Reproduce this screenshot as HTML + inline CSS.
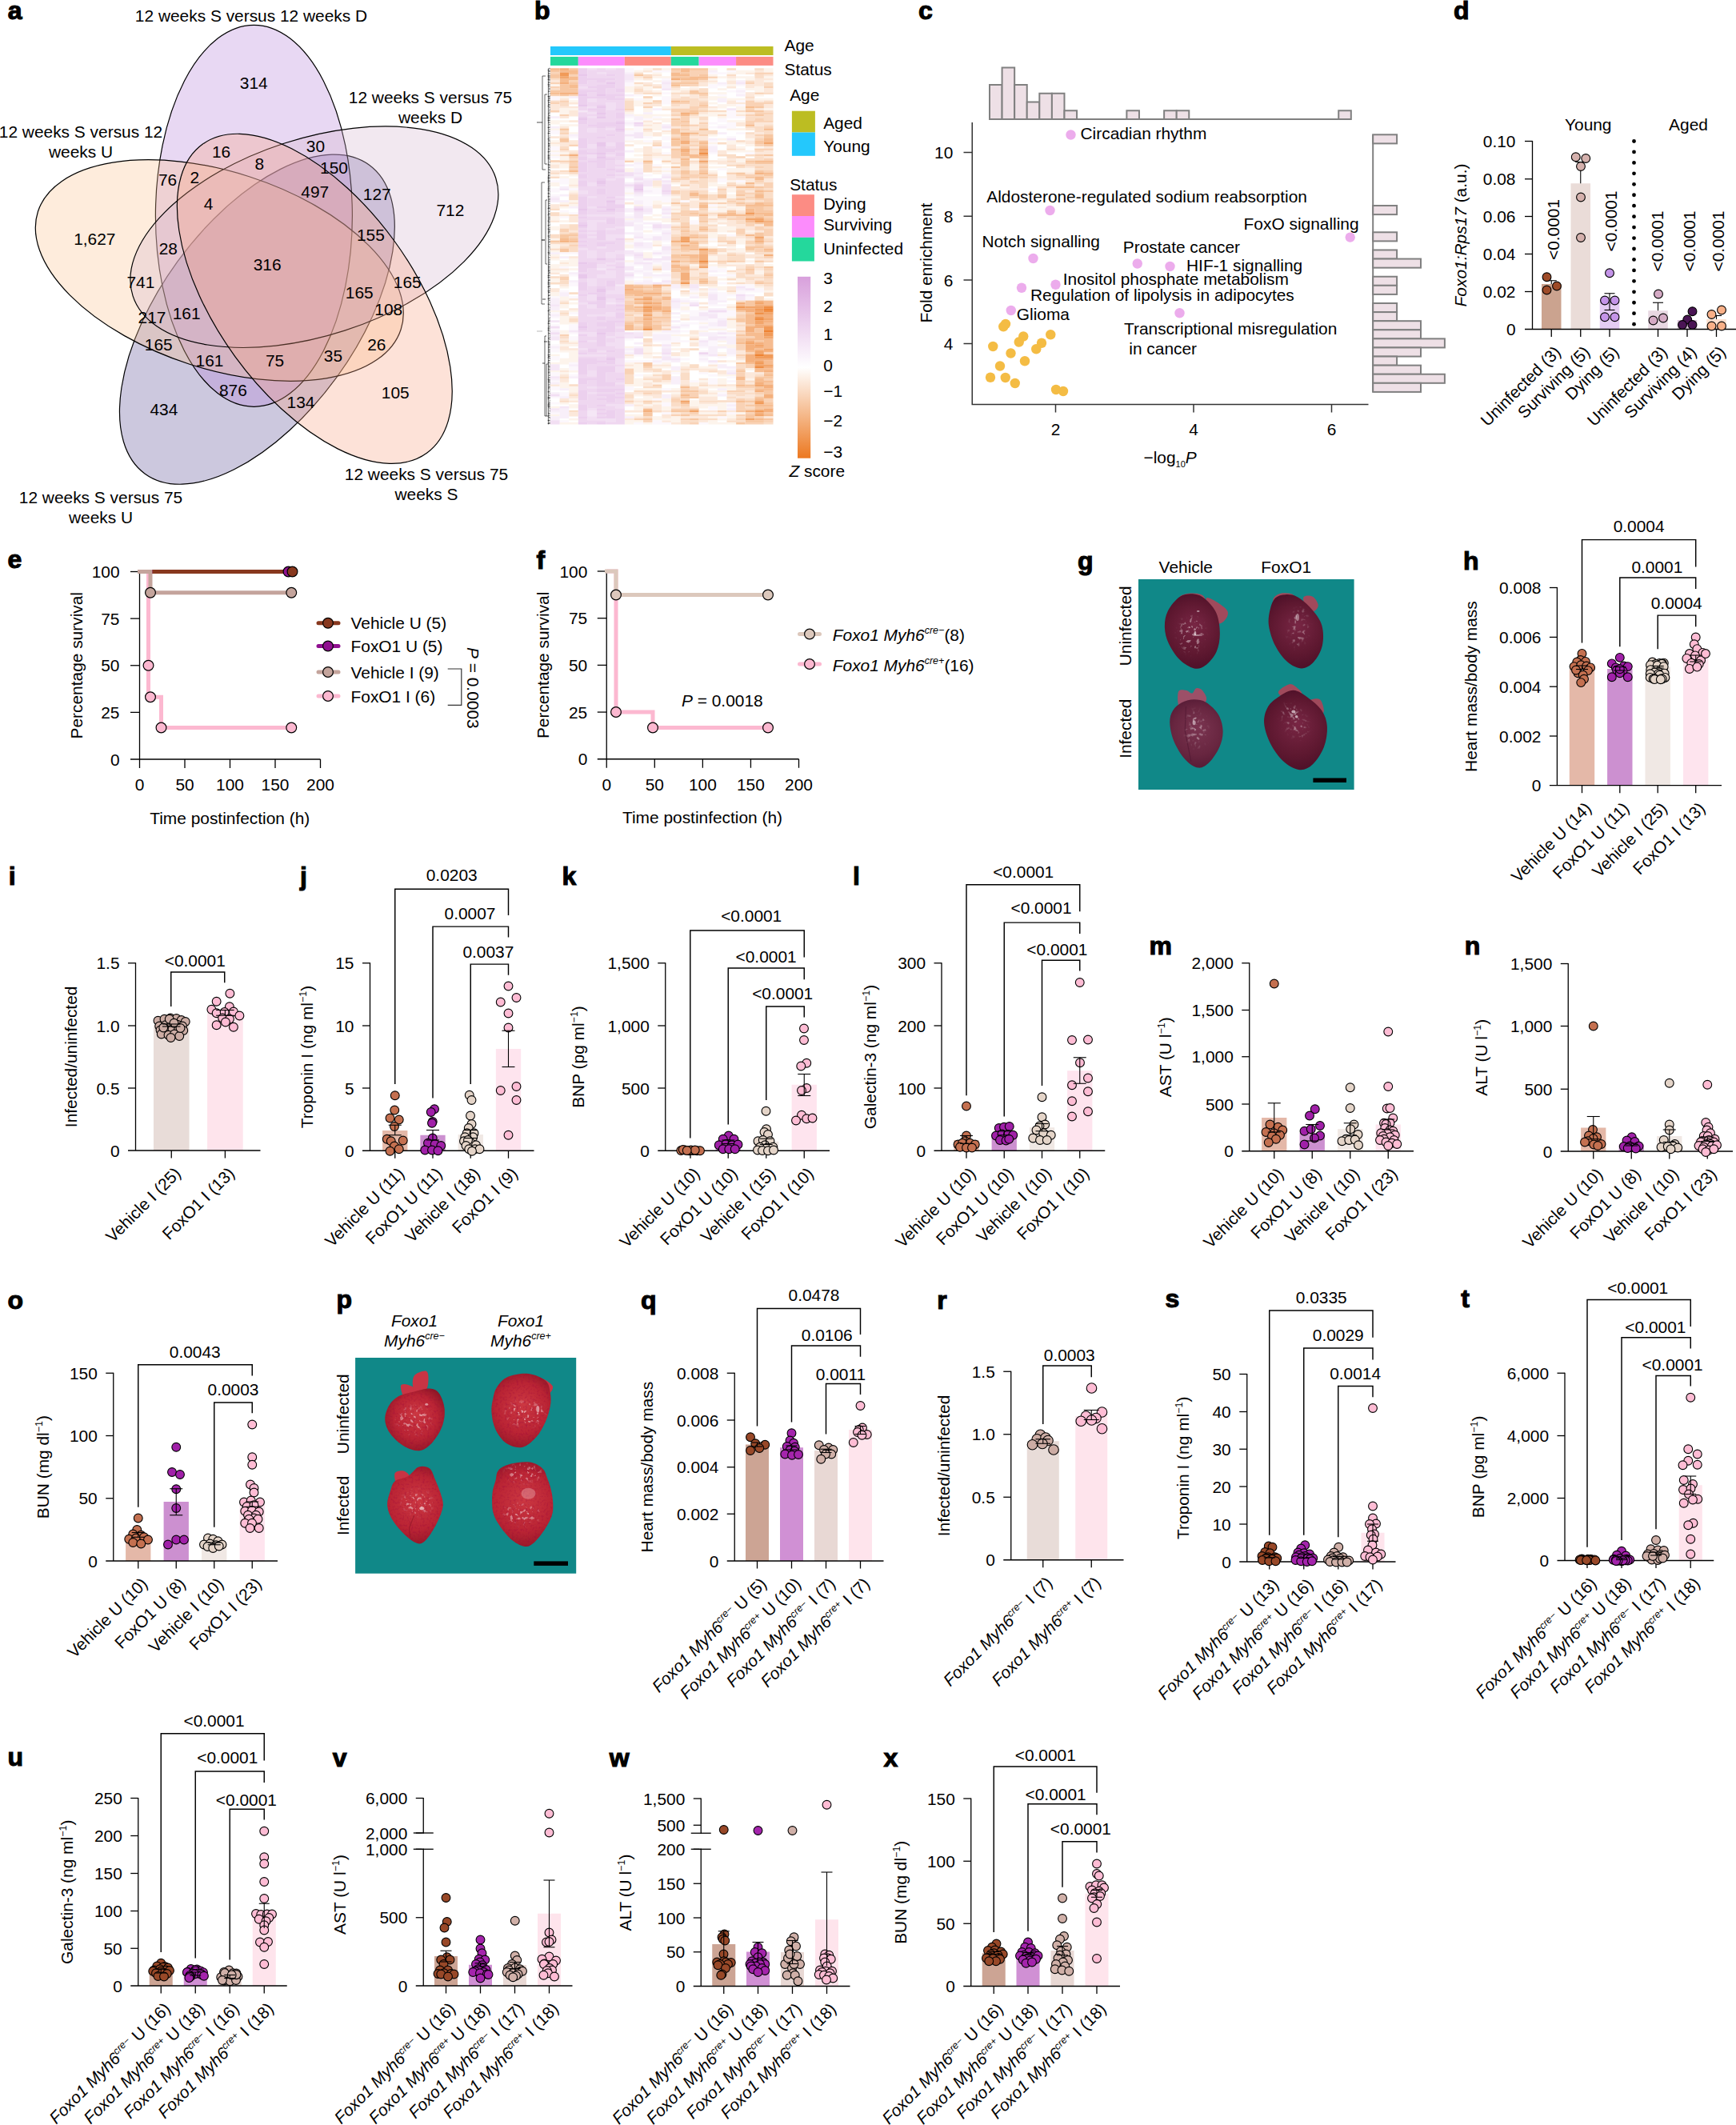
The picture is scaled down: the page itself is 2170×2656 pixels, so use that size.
<!DOCTYPE html><html><head><meta charset="utf-8"><title>Figure</title><style>html,body{margin:0;padding:0;background:#fff}svg{display:block}text{font-family:"Liberation Sans",sans-serif}</style></head><body>
<svg width="2170" height="2656" viewBox="0 0 2170 2656" font-size="20.9" fill="#000" stroke="none">
<rect width="2170" height="2656" fill="#fff"/>
<text x="9.8" y="24.4" font-size="32" font-weight="bold" stroke="#000" stroke-width="1.1">a</text>
<ellipse cx="0" cy="0" rx="238.5" ry="123" transform="translate(321.4 399.2) rotate(-54)" fill="#554891" fill-opacity="0.3" stroke="#000" stroke-width="1.2"/>
<ellipse cx="0" cy="0" rx="238.5" ry="123" transform="translate(317.4 269.8) rotate(90)" fill="#B27DD7" fill-opacity="0.3" stroke="#000" stroke-width="1.2"/>
<ellipse cx="0" cy="0" rx="238.5" ry="123" transform="translate(274.3 338) rotate(18)" fill="#FCC08A" fill-opacity="0.3" stroke="#000" stroke-width="1.2"/>
<ellipse cx="0" cy="0" rx="238.5" ry="123" transform="translate(392.9 296.2) rotate(-18)" fill="#D4B2CD" fill-opacity="0.3" stroke="#000" stroke-width="1.2"/>
<ellipse cx="0" cy="0" rx="238.5" ry="123" transform="translate(393.3 373.3) rotate(54)" fill="#F89E7D" fill-opacity="0.3" stroke="#000" stroke-width="1.2"/>
<text text-anchor="middle" x="317.3" y="111.1">314</text>
<text text-anchor="middle" x="562.9" y="269.7">712</text>
<text text-anchor="middle" x="118.3" y="306.2">1,627</text>
<text text-anchor="middle" x="494.3" y="497.7">105</text>
<text text-anchor="middle" x="204.9" y="518.9">434</text>
<text text-anchor="middle" x="276.5" y="197.3">16</text>
<text text-anchor="middle" x="394.4" y="189.8">30</text>
<text text-anchor="middle" x="324.3" y="212.2">8</text>
<text text-anchor="middle" x="417.5" y="217.2">150</text>
<text text-anchor="middle" x="209.6" y="231.7">76</text>
<text text-anchor="middle" x="243.2" y="228.6">2</text>
<text text-anchor="middle" x="393.7" y="247">497</text>
<text text-anchor="middle" x="471.2" y="250.2">127</text>
<text text-anchor="middle" x="260.5" y="261.9">4</text>
<text text-anchor="middle" x="463.4" y="300.7">155</text>
<text text-anchor="middle" x="210.3" y="317.5">28</text>
<text text-anchor="middle" x="334.1" y="337.9">316</text>
<text text-anchor="middle" x="175.9" y="359.8">741</text>
<text text-anchor="middle" x="509.2" y="359.8">165</text>
<text text-anchor="middle" x="449.3" y="373.1">165</text>
<text text-anchor="middle" x="485.7" y="393.5">108</text>
<text text-anchor="middle" x="190" y="404.1">217</text>
<text text-anchor="middle" x="233.1" y="399">161</text>
<text text-anchor="middle" x="198.2" y="438.2">165</text>
<text text-anchor="middle" x="470.8" y="438.2">26</text>
<text text-anchor="middle" x="262" y="457.8">161</text>
<text text-anchor="middle" x="343.5" y="457.8">75</text>
<text text-anchor="middle" x="416.4" y="452.3">35</text>
<text text-anchor="middle" x="291.4" y="495.4">876</text>
<text text-anchor="middle" x="376" y="510.2">134</text>
<text text-anchor="middle" x="314" y="27">12 weeks S versus 12 weeks D</text>
<text text-anchor="middle" x="538" y="129">12 weeks S versus 75</text>
<text text-anchor="middle" x="538" y="154">weeks D</text>
<text text-anchor="middle" x="101" y="172">12 weeks S versus 12</text>
<text text-anchor="middle" x="101" y="197">weeks U</text>
<text text-anchor="middle" x="533" y="600">12 weeks S versus 75</text>
<text text-anchor="middle" x="533" y="625">weeks S</text>
<text text-anchor="middle" x="126" y="629">12 weeks S versus 75</text>
<text text-anchor="middle" x="126" y="654">weeks U</text>
<text x="668" y="24" font-size="32" font-weight="bold" stroke="#000" stroke-width="1.1">b</text>
<rect x="688" y="58" width="150.85" height="11" fill="#24C8FC"/>
<rect x="838.85" y="58" width="127.65" height="11" fill="#BCBD22"/>
<rect x="688" y="70.9" width="34.81" height="11" fill="#24D89C"/>
<rect x="722.81" y="70.9" width="58.02" height="11" fill="#FC8CFC"/>
<rect x="780.83" y="70.9" width="58.02" height="11" fill="#FC8C84"/>
<rect x="838.85" y="70.9" width="34.81" height="11" fill="#24D89C"/>
<rect x="873.67" y="70.9" width="46.42" height="11" fill="#FC8CFC"/>
<rect x="920.08" y="70.9" width="46.42" height="11" fill="#FC8C84"/>
<path d="M943.29 444.15h11.6M954.9 386.65h11.6M954.9 414.15h11.6" stroke="#ee8333" stroke-width="2.85" fill="none"/>
<path d="M804.04 411.65h11.6M873.67 191.65h11.6M873.67 326.65h11.6M943.29 391.65h11.6M943.29 399.15h11.6M943.29 459.15h11.6M954.9 384.15h11.6M954.9 389.15h11.6" stroke="#ef8e45" stroke-width="2.85" fill="none"/>
<path d="M699.6 91.65h11.6M699.6 94.15h11.6M804.04 384.15h11.6M850.46 301.65h11.6M850.46 354.15h11.6M873.67 311.65h11.6M920.08 384.15h11.6M931.69 266.65h11.6M943.29 276.65h11.6M943.29 386.65h11.6M943.29 396.65h11.6M943.29 446.65h11.6M943.29 454.15h11.6M943.29 504.15h11.6M943.29 514.15h11.6M954.9 409.15h11.6M954.9 411.65h11.6M954.9 416.65h11.6M954.9 419.15h11.6M954.9 444.15h11.6M954.9 446.65h11.6" stroke="#f19a58" stroke-width="2.85" fill="none"/>
<path d="M699.6 96.65h11.6M804.04 374.15h11.6M804.04 379.15h11.6M804.04 386.65h11.6M804.04 389.15h11.6M804.04 394.15h11.6M850.46 296.65h11.6M850.46 299.15h11.6M850.46 501.65h11.6M862.06 514.15h11.6M873.67 186.65h11.6M873.67 201.65h11.6M873.67 334.15h11.6M931.69 274.15h11.6M931.69 384.15h11.6M931.69 429.15h11.6M931.69 524.15h11.6M943.29 274.15h11.6M943.29 296.65h11.6M943.29 379.15h11.6M943.29 384.15h11.6M943.29 389.15h11.6M943.29 401.65h11.6M943.29 404.15h11.6M943.29 431.65h11.6M943.29 439.15h11.6M943.29 441.65h11.6M943.29 451.65h11.6M943.29 456.65h11.6M943.29 481.65h11.6M943.29 501.65h11.6M943.29 519.15h11.6M954.9 179.15h11.6M954.9 391.65h11.6M954.9 399.15h11.6M954.9 421.65h11.6M954.9 436.65h11.6M954.9 456.65h11.6" stroke="#f2a56a" stroke-width="2.85" fill="none"/>
<path d="M699.6 86.65h11.6M699.6 104.15h11.6M699.6 116.65h11.6M699.6 301.65h11.6M711.21 116.65h11.6M711.21 194.15h11.6M780.83 361.65h11.6M792.44 374.15h11.6M804.04 366.65h11.6M804.04 371.65h11.6M804.04 399.15h11.6M804.04 409.15h11.6M804.04 514.15h11.6M815.65 356.65h11.6M815.65 366.65h11.6M815.65 379.15h11.6M815.65 384.15h11.6M815.65 386.65h11.6M827.25 389.15h11.6M838.85 99.15h11.6M838.85 301.65h11.6M838.85 326.65h11.6M850.46 141.65h11.6M850.46 166.65h11.6M850.46 176.65h11.6M850.46 179.15h11.6M850.46 186.65h11.6M850.46 189.15h11.6M850.46 306.65h11.6M850.46 341.65h11.6M850.46 344.15h11.6M850.46 346.65h11.6M850.46 349.15h11.6M873.67 189.15h11.6M873.67 194.15h11.6M873.67 319.15h11.6M873.67 321.65h11.6M873.67 324.15h11.6M873.67 329.15h11.6M920.08 379.15h11.6M920.08 386.65h11.6M931.69 386.65h11.6M931.69 389.15h11.6M931.69 409.15h11.6M931.69 411.65h11.6M931.69 414.15h11.6M931.69 426.65h11.6M931.69 431.65h11.6M931.69 434.15h11.6M931.69 436.65h11.6M931.69 444.15h11.6M931.69 446.65h11.6M931.69 449.15h11.6M931.69 451.65h11.6M931.69 514.15h11.6M943.29 216.65h11.6M943.29 301.65h11.6M943.29 376.65h11.6M943.29 381.65h11.6M943.29 394.15h11.6M943.29 406.65h11.6M943.29 409.15h11.6M943.29 429.15h11.6M943.29 434.15h11.6M943.29 449.15h11.6M943.29 479.15h11.6M943.29 489.15h11.6M943.29 516.65h11.6M954.9 276.65h11.6M954.9 319.15h11.6M954.9 381.65h11.6M954.9 394.15h11.6M954.9 396.65h11.6M954.9 401.65h11.6M954.9 406.65h11.6M954.9 439.15h11.6M954.9 449.15h11.6M954.9 459.15h11.6M954.9 464.15h11.6M954.9 481.65h11.6M954.9 484.15h11.6M954.9 494.15h11.6M954.9 496.65h11.6M954.9 511.65h11.6M954.9 514.15h11.6" stroke="#f4b07d" stroke-width="2.85" fill="none"/>
<path d="M688 86.65h11.6M688 116.65h11.6M699.6 89.15h11.6M699.6 99.15h11.6M699.6 101.65h11.6M699.6 299.15h11.6M711.21 89.15h11.6M711.21 91.65h11.6M711.21 96.65h11.6M711.21 99.15h11.6M711.21 106.65h11.6M711.21 109.15h11.6M711.21 214.15h11.6M711.21 301.65h11.6M780.83 356.65h11.6M780.83 359.15h11.6M780.83 364.15h11.6M780.83 366.65h11.6M780.83 406.65h11.6M780.83 409.15h11.6M780.83 411.65h11.6M792.44 359.15h11.6M792.44 364.15h11.6M792.44 366.65h11.6M792.44 369.15h11.6M792.44 379.15h11.6M792.44 384.15h11.6M804.04 201.65h11.6M804.04 376.65h11.6M804.04 381.65h11.6M804.04 391.65h11.6M804.04 396.65h11.6M804.04 401.65h11.6M804.04 404.15h11.6M804.04 406.65h11.6M804.04 511.65h11.6M815.65 359.15h11.6M815.65 381.65h11.6M827.25 356.65h11.6M827.25 371.65h11.6M827.25 374.15h11.6M827.25 384.15h11.6M827.25 386.65h11.6M838.85 91.65h11.6M838.85 94.15h11.6M838.85 106.65h11.6M838.85 126.65h11.6M838.85 174.15h11.6M838.85 331.65h11.6M838.85 334.15h11.6M850.46 86.65h11.6M850.46 89.15h11.6M850.46 94.15h11.6M850.46 99.15h11.6M850.46 144.15h11.6M850.46 169.15h11.6M850.46 191.65h11.6M850.46 194.15h11.6M850.46 199.15h11.6M850.46 319.15h11.6M850.46 334.15h11.6M850.46 336.65h11.6M850.46 351.65h11.6M850.46 484.15h11.6M850.46 494.15h11.6M850.46 504.15h11.6M862.06 96.65h11.6M862.06 99.15h11.6M862.06 141.65h11.6M862.06 166.65h11.6M862.06 194.15h11.6M862.06 196.65h11.6M862.06 241.65h11.6M862.06 244.15h11.6M862.06 296.65h11.6M862.06 304.15h11.6M862.06 311.65h11.6M862.06 319.15h11.6M862.06 321.65h11.6M862.06 326.65h11.6M873.67 96.65h11.6M873.67 161.65h11.6M873.67 179.15h11.6M873.67 184.15h11.6M873.67 196.65h11.6M873.67 216.65h11.6M873.67 256.65h11.6M873.67 259.15h11.6M873.67 269.15h11.6M873.67 286.65h11.6M873.67 314.15h11.6M873.67 316.65h11.6M873.67 331.65h11.6M873.67 351.65h11.6M896.88 269.15h11.6M908.48 266.65h11.6M908.48 269.15h11.6M920.08 234.15h11.6M920.08 269.15h11.6M920.08 381.65h11.6M920.08 429.15h11.6M920.08 471.65h11.6M920.08 474.15h11.6M920.08 481.65h11.6M920.08 501.65h11.6M931.69 134.15h11.6M931.69 156.65h11.6M931.69 229.15h11.6M931.69 234.15h11.6M931.69 256.65h11.6M931.69 261.65h11.6M931.69 264.15h11.6M931.69 269.15h11.6M931.69 276.65h11.6M931.69 294.15h11.6M931.69 394.15h11.6M931.69 396.65h11.6M931.69 399.15h11.6M931.69 401.65h11.6M931.69 404.15h11.6M931.69 416.65h11.6M931.69 419.15h11.6M931.69 424.15h11.6M931.69 439.15h11.6M931.69 454.15h11.6M943.29 201.65h11.6M943.29 221.65h11.6M943.29 224.15h11.6M943.29 239.15h11.6M943.29 244.15h11.6M943.29 246.65h11.6M943.29 254.15h11.6M943.29 256.65h11.6M943.29 266.65h11.6M943.29 271.65h11.6M943.29 299.15h11.6M943.29 416.65h11.6M943.29 419.15h11.6M943.29 421.65h11.6M943.29 424.15h11.6M943.29 436.65h11.6M943.29 461.65h11.6M943.29 464.15h11.6M943.29 474.15h11.6M943.29 476.65h11.6M943.29 486.65h11.6M943.29 499.15h11.6M943.29 506.65h11.6M943.29 511.65h11.6M943.29 524.15h11.6M954.9 161.65h11.6M954.9 174.15h11.6M954.9 176.65h11.6M954.9 201.65h11.6M954.9 216.65h11.6M954.9 256.65h11.6M954.9 266.65h11.6M954.9 269.15h11.6M954.9 279.15h11.6M954.9 281.65h11.6M954.9 311.65h11.6M954.9 376.65h11.6M954.9 379.15h11.6M954.9 404.15h11.6M954.9 424.15h11.6M954.9 426.65h11.6M954.9 429.15h11.6M954.9 431.65h11.6M954.9 434.15h11.6M954.9 451.65h11.6M954.9 454.15h11.6M954.9 461.65h11.6M954.9 469.15h11.6M954.9 476.65h11.6M954.9 486.65h11.6M954.9 506.65h11.6M954.9 519.15h11.6" stroke="#f6bc90" stroke-width="2.85" fill="none"/>
<path d="M688 89.15h11.6M688 94.15h11.6M688 96.65h11.6M688 114.15h11.6M688 301.65h11.6M699.6 106.65h11.6M699.6 109.15h11.6M699.6 111.65h11.6M699.6 114.15h11.6M699.6 119.15h11.6M699.6 161.65h11.6M699.6 174.15h11.6M699.6 176.65h11.6M699.6 294.15h11.6M699.6 296.65h11.6M699.6 311.65h11.6M699.6 314.15h11.6M711.21 86.65h11.6M711.21 104.15h11.6M711.21 111.65h11.6M711.21 114.15h11.6M711.21 201.65h11.6M711.21 209.15h11.6M711.21 294.15h11.6M711.21 299.15h11.6M780.83 369.15h11.6M780.83 381.65h11.6M780.83 384.15h11.6M780.83 386.65h11.6M780.83 404.15h11.6M792.44 94.15h11.6M792.44 356.65h11.6M792.44 361.65h11.6M792.44 376.65h11.6M792.44 386.65h11.6M792.44 389.15h11.6M792.44 401.65h11.6M792.44 411.65h11.6M804.04 359.15h11.6M804.04 364.15h11.6M804.04 369.15h11.6M804.04 454.15h11.6M804.04 456.65h11.6M804.04 516.65h11.6M804.04 519.15h11.6M804.04 524.15h11.6M815.65 361.65h11.6M815.65 364.15h11.6M815.65 369.15h11.6M815.65 374.15h11.6M815.65 376.65h11.6M815.65 389.15h11.6M815.65 396.65h11.6M815.65 401.65h11.6M815.65 406.65h11.6M815.65 409.15h11.6M815.65 411.65h11.6M827.25 366.65h11.6M827.25 391.65h11.6M827.25 396.65h11.6M838.85 86.65h11.6M838.85 96.65h11.6M838.85 104.15h11.6M838.85 149.15h11.6M838.85 161.65h11.6M838.85 164.15h11.6M838.85 166.65h11.6M838.85 176.65h11.6M838.85 179.15h11.6M838.85 181.65h11.6M838.85 186.65h11.6M838.85 209.15h11.6M838.85 254.15h11.6M838.85 319.15h11.6M838.85 321.65h11.6M838.85 336.65h11.6M838.85 339.15h11.6M838.85 514.15h11.6M850.46 91.65h11.6M850.46 96.65h11.6M850.46 104.15h11.6M850.46 126.65h11.6M850.46 151.65h11.6M850.46 156.65h11.6M850.46 171.65h11.6M850.46 174.15h11.6M850.46 184.15h11.6M850.46 201.65h11.6M850.46 204.15h11.6M850.46 206.65h11.6M850.46 214.15h11.6M850.46 216.65h11.6M850.46 221.65h11.6M850.46 284.15h11.6M850.46 289.15h11.6M850.46 309.15h11.6M850.46 311.65h11.6M850.46 321.65h11.6M850.46 326.65h11.6M850.46 339.15h11.6M850.46 489.15h11.6M850.46 496.65h11.6M850.46 514.15h11.6M850.46 519.15h11.6M862.06 86.65h11.6M862.06 104.15h11.6M862.06 114.15h11.6M862.06 116.65h11.6M862.06 139.15h11.6M862.06 266.65h11.6M862.06 294.15h11.6M862.06 301.65h11.6M862.06 306.65h11.6M862.06 309.15h11.6M862.06 324.15h11.6M862.06 489.15h11.6M862.06 496.65h11.6M862.06 511.65h11.6M862.06 524.15h11.6M873.67 86.65h11.6M873.67 94.15h11.6M873.67 99.15h11.6M873.67 116.65h11.6M873.67 131.65h11.6M873.67 176.65h11.6M873.67 181.65h11.6M873.67 204.15h11.6M873.67 209.15h11.6M873.67 214.15h11.6M873.67 221.65h11.6M873.67 244.15h11.6M873.67 246.65h11.6M873.67 254.15h11.6M873.67 276.65h11.6M873.67 284.15h11.6M873.67 296.65h11.6M873.67 349.15h11.6M873.67 354.15h11.6M885.27 311.65h11.6M885.27 314.15h11.6M896.88 244.15h11.6M896.88 246.65h11.6M908.48 264.15h11.6M908.48 326.65h11.6M920.08 216.65h11.6M920.08 244.15h11.6M920.08 249.15h11.6M920.08 254.15h11.6M920.08 389.15h11.6M920.08 399.15h11.6M920.08 401.65h11.6M920.08 419.15h11.6M920.08 424.15h11.6M920.08 426.65h11.6M920.08 454.15h11.6M920.08 464.15h11.6M920.08 514.15h11.6M920.08 529.15h11.6M931.69 139.15h11.6M931.69 201.65h11.6M931.69 221.65h11.6M931.69 259.15h11.6M931.69 271.65h11.6M931.69 309.15h11.6M931.69 311.65h11.6M931.69 336.65h11.6M931.69 376.65h11.6M931.69 379.15h11.6M931.69 381.65h11.6M931.69 391.65h11.6M931.69 406.65h11.6M931.69 481.65h11.6M931.69 501.65h11.6M931.69 506.65h11.6M931.69 519.15h11.6M931.69 521.65h11.6M931.69 526.65h11.6M943.29 134.15h11.6M943.29 139.15h11.6M943.29 144.15h11.6M943.29 176.65h11.6M943.29 179.15h11.6M943.29 204.15h11.6M943.29 214.15h11.6M943.29 234.15h11.6M943.29 241.65h11.6M943.29 259.15h11.6M943.29 261.65h11.6M943.29 264.15h11.6M943.29 269.15h11.6M943.29 279.15h11.6M943.29 291.65h11.6M943.29 294.15h11.6M943.29 304.15h11.6M943.29 309.15h11.6M943.29 326.65h11.6M943.29 354.15h11.6M943.29 411.65h11.6M943.29 414.15h11.6M943.29 426.65h11.6M943.29 471.65h11.6M943.29 484.15h11.6M943.29 496.65h11.6M943.29 509.15h11.6M943.29 526.65h11.6M954.9 169.15h11.6M954.9 171.65h11.6M954.9 181.65h11.6M954.9 194.15h11.6M954.9 204.15h11.6M954.9 219.15h11.6M954.9 239.15h11.6M954.9 254.15h11.6M954.9 264.15h11.6M954.9 274.15h11.6M954.9 314.15h11.6M954.9 334.15h11.6M954.9 344.15h11.6M954.9 466.65h11.6M954.9 471.65h11.6M954.9 479.15h11.6M954.9 489.15h11.6M954.9 491.65h11.6M954.9 504.15h11.6M954.9 509.15h11.6M954.9 516.65h11.6M954.9 524.15h11.6" stroke="#f7c7a2" stroke-width="2.85" fill="none"/>
<path d="M688 91.65h11.6M688 104.15h11.6M688 109.15h11.6M688 119.15h11.6M688 129.15h11.6M688 139.15h11.6M688 201.65h11.6M699.6 126.65h11.6M699.6 144.15h11.6M699.6 166.65h11.6M699.6 186.65h11.6M699.6 194.15h11.6M699.6 201.65h11.6M699.6 286.65h11.6M699.6 289.15h11.6M699.6 346.65h11.6M699.6 349.15h11.6M699.6 419.15h11.6M711.21 94.15h11.6M711.21 101.65h11.6M711.21 119.15h11.6M711.21 181.65h11.6M711.21 196.65h11.6M711.21 204.15h11.6M711.21 206.65h11.6M711.21 211.65h11.6M711.21 291.65h11.6M711.21 296.65h11.6M711.21 306.65h11.6M780.83 136.65h11.6M780.83 201.65h11.6M780.83 371.65h11.6M780.83 376.65h11.6M780.83 379.15h11.6M780.83 389.15h11.6M780.83 394.15h11.6M780.83 401.65h11.6M780.83 461.65h11.6M780.83 464.15h11.6M780.83 466.65h11.6M780.83 501.65h11.6M792.44 371.65h11.6M792.44 396.65h11.6M792.44 399.15h11.6M792.44 404.15h11.6M792.44 409.15h11.6M792.44 524.15h11.6M804.04 96.65h11.6M804.04 121.65h11.6M804.04 129.15h11.6M804.04 134.15h11.6M804.04 204.15h11.6M804.04 356.65h11.6M804.04 361.65h11.6M804.04 459.15h11.6M804.04 491.65h11.6M804.04 501.65h11.6M804.04 526.65h11.6M815.65 126.65h11.6M815.65 181.65h11.6M815.65 336.65h11.6M815.65 371.65h11.6M815.65 399.15h11.6M815.65 404.15h11.6M815.65 481.65h11.6M827.25 201.65h11.6M827.25 376.65h11.6M827.25 379.15h11.6M827.25 381.65h11.6M827.25 394.15h11.6M827.25 399.15h11.6M827.25 401.65h11.6M827.25 406.65h11.6M827.25 411.65h11.6M827.25 469.15h11.6M827.25 471.65h11.6M827.25 474.15h11.6M838.85 89.15h11.6M838.85 129.15h11.6M838.85 136.65h11.6M838.85 139.15h11.6M838.85 144.15h11.6M838.85 151.65h11.6M838.85 154.15h11.6M838.85 156.65h11.6M838.85 171.65h11.6M838.85 189.15h11.6M838.85 191.65h11.6M838.85 194.15h11.6M838.85 196.65h11.6M838.85 224.15h11.6M838.85 239.15h11.6M838.85 241.65h11.6M838.85 266.65h11.6M838.85 274.15h11.6M838.85 284.15h11.6M838.85 296.65h11.6M838.85 299.15h11.6M838.85 304.15h11.6M838.85 306.65h11.6M838.85 311.65h11.6M838.85 324.15h11.6M838.85 329.15h11.6M838.85 499.15h11.6M838.85 501.65h11.6M838.85 511.65h11.6M838.85 519.15h11.6M850.46 101.65h11.6M850.46 106.65h11.6M850.46 129.15h11.6M850.46 136.65h11.6M850.46 139.15h11.6M850.46 146.65h11.6M850.46 149.15h11.6M850.46 154.15h11.6M850.46 161.65h11.6M850.46 181.65h11.6M850.46 196.65h11.6M850.46 219.15h11.6M850.46 224.15h11.6M850.46 231.65h11.6M850.46 256.65h11.6M850.46 264.15h11.6M850.46 266.65h11.6M850.46 269.15h11.6M850.46 279.15h11.6M850.46 281.65h11.6M850.46 286.65h11.6M850.46 291.65h11.6M850.46 294.15h11.6M850.46 304.15h11.6M850.46 314.15h11.6M850.46 324.15h11.6M850.46 331.65h11.6M850.46 486.65h11.6M850.46 491.65h11.6M850.46 506.65h11.6M850.46 511.65h11.6M850.46 524.15h11.6M862.06 89.15h11.6M862.06 91.65h11.6M862.06 94.15h11.6M862.06 101.65h11.6M862.06 106.65h11.6M862.06 134.15h11.6M862.06 136.65h11.6M862.06 156.65h11.6M862.06 176.65h11.6M862.06 181.65h11.6M862.06 186.65h11.6M862.06 219.15h11.6M862.06 221.65h11.6M862.06 226.65h11.6M862.06 239.15h11.6M862.06 246.65h11.6M862.06 264.15h11.6M862.06 269.15h11.6M862.06 329.15h11.6M862.06 336.65h11.6M862.06 424.15h11.6M862.06 491.65h11.6M862.06 494.15h11.6M862.06 516.65h11.6M862.06 529.15h11.6M873.67 89.15h11.6M873.67 91.65h11.6M873.67 119.15h11.6M873.67 129.15h11.6M873.67 134.15h11.6M873.67 139.15h11.6M873.67 154.15h11.6M873.67 169.15h11.6M873.67 199.15h11.6M873.67 206.65h11.6M873.67 211.65h11.6M873.67 219.15h11.6M873.67 249.15h11.6M873.67 261.65h11.6M873.67 266.65h11.6M873.67 271.65h11.6M873.67 274.15h11.6M873.67 289.15h11.6M873.67 294.15h11.6M873.67 301.65h11.6M873.67 341.65h11.6M885.27 96.65h11.6M885.27 219.15h11.6M885.27 316.65h11.6M896.88 236.65h11.6M896.88 254.15h11.6M896.88 266.65h11.6M896.88 271.65h11.6M896.88 301.65h11.6M896.88 326.65h11.6M896.88 514.15h11.6M908.48 216.65h11.6M908.48 231.65h11.6M908.48 251.65h11.6M908.48 274.15h11.6M908.48 301.65h11.6M908.48 304.15h11.6M908.48 319.15h11.6M908.48 489.15h11.6M920.08 196.65h11.6M920.08 206.65h11.6M920.08 219.15h11.6M920.08 239.15h11.6M920.08 241.65h11.6M920.08 256.65h11.6M920.08 271.65h11.6M920.08 274.15h11.6M920.08 286.65h11.6M920.08 289.15h11.6M920.08 291.65h11.6M920.08 326.65h11.6M920.08 394.15h11.6M920.08 396.65h11.6M920.08 414.15h11.6M920.08 421.65h11.6M920.08 431.65h11.6M920.08 434.15h11.6M920.08 436.65h11.6M920.08 444.15h11.6M920.08 461.65h11.6M920.08 466.65h11.6M920.08 469.15h11.6M920.08 476.65h11.6M920.08 479.15h11.6M920.08 484.15h11.6M920.08 489.15h11.6M920.08 499.15h11.6M920.08 504.15h11.6M920.08 506.65h11.6M920.08 509.15h11.6M920.08 511.65h11.6M920.08 519.15h11.6M920.08 524.15h11.6M931.69 104.15h11.6M931.69 126.65h11.6M931.69 129.15h11.6M931.69 131.65h11.6M931.69 136.65h11.6M931.69 144.15h11.6M931.69 151.65h11.6M931.69 154.15h11.6M931.69 204.15h11.6M931.69 219.15h11.6M931.69 231.65h11.6M931.69 241.65h11.6M931.69 246.65h11.6M931.69 254.15h11.6M931.69 279.15h11.6M931.69 281.65h11.6M931.69 301.65h11.6M931.69 304.15h11.6M931.69 334.15h11.6M931.69 339.15h11.6M931.69 341.65h11.6M931.69 421.65h11.6M931.69 441.65h11.6M931.69 456.65h11.6M931.69 459.15h11.6M931.69 484.15h11.6M931.69 511.65h11.6M931.69 516.65h11.6M931.69 529.15h11.6M943.29 91.65h11.6M943.29 116.65h11.6M943.29 129.15h11.6M943.29 131.65h11.6M943.29 141.65h11.6M943.29 149.15h11.6M943.29 151.65h11.6M943.29 169.15h11.6M943.29 174.15h11.6M943.29 181.65h11.6M943.29 186.65h11.6M943.29 194.15h11.6M943.29 209.15h11.6M943.29 219.15h11.6M943.29 226.65h11.6M943.29 236.65h11.6M943.29 249.15h11.6M943.29 284.15h11.6M943.29 286.65h11.6M943.29 306.65h11.6M943.29 311.65h11.6M943.29 314.15h11.6M943.29 351.65h11.6M943.29 491.65h11.6M943.29 521.65h11.6M943.29 529.15h11.6M954.9 91.65h11.6M954.9 109.15h11.6M954.9 129.15h11.6M954.9 141.65h11.6M954.9 151.65h11.6M954.9 159.15h11.6M954.9 186.65h11.6M954.9 199.15h11.6M954.9 214.15h11.6M954.9 221.65h11.6M954.9 229.15h11.6M954.9 231.65h11.6M954.9 234.15h11.6M954.9 249.15h11.6M954.9 251.65h11.6M954.9 259.15h11.6M954.9 261.65h11.6M954.9 271.65h11.6M954.9 286.65h11.6M954.9 289.15h11.6M954.9 291.65h11.6M954.9 294.15h11.6M954.9 301.65h11.6M954.9 309.15h11.6M954.9 321.65h11.6M954.9 336.65h11.6M954.9 341.65h11.6M954.9 346.65h11.6M954.9 354.15h11.6M954.9 441.65h11.6M954.9 474.15h11.6M954.9 499.15h11.6M954.9 501.65h11.6M954.9 526.65h11.6" stroke="#f9d2b5" stroke-width="2.85" fill="none"/>
<path d="M688 99.15h11.6M688 111.65h11.6M688 126.65h11.6M688 216.65h11.6M688 221.65h11.6M688 261.65h11.6M688 266.65h11.6M688 269.15h11.6M688 294.15h11.6M688 296.65h11.6M688 304.15h11.6M688 311.65h11.6M688 346.65h11.6M688 354.15h11.6M699.6 129.15h11.6M699.6 131.65h11.6M699.6 164.15h11.6M699.6 171.65h11.6M699.6 184.15h11.6M699.6 214.15h11.6M699.6 256.65h11.6M699.6 291.65h11.6M699.6 304.15h11.6M699.6 309.15h11.6M699.6 351.65h11.6M699.6 354.15h11.6M699.6 379.15h11.6M699.6 391.65h11.6M699.6 421.65h11.6M699.6 426.65h11.6M699.6 471.65h11.6M699.6 501.65h11.6M711.21 191.65h11.6M711.21 199.15h11.6M711.21 216.65h11.6M711.21 244.15h11.6M711.21 246.65h11.6M711.21 249.15h11.6M711.21 269.15h11.6M711.21 281.65h11.6M711.21 284.15h11.6M711.21 286.65h11.6M711.21 304.15h11.6M711.21 309.15h11.6M711.21 311.65h11.6M711.21 314.15h11.6M711.21 366.65h11.6M711.21 399.15h11.6M711.21 401.65h11.6M711.21 481.65h11.6M711.21 494.15h11.6M711.21 514.15h11.6M780.83 126.65h11.6M780.83 129.15h11.6M780.83 131.65h11.6M780.83 134.15h11.6M780.83 374.15h11.6M780.83 391.65h11.6M780.83 396.65h11.6M780.83 399.15h11.6M780.83 469.15h11.6M780.83 471.65h11.6M780.83 474.15h11.6M780.83 476.65h11.6M780.83 479.15h11.6M780.83 494.15h11.6M780.83 496.65h11.6M792.44 91.65h11.6M792.44 104.15h11.6M792.44 111.65h11.6M792.44 114.15h11.6M792.44 381.65h11.6M792.44 391.65h11.6M792.44 406.65h11.6M792.44 489.15h11.6M804.04 94.15h11.6M804.04 106.65h11.6M804.04 116.65h11.6M804.04 161.65h11.6M804.04 194.15h11.6M804.04 206.65h11.6M804.04 209.15h11.6M804.04 211.65h11.6M804.04 214.15h11.6M804.04 424.15h11.6M804.04 426.65h11.6M804.04 431.65h11.6M804.04 461.65h11.6M804.04 474.15h11.6M804.04 484.15h11.6M804.04 489.15h11.6M804.04 504.15h11.6M804.04 521.65h11.6M815.65 86.65h11.6M815.65 109.15h11.6M815.65 116.65h11.6M815.65 129.15h11.6M815.65 179.15h11.6M815.65 391.65h11.6M815.65 394.15h11.6M815.65 461.65h11.6M815.65 464.15h11.6M815.65 469.15h11.6M815.65 474.15h11.6M815.65 476.65h11.6M815.65 484.15h11.6M815.65 489.15h11.6M815.65 491.65h11.6M815.65 501.65h11.6M815.65 514.15h11.6M827.25 364.15h11.6M827.25 369.15h11.6M827.25 404.15h11.6M838.85 101.65h11.6M838.85 109.15h11.6M838.85 116.65h11.6M838.85 124.15h11.6M838.85 131.65h11.6M838.85 141.65h11.6M838.85 169.15h11.6M838.85 204.15h11.6M838.85 214.15h11.6M838.85 216.65h11.6M838.85 221.65h11.6M838.85 226.65h11.6M838.85 269.15h11.6M838.85 271.65h11.6M838.85 276.65h11.6M838.85 286.65h11.6M838.85 294.15h11.6M838.85 309.15h11.6M838.85 314.15h11.6M838.85 316.65h11.6M838.85 341.65h11.6M838.85 344.15h11.6M838.85 346.65h11.6M838.85 351.65h11.6M838.85 354.15h11.6M838.85 496.65h11.6M838.85 504.15h11.6M838.85 506.65h11.6M850.46 116.65h11.6M850.46 121.65h11.6M850.46 124.15h11.6M850.46 159.15h11.6M850.46 164.15h11.6M850.46 209.15h11.6M850.46 211.65h11.6M850.46 239.15h11.6M850.46 241.65h11.6M850.46 244.15h11.6M850.46 246.65h11.6M850.46 249.15h11.6M850.46 254.15h11.6M850.46 259.15h11.6M850.46 261.65h11.6M850.46 271.65h11.6M850.46 274.15h11.6M850.46 276.65h11.6M850.46 316.65h11.6M850.46 329.15h11.6M850.46 356.65h11.6M850.46 364.15h11.6M850.46 461.65h11.6M850.46 466.65h11.6M850.46 469.15h11.6M850.46 471.65h11.6M850.46 474.15h11.6M850.46 481.65h11.6M850.46 499.15h11.6M850.46 509.15h11.6M850.46 516.65h11.6M850.46 526.65h11.6M850.46 529.15h11.6M862.06 124.15h11.6M862.06 126.65h11.6M862.06 129.15h11.6M862.06 131.65h11.6M862.06 144.15h11.6M862.06 164.15h11.6M862.06 169.15h11.6M862.06 174.15h11.6M862.06 179.15h11.6M862.06 189.15h11.6M862.06 191.65h11.6M862.06 201.65h11.6M862.06 214.15h11.6M862.06 216.65h11.6M862.06 229.15h11.6M862.06 289.15h11.6M862.06 291.65h11.6M862.06 299.15h11.6M862.06 314.15h11.6M862.06 316.65h11.6M862.06 346.65h11.6M862.06 349.15h11.6M862.06 436.65h11.6M862.06 456.65h11.6M862.06 459.15h11.6M862.06 484.15h11.6M862.06 486.65h11.6M862.06 519.15h11.6M862.06 526.65h11.6M873.67 101.65h11.6M873.67 111.65h11.6M873.67 114.15h11.6M873.67 121.65h11.6M873.67 126.65h11.6M873.67 136.65h11.6M873.67 146.65h11.6M873.67 149.15h11.6M873.67 156.65h11.6M873.67 159.15h11.6M873.67 164.15h11.6M873.67 166.65h11.6M873.67 224.15h11.6M873.67 226.65h11.6M873.67 229.15h11.6M873.67 231.65h11.6M873.67 234.15h11.6M873.67 239.15h11.6M873.67 241.65h11.6M873.67 264.15h11.6M873.67 279.15h11.6M873.67 281.65h11.6M873.67 299.15h11.6M873.67 304.15h11.6M873.67 309.15h11.6M873.67 344.15h11.6M873.67 346.65h11.6M873.67 481.65h11.6M873.67 489.15h11.6M873.67 491.65h11.6M873.67 501.65h11.6M873.67 519.15h11.6M873.67 524.15h11.6M885.27 139.15h11.6M885.27 164.15h11.6M885.27 166.65h11.6M885.27 221.65h11.6M885.27 244.15h11.6M885.27 246.65h11.6M885.27 249.15h11.6M885.27 254.15h11.6M885.27 266.65h11.6M885.27 274.15h11.6M885.27 281.65h11.6M885.27 286.65h11.6M885.27 289.15h11.6M885.27 326.65h11.6M885.27 351.65h11.6M885.27 354.15h11.6M885.27 464.15h11.6M885.27 501.65h11.6M885.27 519.15h11.6M885.27 524.15h11.6M896.88 139.15h11.6M896.88 144.15h11.6M896.88 179.15h11.6M896.88 194.15h11.6M896.88 239.15h11.6M896.88 241.65h11.6M896.88 296.65h11.6M896.88 299.15h11.6M896.88 311.65h11.6M896.88 314.15h11.6M896.88 329.15h11.6M896.88 481.65h11.6M896.88 501.65h11.6M896.88 519.15h11.6M908.48 86.65h11.6M908.48 94.15h11.6M908.48 186.65h11.6M908.48 194.15h11.6M908.48 196.65h11.6M908.48 201.65h11.6M908.48 206.65h11.6M908.48 229.15h11.6M908.48 249.15h11.6M908.48 254.15h11.6M908.48 271.65h11.6M908.48 316.65h11.6M908.48 321.65h11.6M908.48 324.15h11.6M908.48 339.15h11.6M908.48 349.15h11.6M908.48 364.15h11.6M908.48 399.15h11.6M908.48 491.65h11.6M908.48 496.65h11.6M908.48 501.65h11.6M908.48 526.65h11.6M920.08 139.15h11.6M920.08 176.65h11.6M920.08 209.15h11.6M920.08 221.65h11.6M920.08 231.65h11.6M920.08 236.65h11.6M920.08 246.65h11.6M920.08 251.65h11.6M920.08 266.65h11.6M920.08 276.65h11.6M920.08 279.15h11.6M920.08 294.15h11.6M920.08 319.15h11.6M920.08 321.65h11.6M920.08 324.15h11.6M920.08 336.65h11.6M920.08 341.65h11.6M920.08 344.15h11.6M920.08 346.65h11.6M920.08 354.15h11.6M920.08 376.65h11.6M920.08 391.65h11.6M920.08 406.65h11.6M920.08 416.65h11.6M920.08 446.65h11.6M920.08 456.65h11.6M920.08 459.15h11.6M920.08 486.65h11.6M920.08 491.65h11.6M920.08 494.15h11.6M920.08 521.65h11.6M920.08 526.65h11.6M931.69 101.65h11.6M931.69 121.65h11.6M931.69 146.65h11.6M931.69 149.15h11.6M931.69 159.15h11.6M931.69 166.65h11.6M931.69 194.15h11.6M931.69 199.15h11.6M931.69 206.65h11.6M931.69 236.65h11.6M931.69 244.15h11.6M931.69 249.15h11.6M931.69 296.65h11.6M931.69 306.65h11.6M931.69 314.15h11.6M931.69 331.65h11.6M931.69 346.65h11.6M931.69 349.15h11.6M931.69 476.65h11.6M931.69 486.65h11.6M931.69 491.65h11.6M931.69 499.15h11.6M931.69 504.15h11.6M931.69 509.15h11.6M943.29 86.65h11.6M943.29 94.15h11.6M943.29 96.65h11.6M943.29 146.65h11.6M943.29 159.15h11.6M943.29 161.65h11.6M943.29 164.15h11.6M943.29 171.65h11.6M943.29 189.15h11.6M943.29 196.65h11.6M943.29 199.15h11.6M943.29 206.65h11.6M943.29 211.65h11.6M943.29 229.15h11.6M943.29 251.65h11.6M943.29 316.65h11.6M943.29 321.65h11.6M943.29 334.15h11.6M943.29 346.65h11.6M943.29 371.65h11.6M943.29 374.15h11.6M943.29 469.15h11.6M943.29 494.15h11.6M954.9 104.15h11.6M954.9 106.65h11.6M954.9 116.65h11.6M954.9 126.65h11.6M954.9 139.15h11.6M954.9 144.15h11.6M954.9 146.65h11.6M954.9 149.15h11.6M954.9 156.65h11.6M954.9 164.15h11.6M954.9 166.65h11.6M954.9 206.65h11.6M954.9 209.15h11.6M954.9 211.65h11.6M954.9 236.65h11.6M954.9 241.65h11.6M954.9 244.15h11.6M954.9 246.65h11.6M954.9 284.15h11.6M954.9 299.15h11.6M954.9 306.65h11.6M954.9 316.65h11.6M954.9 326.65h11.6M954.9 339.15h11.6M954.9 349.15h11.6M954.9 351.65h11.6M954.9 356.65h11.6M954.9 366.65h11.6M954.9 369.15h11.6M954.9 529.15h11.6" stroke="#faddc7" stroke-width="2.85" fill="none"/>
<path d="M688 101.65h11.6M688 131.65h11.6M688 134.15h11.6M688 136.65h11.6M688 171.65h11.6M688 179.15h11.6M688 206.65h11.6M688 209.15h11.6M688 214.15h11.6M688 256.65h11.6M688 259.15h11.6M688 276.65h11.6M688 321.65h11.6M688 336.65h11.6M688 341.65h11.6M688 361.65h11.6M688 364.15h11.6M688 481.65h11.6M699.6 124.15h11.6M699.6 134.15h11.6M699.6 146.65h11.6M699.6 159.15h11.6M699.6 169.15h11.6M699.6 179.15h11.6M699.6 181.65h11.6M699.6 189.15h11.6M699.6 204.15h11.6M699.6 216.65h11.6M699.6 269.15h11.6M699.6 281.65h11.6M699.6 284.15h11.6M699.6 306.65h11.6M699.6 329.15h11.6M699.6 336.65h11.6M699.6 344.15h11.6M699.6 356.65h11.6M699.6 376.65h11.6M699.6 389.15h11.6M699.6 394.15h11.6M699.6 424.15h11.6M699.6 429.15h11.6M699.6 434.15h11.6M699.6 436.65h11.6M699.6 464.15h11.6M699.6 469.15h11.6M699.6 474.15h11.6M699.6 476.65h11.6M699.6 499.15h11.6M711.21 129.15h11.6M711.21 134.15h11.6M711.21 139.15h11.6M711.21 141.65h11.6M711.21 144.15h11.6M711.21 151.65h11.6M711.21 176.65h11.6M711.21 179.15h11.6M711.21 189.15h11.6M711.21 231.65h11.6M711.21 241.65h11.6M711.21 254.15h11.6M711.21 271.65h11.6M711.21 274.15h11.6M711.21 276.65h11.6M711.21 289.15h11.6M711.21 321.65h11.6M711.21 374.15h11.6M711.21 386.65h11.6M711.21 396.65h11.6M711.21 429.15h11.6M711.21 436.65h11.6M711.21 491.65h11.6M711.21 496.65h11.6M711.21 501.65h11.6M711.21 516.65h11.6M711.21 519.15h11.6M780.83 124.15h11.6M780.83 139.15h11.6M780.83 181.65h11.6M780.83 254.15h11.6M780.83 299.15h11.6M780.83 444.15h11.6M780.83 456.65h11.6M780.83 491.65h11.6M780.83 499.15h11.6M780.83 504.15h11.6M780.83 514.15h11.6M780.83 524.15h11.6M792.44 96.65h11.6M792.44 109.15h11.6M792.44 116.65h11.6M792.44 394.15h11.6M792.44 454.15h11.6M792.44 491.65h11.6M792.44 501.65h11.6M792.44 506.65h11.6M792.44 514.15h11.6M792.44 521.65h11.6M804.04 89.15h11.6M804.04 99.15h11.6M804.04 104.15h11.6M804.04 114.15h11.6M804.04 131.65h11.6M804.04 151.65h11.6M804.04 156.65h11.6M804.04 164.15h11.6M804.04 184.15h11.6M804.04 186.65h11.6M804.04 189.15h11.6M804.04 191.65h11.6M804.04 196.65h11.6M804.04 199.15h11.6M804.04 414.15h11.6M804.04 416.65h11.6M804.04 419.15h11.6M804.04 429.15h11.6M804.04 441.65h11.6M804.04 464.15h11.6M804.04 471.65h11.6M804.04 479.15h11.6M804.04 481.65h11.6M804.04 494.15h11.6M804.04 509.15h11.6M815.65 94.15h11.6M815.65 106.65h11.6M815.65 131.65h11.6M815.65 154.15h11.6M815.65 166.65h11.6M815.65 169.15h11.6M815.65 176.65h11.6M815.65 191.65h11.6M815.65 194.15h11.6M815.65 209.15h11.6M815.65 214.15h11.6M815.65 226.65h11.6M815.65 229.15h11.6M815.65 231.65h11.6M815.65 256.65h11.6M815.65 259.15h11.6M815.65 306.65h11.6M815.65 334.15h11.6M815.65 431.65h11.6M815.65 446.65h11.6M815.65 456.65h11.6M815.65 471.65h11.6M815.65 494.15h11.6M815.65 496.65h11.6M815.65 506.65h11.6M815.65 509.15h11.6M815.65 511.65h11.6M827.25 136.65h11.6M827.25 164.15h11.6M827.25 194.15h11.6M827.25 359.15h11.6M827.25 361.65h11.6M827.25 409.15h11.6M827.25 456.65h11.6M827.25 464.15h11.6M827.25 466.65h11.6M827.25 476.65h11.6M827.25 489.15h11.6M827.25 514.15h11.6M827.25 519.15h11.6M827.25 521.65h11.6M827.25 526.65h11.6M838.85 111.65h11.6M838.85 119.15h11.6M838.85 121.65h11.6M838.85 134.15h11.6M838.85 146.65h11.6M838.85 159.15h11.6M838.85 184.15h11.6M838.85 199.15h11.6M838.85 201.65h11.6M838.85 211.65h11.6M838.85 219.15h11.6M838.85 234.15h11.6M838.85 236.65h11.6M838.85 244.15h11.6M838.85 249.15h11.6M838.85 251.65h11.6M838.85 256.65h11.6M838.85 261.65h11.6M838.85 281.65h11.6M838.85 289.15h11.6M838.85 291.65h11.6M838.85 349.15h11.6M838.85 429.15h11.6M838.85 441.65h11.6M838.85 444.15h11.6M838.85 489.15h11.6M838.85 494.15h11.6M838.85 509.15h11.6M838.85 516.65h11.6M838.85 529.15h11.6M850.46 114.15h11.6M850.46 131.65h11.6M850.46 134.15h11.6M850.46 226.65h11.6M850.46 229.15h11.6M850.46 236.65h11.6M850.46 359.15h11.6M850.46 366.65h11.6M850.46 399.15h11.6M850.46 436.65h11.6M850.46 439.15h11.6M850.46 459.15h11.6M850.46 464.15h11.6M850.46 476.65h11.6M850.46 479.15h11.6M850.46 521.65h11.6M862.06 111.65h11.6M862.06 119.15h11.6M862.06 121.65h11.6M862.06 146.65h11.6M862.06 159.15h11.6M862.06 161.65h11.6M862.06 171.65h11.6M862.06 184.15h11.6M862.06 204.15h11.6M862.06 224.15h11.6M862.06 231.65h11.6M862.06 234.15h11.6M862.06 236.65h11.6M862.06 251.65h11.6M862.06 254.15h11.6M862.06 256.65h11.6M862.06 259.15h11.6M862.06 281.65h11.6M862.06 284.15h11.6M862.06 286.65h11.6M862.06 334.15h11.6M862.06 339.15h11.6M862.06 341.65h11.6M862.06 344.15h11.6M862.06 351.65h11.6M862.06 354.15h11.6M862.06 414.15h11.6M862.06 416.65h11.6M862.06 421.65h11.6M862.06 429.15h11.6M862.06 431.65h11.6M862.06 461.65h11.6M862.06 509.15h11.6M862.06 521.65h11.6M873.67 104.15h11.6M873.67 106.65h11.6M873.67 124.15h11.6M873.67 141.65h11.6M873.67 151.65h11.6M873.67 171.65h11.6M873.67 174.15h11.6M873.67 236.65h11.6M873.67 251.65h11.6M873.67 291.65h11.6M873.67 336.65h11.6M873.67 339.15h11.6M873.67 356.65h11.6M873.67 361.65h11.6M873.67 366.65h11.6M873.67 369.15h11.6M873.67 379.15h11.6M873.67 384.15h11.6M873.67 461.65h11.6M873.67 464.15h11.6M873.67 474.15h11.6M873.67 479.15h11.6M873.67 486.65h11.6M873.67 496.65h11.6M873.67 499.15h11.6M873.67 504.15h11.6M873.67 514.15h11.6M873.67 521.65h11.6M873.67 526.65h11.6M885.27 101.65h11.6M885.27 134.15h11.6M885.27 201.65h11.6M885.27 216.65h11.6M885.27 224.15h11.6M885.27 226.65h11.6M885.27 269.15h11.6M885.27 276.65h11.6M885.27 284.15h11.6M885.27 319.15h11.6M885.27 346.65h11.6M885.27 349.15h11.6M885.27 356.65h11.6M885.27 456.65h11.6M885.27 461.65h11.6M885.27 481.65h11.6M885.27 491.65h11.6M885.27 496.65h11.6M885.27 499.15h11.6M885.27 504.15h11.6M885.27 514.15h11.6M896.88 189.15h11.6M896.88 191.65h11.6M896.88 201.65h11.6M896.88 204.15h11.6M896.88 234.15h11.6M896.88 249.15h11.6M896.88 259.15h11.6M896.88 274.15h11.6M896.88 279.15h11.6M896.88 294.15h11.6M896.88 306.65h11.6M896.88 319.15h11.6M896.88 321.65h11.6M896.88 324.15h11.6M896.88 331.65h11.6M896.88 444.15h11.6M896.88 451.65h11.6M896.88 464.15h11.6M896.88 466.65h11.6M896.88 516.65h11.6M908.48 96.65h11.6M908.48 101.65h11.6M908.48 104.15h11.6M908.48 109.15h11.6M908.48 126.65h11.6M908.48 129.15h11.6M908.48 181.65h11.6M908.48 184.15h11.6M908.48 199.15h11.6M908.48 204.15h11.6M908.48 219.15h11.6M908.48 221.65h11.6M908.48 224.15h11.6M908.48 234.15h11.6M908.48 256.65h11.6M908.48 261.65h11.6M908.48 276.65h11.6M908.48 279.15h11.6M908.48 281.65h11.6M908.48 289.15h11.6M908.48 296.65h11.6M908.48 299.15h11.6M908.48 306.65h11.6M908.48 311.65h11.6M908.48 331.65h11.6M908.48 354.15h11.6M908.48 359.15h11.6M908.48 361.65h11.6M908.48 384.15h11.6M908.48 481.65h11.6M908.48 494.15h11.6M908.48 499.15h11.6M908.48 514.15h11.6M908.48 524.15h11.6M920.08 129.15h11.6M920.08 144.15h11.6M920.08 154.15h11.6M920.08 156.65h11.6M920.08 186.65h11.6M920.08 204.15h11.6M920.08 224.15h11.6M920.08 264.15h11.6M920.08 281.65h11.6M920.08 284.15h11.6M920.08 296.65h11.6M920.08 316.65h11.6M920.08 331.65h11.6M920.08 334.15h11.6M920.08 339.15h11.6M920.08 404.15h11.6M920.08 409.15h11.6M920.08 411.65h11.6M920.08 439.15h11.6M920.08 441.65h11.6M920.08 449.15h11.6M920.08 496.65h11.6M931.69 91.65h11.6M931.69 106.65h11.6M931.69 109.15h11.6M931.69 116.65h11.6M931.69 119.15h11.6M931.69 124.15h11.6M931.69 141.65h11.6M931.69 161.65h11.6M931.69 169.15h11.6M931.69 171.65h11.6M931.69 176.65h11.6M931.69 179.15h11.6M931.69 209.15h11.6M931.69 216.65h11.6M931.69 224.15h11.6M931.69 226.65h11.6M931.69 239.15h11.6M931.69 251.65h11.6M931.69 284.15h11.6M931.69 286.65h11.6M931.69 291.65h11.6M931.69 299.15h11.6M931.69 319.15h11.6M931.69 321.65h11.6M931.69 344.15h11.6M931.69 351.65h11.6M931.69 354.15h11.6M931.69 466.65h11.6M931.69 469.15h11.6M931.69 471.65h11.6M931.69 479.15h11.6M931.69 489.15h11.6M931.69 494.15h11.6M931.69 496.65h11.6M943.29 89.15h11.6M943.29 99.15h11.6M943.29 101.65h11.6M943.29 104.15h11.6M943.29 106.65h11.6M943.29 126.65h11.6M943.29 136.65h11.6M943.29 154.15h11.6M943.29 156.65h11.6M943.29 166.65h11.6M943.29 191.65h11.6M943.29 231.65h11.6M943.29 281.65h11.6M943.29 289.15h11.6M943.29 319.15h11.6M943.29 324.15h11.6M943.29 329.15h11.6M943.29 331.65h11.6M943.29 336.65h11.6M943.29 344.15h11.6M943.29 349.15h11.6M943.29 356.65h11.6M943.29 466.65h11.6M954.9 94.15h11.6M954.9 99.15h11.6M954.9 111.65h11.6M954.9 114.15h11.6M954.9 131.65h11.6M954.9 134.15h11.6M954.9 154.15h11.6M954.9 184.15h11.6M954.9 189.15h11.6M954.9 191.65h11.6M954.9 196.65h11.6M954.9 224.15h11.6M954.9 226.65h11.6M954.9 296.65h11.6M954.9 304.15h11.6M954.9 324.15h11.6M954.9 359.15h11.6M954.9 361.65h11.6M954.9 521.65h11.6" stroke="#fce8da" stroke-width="2.85" fill="none"/>
<path d="M688 106.65h11.6M688 151.65h11.6M688 154.15h11.6M688 161.65h11.6M688 176.65h11.6M688 181.65h11.6M688 189.15h11.6M688 194.15h11.6M688 204.15h11.6M688 219.15h11.6M688 229.15h11.6M688 231.65h11.6M688 271.65h11.6M688 274.15h11.6M688 284.15h11.6M688 286.65h11.6M688 299.15h11.6M688 306.65h11.6M688 309.15h11.6M688 314.15h11.6M688 319.15h11.6M688 324.15h11.6M688 331.65h11.6M688 334.15h11.6M688 339.15h11.6M688 349.15h11.6M688 351.65h11.6M688 366.65h11.6M688 369.15h11.6M688 389.15h11.6M688 444.15h11.6M688 454.15h11.6M688 464.15h11.6M688 509.15h11.6M688 519.15h11.6M699.6 121.65h11.6M699.6 136.65h11.6M699.6 139.15h11.6M699.6 141.65h11.6M699.6 151.65h11.6M699.6 156.65h11.6M699.6 191.65h11.6M699.6 196.65h11.6M699.6 199.15h11.6M699.6 206.65h11.6M699.6 209.15h11.6M699.6 221.65h11.6M699.6 254.15h11.6M699.6 259.15h11.6M699.6 266.65h11.6M699.6 276.65h11.6M699.6 326.65h11.6M699.6 331.65h11.6M699.6 339.15h11.6M699.6 359.15h11.6M699.6 371.65h11.6M699.6 374.15h11.6M699.6 381.65h11.6M699.6 384.15h11.6M699.6 396.65h11.6M699.6 399.15h11.6M699.6 401.65h11.6M699.6 404.15h11.6M699.6 414.15h11.6M699.6 416.65h11.6M699.6 431.65h11.6M699.6 439.15h11.6M699.6 449.15h11.6M699.6 451.65h11.6M699.6 454.15h11.6M699.6 461.65h11.6M699.6 466.65h11.6M699.6 479.15h11.6M699.6 481.65h11.6M699.6 484.15h11.6M699.6 504.15h11.6M699.6 529.15h11.6M711.21 126.65h11.6M711.21 136.65h11.6M711.21 156.65h11.6M711.21 166.65h11.6M711.21 219.15h11.6M711.21 224.15h11.6M711.21 226.65h11.6M711.21 229.15h11.6M711.21 234.15h11.6M711.21 239.15h11.6M711.21 251.65h11.6M711.21 256.65h11.6M711.21 324.15h11.6M711.21 326.65h11.6M711.21 329.15h11.6M711.21 331.65h11.6M711.21 336.65h11.6M711.21 379.15h11.6M711.21 389.15h11.6M711.21 404.15h11.6M711.21 426.65h11.6M711.21 431.65h11.6M711.21 439.15h11.6M711.21 441.65h11.6M711.21 444.15h11.6M711.21 446.65h11.6M711.21 449.15h11.6M711.21 451.65h11.6M711.21 464.15h11.6M711.21 484.15h11.6M711.21 486.65h11.6M711.21 489.15h11.6M711.21 499.15h11.6M711.21 506.65h11.6M711.21 509.15h11.6M711.21 524.15h11.6M711.21 529.15h11.6M780.83 109.15h11.6M780.83 111.65h11.6M780.83 114.15h11.6M780.83 141.65h11.6M780.83 161.65h11.6M780.83 176.65h11.6M780.83 199.15h11.6M780.83 211.65h11.6M780.83 214.15h11.6M780.83 241.65h11.6M780.83 274.15h11.6M780.83 301.65h11.6M780.83 306.65h11.6M780.83 309.15h11.6M780.83 326.65h11.6M780.83 351.65h11.6M780.83 354.15h11.6M780.83 434.15h11.6M780.83 446.65h11.6M780.83 454.15h11.6M780.83 459.15h11.6M780.83 481.65h11.6M780.83 519.15h11.6M780.83 526.65h11.6M780.83 529.15h11.6M792.44 89.15h11.6M792.44 99.15h11.6M792.44 106.65h11.6M792.44 126.65h11.6M792.44 129.15h11.6M792.44 131.65h11.6M792.44 144.15h11.6M792.44 176.65h11.6M792.44 179.15h11.6M792.44 186.65h11.6M792.44 189.15h11.6M792.44 194.15h11.6M792.44 199.15h11.6M792.44 201.65h11.6M792.44 256.65h11.6M792.44 456.65h11.6M792.44 459.15h11.6M792.44 461.65h11.6M792.44 464.15h11.6M792.44 474.15h11.6M792.44 476.65h11.6M792.44 479.15h11.6M792.44 481.65h11.6M792.44 486.65h11.6M792.44 494.15h11.6M792.44 499.15h11.6M792.44 504.15h11.6M792.44 509.15h11.6M792.44 511.65h11.6M792.44 519.15h11.6M792.44 526.65h11.6M804.04 86.65h11.6M804.04 109.15h11.6M804.04 111.65h11.6M804.04 124.15h11.6M804.04 126.65h11.6M804.04 136.65h11.6M804.04 139.15h11.6M804.04 144.15h11.6M804.04 146.65h11.6M804.04 154.15h11.6M804.04 159.15h11.6M804.04 166.65h11.6M804.04 169.15h11.6M804.04 179.15h11.6M804.04 271.65h11.6M804.04 274.15h11.6M804.04 289.15h11.6M804.04 316.65h11.6M804.04 319.15h11.6M804.04 321.65h11.6M804.04 346.65h11.6M804.04 434.15h11.6M804.04 436.65h11.6M804.04 439.15h11.6M804.04 444.15h11.6M804.04 446.65h11.6M804.04 469.15h11.6M804.04 476.65h11.6M804.04 486.65h11.6M804.04 496.65h11.6M804.04 499.15h11.6M804.04 506.65h11.6M804.04 529.15h11.6M815.65 91.65h11.6M815.65 96.65h11.6M815.65 101.65h11.6M815.65 114.15h11.6M815.65 119.15h11.6M815.65 144.15h11.6M815.65 149.15h11.6M815.65 156.65h11.6M815.65 159.15h11.6M815.65 161.65h11.6M815.65 186.65h11.6M815.65 189.15h11.6M815.65 196.65h11.6M815.65 211.65h11.6M815.65 216.65h11.6M815.65 234.15h11.6M815.65 251.65h11.6M815.65 254.15h11.6M815.65 269.15h11.6M815.65 274.15h11.6M815.65 301.65h11.6M815.65 304.15h11.6M815.65 331.65h11.6M815.65 339.15h11.6M815.65 414.15h11.6M815.65 441.65h11.6M815.65 459.15h11.6M815.65 466.65h11.6M815.65 479.15h11.6M815.65 486.65h11.6M815.65 504.15h11.6M815.65 521.65h11.6M815.65 524.15h11.6M827.25 86.65h11.6M827.25 96.65h11.6M827.25 134.15h11.6M827.25 144.15h11.6M827.25 149.15h11.6M827.25 151.65h11.6M827.25 166.65h11.6M827.25 196.65h11.6M827.25 199.15h11.6M827.25 204.15h11.6M827.25 209.15h11.6M827.25 214.15h11.6M827.25 254.15h11.6M827.25 274.15h11.6M827.25 276.65h11.6M827.25 454.15h11.6M827.25 459.15h11.6M827.25 479.15h11.6M827.25 499.15h11.6M827.25 501.65h11.6M827.25 509.15h11.6M827.25 511.65h11.6M827.25 524.15h11.6M838.85 114.15h11.6M838.85 206.65h11.6M838.85 229.15h11.6M838.85 246.65h11.6M838.85 259.15h11.6M838.85 264.15h11.6M838.85 279.15h11.6M838.85 419.15h11.6M838.85 431.65h11.6M838.85 436.65h11.6M838.85 464.15h11.6M838.85 486.65h11.6M838.85 491.65h11.6M838.85 521.65h11.6M838.85 524.15h11.6M838.85 526.65h11.6M850.46 111.65h11.6M850.46 119.15h11.6M850.46 234.15h11.6M850.46 369.15h11.6M850.46 379.15h11.6M850.46 384.15h11.6M850.46 386.65h11.6M850.46 394.15h11.6M850.46 396.65h11.6M850.46 419.15h11.6M850.46 441.65h11.6M850.46 444.15h11.6M850.46 454.15h11.6M850.46 456.65h11.6M862.06 109.15h11.6M862.06 149.15h11.6M862.06 151.65h11.6M862.06 154.15h11.6M862.06 199.15h11.6M862.06 206.65h11.6M862.06 209.15h11.6M862.06 211.65h11.6M862.06 249.15h11.6M862.06 331.65h11.6M862.06 366.65h11.6M862.06 419.15h11.6M862.06 426.65h11.6M862.06 479.15h11.6M862.06 481.65h11.6M862.06 501.65h11.6M862.06 504.15h11.6M862.06 506.65h11.6M873.67 144.15h11.6M873.67 306.65h11.6M873.67 364.15h11.6M873.67 371.65h11.6M873.67 386.65h11.6M873.67 404.15h11.6M873.67 414.15h11.6M873.67 459.15h11.6M873.67 476.65h11.6M873.67 484.15h11.6M873.67 494.15h11.6M873.67 506.65h11.6M873.67 509.15h11.6M873.67 516.65h11.6M885.27 86.65h11.6M885.27 94.15h11.6M885.27 99.15h11.6M885.27 104.15h11.6M885.27 116.65h11.6M885.27 121.65h11.6M885.27 124.15h11.6M885.27 129.15h11.6M885.27 136.65h11.6M885.27 141.65h11.6M885.27 144.15h11.6M885.27 169.15h11.6M885.27 179.15h11.6M885.27 204.15h11.6M885.27 209.15h11.6M885.27 214.15h11.6M885.27 229.15h11.6M885.27 231.65h11.6M885.27 241.65h11.6M885.27 251.65h11.6M885.27 259.15h11.6M885.27 264.15h11.6M885.27 271.65h11.6M885.27 279.15h11.6M885.27 291.65h11.6M885.27 294.15h11.6M885.27 296.65h11.6M885.27 301.65h11.6M885.27 309.15h11.6M885.27 321.65h11.6M885.27 324.15h11.6M885.27 331.65h11.6M885.27 359.15h11.6M885.27 411.65h11.6M885.27 459.15h11.6M885.27 484.15h11.6M885.27 489.15h11.6M885.27 494.15h11.6M885.27 506.65h11.6M885.27 516.65h11.6M885.27 521.65h11.6M885.27 526.65h11.6M885.27 529.15h11.6M896.88 96.65h11.6M896.88 111.65h11.6M896.88 116.65h11.6M896.88 121.65h11.6M896.88 131.65h11.6M896.88 134.15h11.6M896.88 141.65h11.6M896.88 146.65h11.6M896.88 174.15h11.6M896.88 199.15h11.6M896.88 209.15h11.6M896.88 221.65h11.6M896.88 231.65h11.6M896.88 251.65h11.6M896.88 256.65h11.6M896.88 261.65h11.6M896.88 264.15h11.6M896.88 276.65h11.6M896.88 284.15h11.6M896.88 286.65h11.6M896.88 289.15h11.6M896.88 304.15h11.6M896.88 316.65h11.6M896.88 334.15h11.6M896.88 349.15h11.6M896.88 359.15h11.6M896.88 361.65h11.6M896.88 411.65h11.6M896.88 426.65h11.6M896.88 431.65h11.6M896.88 441.65h11.6M896.88 469.15h11.6M896.88 474.15h11.6M896.88 476.65h11.6M896.88 479.15h11.6M896.88 484.15h11.6M896.88 489.15h11.6M896.88 504.15h11.6M896.88 506.65h11.6M896.88 509.15h11.6M896.88 511.65h11.6M896.88 524.15h11.6M896.88 529.15h11.6M908.48 91.65h11.6M908.48 99.15h11.6M908.48 106.65h11.6M908.48 124.15h11.6M908.48 131.65h11.6M908.48 151.65h11.6M908.48 161.65h11.6M908.48 176.65h11.6M908.48 179.15h11.6M908.48 189.15h11.6M908.48 211.65h11.6M908.48 214.15h11.6M908.48 226.65h11.6M908.48 236.65h11.6M908.48 239.15h11.6M908.48 244.15h11.6M908.48 246.65h11.6M908.48 259.15h11.6M908.48 284.15h11.6M908.48 286.65h11.6M908.48 309.15h11.6M908.48 314.15h11.6M908.48 329.15h11.6M908.48 341.65h11.6M908.48 346.65h11.6M908.48 366.65h11.6M908.48 374.15h11.6M908.48 381.65h11.6M908.48 386.65h11.6M908.48 396.65h11.6M908.48 401.65h11.6M908.48 404.15h11.6M908.48 406.65h11.6M908.48 409.15h11.6M908.48 414.15h11.6M908.48 431.65h11.6M908.48 434.15h11.6M908.48 451.65h11.6M908.48 469.15h11.6M908.48 484.15h11.6M908.48 486.65h11.6M908.48 519.15h11.6M908.48 521.65h11.6M908.48 529.15h11.6M920.08 89.15h11.6M920.08 91.65h11.6M920.08 96.65h11.6M920.08 124.15h11.6M920.08 134.15h11.6M920.08 136.65h11.6M920.08 141.65h11.6M920.08 151.65h11.6M920.08 161.65h11.6M920.08 179.15h11.6M920.08 184.15h11.6M920.08 189.15h11.6M920.08 199.15h11.6M920.08 201.65h11.6M920.08 211.65h11.6M920.08 214.15h11.6M920.08 229.15h11.6M920.08 259.15h11.6M920.08 261.65h11.6M920.08 299.15h11.6M920.08 301.65h11.6M920.08 304.15h11.6M920.08 311.65h11.6M920.08 314.15h11.6M920.08 329.15h11.6M920.08 349.15h11.6M920.08 351.65h11.6M920.08 451.65h11.6M920.08 516.65h11.6M931.69 89.15h11.6M931.69 96.65h11.6M931.69 99.15h11.6M931.69 111.65h11.6M931.69 174.15h11.6M931.69 181.65h11.6M931.69 189.15h11.6M931.69 211.65h11.6M931.69 214.15h11.6M931.69 289.15h11.6M931.69 326.65h11.6M931.69 461.65h11.6M931.69 474.15h11.6M943.29 109.15h11.6M943.29 111.65h11.6M943.29 114.15h11.6M943.29 119.15h11.6M943.29 124.15h11.6M943.29 184.15h11.6M943.29 339.15h11.6M943.29 341.65h11.6M943.29 359.15h11.6M954.9 86.65h11.6M954.9 89.15h11.6M954.9 96.65h11.6M954.9 101.65h11.6M954.9 124.15h11.6M954.9 136.65h11.6M954.9 331.65h11.6M954.9 364.15h11.6M954.9 374.15h11.6" stroke="#fdf4ec" stroke-width="2.85" fill="none"/>
<path d="M688 121.65h11.6M688 124.15h11.6M688 164.15h11.6M688 166.65h11.6M688 184.15h11.6M688 186.65h11.6M688 191.65h11.6M688 196.65h11.6M688 226.65h11.6M688 236.65h11.6M688 239.15h11.6M688 244.15h11.6M688 371.65h11.6M688 391.65h11.6M688 396.65h11.6M688 406.65h11.6M688 411.65h11.6M688 431.65h11.6M688 436.65h11.6M688 439.15h11.6M688 446.65h11.6M688 449.15h11.6M688 466.65h11.6M688 469.15h11.6M688 476.65h11.6M688 484.15h11.6M688 486.65h11.6M688 496.65h11.6M688 504.15h11.6M688 516.65h11.6M699.6 224.15h11.6M699.6 226.65h11.6M699.6 229.15h11.6M699.6 264.15h11.6M699.6 271.65h11.6M699.6 316.65h11.6M699.6 334.15h11.6M699.6 364.15h11.6M699.6 491.65h11.6M699.6 494.15h11.6M699.6 526.65h11.6M711.21 171.65h11.6M711.21 236.65h11.6M711.21 266.65h11.6M711.21 316.65h11.6M711.21 344.15h11.6M711.21 354.15h11.6M711.21 356.65h11.6M711.21 371.65h11.6M711.21 391.65h11.6M711.21 406.65h11.6M711.21 409.15h11.6M711.21 411.65h11.6M711.21 416.65h11.6M711.21 421.65h11.6M711.21 424.15h11.6M711.21 454.15h11.6M711.21 459.15h11.6M711.21 461.65h11.6M711.21 469.15h11.6M780.83 86.65h11.6M780.83 89.15h11.6M780.83 104.15h11.6M780.83 106.65h11.6M780.83 146.65h11.6M780.83 151.65h11.6M780.83 156.65h11.6M780.83 164.15h11.6M780.83 166.65h11.6M780.83 171.65h11.6M780.83 174.15h11.6M780.83 236.65h11.6M780.83 239.15h11.6M780.83 244.15h11.6M780.83 269.15h11.6M780.83 304.15h11.6M780.83 329.15h11.6M780.83 331.65h11.6M780.83 339.15h11.6M780.83 349.15h11.6M780.83 424.15h11.6M780.83 439.15h11.6M780.83 451.65h11.6M780.83 484.15h11.6M780.83 486.65h11.6M792.44 119.15h11.6M792.44 124.15h11.6M792.44 151.65h11.6M792.44 159.15h11.6M792.44 161.65h11.6M792.44 164.15h11.6M792.44 206.65h11.6M792.44 209.15h11.6M792.44 246.65h11.6M792.44 249.15h11.6M792.44 279.15h11.6M792.44 289.15h11.6M792.44 299.15h11.6M792.44 301.65h11.6M792.44 311.65h11.6M792.44 314.15h11.6M792.44 331.65h11.6M792.44 336.65h11.6M792.44 341.65h11.6M792.44 346.65h11.6M792.44 351.65h11.6M792.44 414.15h11.6M792.44 444.15h11.6M792.44 451.65h11.6M792.44 469.15h11.6M792.44 529.15h11.6M804.04 149.15h11.6M804.04 171.65h11.6M804.04 176.65h11.6M804.04 219.15h11.6M804.04 234.15h11.6M804.04 236.65h11.6M804.04 241.65h11.6M804.04 246.65h11.6M804.04 249.15h11.6M804.04 251.65h11.6M804.04 254.15h11.6M804.04 256.65h11.6M804.04 284.15h11.6M804.04 294.15h11.6M804.04 296.65h11.6M804.04 311.65h11.6M804.04 326.65h11.6M804.04 339.15h11.6M804.04 349.15h11.6M804.04 451.65h11.6M815.65 89.15h11.6M815.65 146.65h11.6M815.65 184.15h11.6M815.65 199.15h11.6M815.65 206.65h11.6M815.65 236.65h11.6M815.65 239.15h11.6M815.65 241.65h11.6M815.65 246.65h11.6M815.65 249.15h11.6M815.65 289.15h11.6M815.65 294.15h11.6M815.65 314.15h11.6M815.65 319.15h11.6M815.65 329.15h11.6M815.65 346.65h11.6M815.65 416.65h11.6M815.65 426.65h11.6M815.65 449.15h11.6M815.65 454.15h11.6M815.65 499.15h11.6M815.65 526.65h11.6M815.65 529.15h11.6M827.25 89.15h11.6M827.25 99.15h11.6M827.25 116.65h11.6M827.25 121.65h11.6M827.25 124.15h11.6M827.25 126.65h11.6M827.25 129.15h11.6M827.25 161.65h11.6M827.25 171.65h11.6M827.25 174.15h11.6M827.25 179.15h11.6M827.25 181.65h11.6M827.25 191.65h11.6M827.25 211.65h11.6M827.25 216.65h11.6M827.25 224.15h11.6M827.25 246.65h11.6M827.25 249.15h11.6M827.25 251.65h11.6M827.25 269.15h11.6M827.25 286.65h11.6M827.25 301.65h11.6M827.25 306.65h11.6M827.25 319.15h11.6M827.25 326.65h11.6M827.25 341.65h11.6M827.25 346.65h11.6M827.25 349.15h11.6M827.25 416.65h11.6M827.25 426.65h11.6M827.25 429.15h11.6M827.25 451.65h11.6M827.25 486.65h11.6M827.25 504.15h11.6M827.25 506.65h11.6M827.25 516.65h11.6M827.25 529.15h11.6M838.85 361.65h11.6M838.85 386.65h11.6M838.85 396.65h11.6M838.85 406.65h11.6M838.85 411.65h11.6M838.85 416.65h11.6M838.85 421.65h11.6M838.85 424.15h11.6M838.85 426.65h11.6M838.85 446.65h11.6M838.85 466.65h11.6M850.46 251.65h11.6M850.46 374.15h11.6M850.46 381.65h11.6M850.46 389.15h11.6M850.46 404.15h11.6M850.46 409.15h11.6M850.46 414.15h11.6M850.46 426.65h11.6M850.46 449.15h11.6M862.06 261.65h11.6M862.06 276.65h11.6M862.06 279.15h11.6M862.06 364.15h11.6M862.06 369.15h11.6M862.06 376.65h11.6M862.06 389.15h11.6M862.06 391.65h11.6M862.06 394.15h11.6M862.06 404.15h11.6M862.06 476.65h11.6M873.67 389.15h11.6M873.67 401.65h11.6M873.67 406.65h11.6M873.67 411.65h11.6M873.67 424.15h11.6M873.67 434.15h11.6M873.67 439.15h11.6M873.67 446.65h11.6M873.67 451.65h11.6M873.67 466.65h11.6M873.67 529.15h11.6M885.27 91.65h11.6M885.27 106.65h11.6M885.27 109.15h11.6M885.27 154.15h11.6M885.27 159.15h11.6M885.27 176.65h11.6M885.27 181.65h11.6M885.27 191.65h11.6M885.27 236.65h11.6M885.27 256.65h11.6M885.27 261.65h11.6M885.27 299.15h11.6M885.27 334.15h11.6M885.27 336.65h11.6M885.27 344.15h11.6M885.27 364.15h11.6M885.27 381.65h11.6M885.27 399.15h11.6M885.27 401.65h11.6M885.27 409.15h11.6M885.27 426.65h11.6M885.27 429.15h11.6M885.27 431.65h11.6M885.27 454.15h11.6M885.27 469.15h11.6M885.27 474.15h11.6M885.27 476.65h11.6M885.27 479.15h11.6M885.27 509.15h11.6M885.27 511.65h11.6M896.88 91.65h11.6M896.88 106.65h11.6M896.88 119.15h11.6M896.88 149.15h11.6M896.88 151.65h11.6M896.88 156.65h11.6M896.88 211.65h11.6M896.88 224.15h11.6M896.88 226.65h11.6M896.88 336.65h11.6M896.88 339.15h11.6M896.88 344.15h11.6M896.88 354.15h11.6M896.88 366.65h11.6M896.88 369.15h11.6M896.88 371.65h11.6M896.88 374.15h11.6M896.88 381.65h11.6M896.88 391.65h11.6M896.88 394.15h11.6M896.88 396.65h11.6M896.88 409.15h11.6M896.88 414.15h11.6M896.88 419.15h11.6M896.88 446.65h11.6M896.88 491.65h11.6M896.88 521.65h11.6M908.48 89.15h11.6M908.48 114.15h11.6M908.48 139.15h11.6M908.48 141.65h11.6M908.48 144.15h11.6M908.48 146.65h11.6M908.48 154.15h11.6M908.48 156.65h11.6M908.48 159.15h11.6M908.48 171.65h11.6M908.48 294.15h11.6M908.48 344.15h11.6M908.48 369.15h11.6M908.48 389.15h11.6M908.48 391.65h11.6M908.48 394.15h11.6M908.48 419.15h11.6M908.48 444.15h11.6M908.48 461.65h11.6M908.48 471.65h11.6M908.48 476.65h11.6M908.48 504.15h11.6M908.48 509.15h11.6M908.48 516.65h11.6M920.08 106.65h11.6M920.08 111.65h11.6M920.08 116.65h11.6M920.08 126.65h11.6M920.08 131.65h11.6M920.08 146.65h11.6M920.08 166.65h11.6M920.08 226.65h11.6M920.08 356.65h11.6M920.08 364.15h11.6M920.08 366.65h11.6M931.69 191.65h11.6M931.69 356.65h11.6M931.69 359.15h11.6M931.69 364.15h11.6M931.69 371.65h11.6M931.69 374.15h11.6M943.29 361.65h11.6M943.29 364.15h11.6" stroke="#fcf7fc" stroke-width="2.85" fill="none"/>
<path d="M688 146.65h11.6M688 159.15h11.6M688 246.65h11.6M688 251.65h11.6M688 316.65h11.6M688 374.15h11.6M688 376.65h11.6M688 379.15h11.6M688 384.15h11.6M688 386.65h11.6M688 394.15h11.6M688 414.15h11.6M688 419.15h11.6M688 434.15h11.6M688 474.15h11.6M688 479.15h11.6M688 491.65h11.6M688 514.15h11.6M688 521.65h11.6M688 524.15h11.6M699.6 234.15h11.6M699.6 244.15h11.6M699.6 251.65h11.6M699.6 321.65h11.6M699.6 366.65h11.6M699.6 369.15h11.6M699.6 486.65h11.6M699.6 496.65h11.6M699.6 511.65h11.6M699.6 514.15h11.6M699.6 516.65h11.6M699.6 519.15h11.6M699.6 521.65h11.6M711.21 121.65h11.6M711.21 169.15h11.6M711.21 259.15h11.6M711.21 341.65h11.6M711.21 351.65h11.6M711.21 456.65h11.6M711.21 471.65h11.6M780.83 91.65h11.6M780.83 101.65h11.6M780.83 119.15h11.6M780.83 144.15h11.6M780.83 154.15h11.6M780.83 189.15h11.6M780.83 206.65h11.6M780.83 221.65h11.6M780.83 229.15h11.6M780.83 234.15h11.6M780.83 249.15h11.6M780.83 261.65h11.6M780.83 264.15h11.6M780.83 271.65h11.6M780.83 276.65h11.6M780.83 291.65h11.6M780.83 319.15h11.6M780.83 346.65h11.6M780.83 436.65h11.6M780.83 441.65h11.6M780.83 506.65h11.6M780.83 521.65h11.6M792.44 146.65h11.6M792.44 149.15h11.6M792.44 204.15h11.6M792.44 211.65h11.6M792.44 214.15h11.6M792.44 219.15h11.6M792.44 226.65h11.6M792.44 244.15h11.6M792.44 251.65h11.6M792.44 254.15h11.6M792.44 274.15h11.6M792.44 276.65h11.6M792.44 281.65h11.6M792.44 284.15h11.6M792.44 286.65h11.6M792.44 291.65h11.6M792.44 294.15h11.6M792.44 309.15h11.6M792.44 324.15h11.6M792.44 326.65h11.6M792.44 339.15h11.6M792.44 354.15h11.6M792.44 429.15h11.6M792.44 434.15h11.6M804.04 141.65h11.6M804.04 224.15h11.6M804.04 239.15h11.6M804.04 259.15h11.6M804.04 266.65h11.6M804.04 279.15h11.6M804.04 299.15h11.6M804.04 304.15h11.6M804.04 306.65h11.6M804.04 309.15h11.6M804.04 331.65h11.6M804.04 334.15h11.6M804.04 336.65h11.6M804.04 341.65h11.6M804.04 344.15h11.6M804.04 351.65h11.6M804.04 354.15h11.6M815.65 136.65h11.6M815.65 279.15h11.6M815.65 286.65h11.6M815.65 326.65h11.6M815.65 344.15h11.6M815.65 419.15h11.6M815.65 421.65h11.6M815.65 424.15h11.6M815.65 451.65h11.6M827.25 101.65h11.6M827.25 106.65h11.6M827.25 109.15h11.6M827.25 156.65h11.6M827.25 184.15h11.6M827.25 219.15h11.6M827.25 229.15h11.6M827.25 244.15h11.6M827.25 259.15h11.6M827.25 264.15h11.6M827.25 271.65h11.6M827.25 289.15h11.6M827.25 294.15h11.6M827.25 296.65h11.6M827.25 299.15h11.6M827.25 314.15h11.6M827.25 316.65h11.6M827.25 329.15h11.6M827.25 331.65h11.6M827.25 334.15h11.6M827.25 336.65h11.6M827.25 344.15h11.6M827.25 354.15h11.6M827.25 414.15h11.6M827.25 419.15h11.6M827.25 421.65h11.6M827.25 424.15h11.6M827.25 434.15h11.6M827.25 444.15h11.6M827.25 494.15h11.6M827.25 496.65h11.6M838.85 356.65h11.6M838.85 359.15h11.6M838.85 374.15h11.6M838.85 379.15h11.6M838.85 381.65h11.6M838.85 384.15h11.6M838.85 391.65h11.6M838.85 401.65h11.6M838.85 414.15h11.6M838.85 451.65h11.6M838.85 459.15h11.6M838.85 461.65h11.6M838.85 471.65h11.6M838.85 474.15h11.6M838.85 476.65h11.6M838.85 479.15h11.6M850.46 376.65h11.6M850.46 406.65h11.6M862.06 361.65h11.6M862.06 371.65h11.6M862.06 396.65h11.6M862.06 399.15h11.6M873.67 396.65h11.6M873.67 399.15h11.6M873.67 409.15h11.6M873.67 416.65h11.6M873.67 419.15h11.6M873.67 429.15h11.6M873.67 431.65h11.6M873.67 444.15h11.6M873.67 449.15h11.6M885.27 89.15h11.6M885.27 174.15h11.6M885.27 184.15h11.6M885.27 186.65h11.6M885.27 189.15h11.6M885.27 339.15h11.6M885.27 361.65h11.6M885.27 366.65h11.6M885.27 376.65h11.6M885.27 379.15h11.6M885.27 386.65h11.6M885.27 391.65h11.6M885.27 404.15h11.6M885.27 406.65h11.6M885.27 416.65h11.6M885.27 419.15h11.6M885.27 434.15h11.6M885.27 436.65h11.6M885.27 439.15h11.6M885.27 441.65h11.6M896.88 104.15h11.6M896.88 124.15h11.6M896.88 126.65h11.6M896.88 159.15h11.6M896.88 166.65h11.6M896.88 376.65h11.6M896.88 386.65h11.6M896.88 399.15h11.6M896.88 424.15h11.6M896.88 434.15h11.6M896.88 456.65h11.6M896.88 459.15h11.6M896.88 486.65h11.6M896.88 494.15h11.6M908.48 416.65h11.6M908.48 421.65h11.6M908.48 424.15h11.6M908.48 426.65h11.6M908.48 429.15h11.6M908.48 436.65h11.6M908.48 439.15h11.6M908.48 441.65h11.6M908.48 459.15h11.6M908.48 464.15h11.6M908.48 506.65h11.6M908.48 511.65h11.6M920.08 101.65h11.6M920.08 114.15h11.6M920.08 119.15h11.6M920.08 361.65h11.6M931.69 369.15h11.6" stroke="#f8eff9" stroke-width="2.85" fill="none"/>
<path d="M688 249.15h11.6M688 381.65h11.6M688 401.65h11.6M688 421.65h11.6M688 424.15h11.6M688 456.65h11.6M688 459.15h11.6M688 461.65h11.6M688 471.65h11.6M688 511.65h11.6M699.6 236.65h11.6M699.6 509.15h11.6M711.21 414.15h11.6M722.81 139.15h11.6M734.42 514.15h11.6M734.42 516.65h11.6M734.42 519.15h11.6M746.02 336.65h11.6M757.62 379.15h11.6M769.23 356.65h11.6M780.83 94.15h11.6M780.83 96.65h11.6M780.83 99.15h11.6M780.83 169.15h11.6M780.83 279.15h11.6M780.83 281.65h11.6M780.83 314.15h11.6M780.83 316.65h11.6M780.83 334.15h11.6M780.83 336.65h11.6M780.83 341.65h11.6M780.83 419.15h11.6M780.83 421.65h11.6M792.44 166.65h11.6M792.44 169.15h11.6M792.44 171.65h11.6M792.44 216.65h11.6M792.44 221.65h11.6M792.44 241.65h11.6M792.44 266.65h11.6M792.44 269.15h11.6M792.44 271.65h11.6M792.44 296.65h11.6M792.44 304.15h11.6M792.44 306.65h11.6M792.44 316.65h11.6M792.44 321.65h11.6M792.44 329.15h11.6M792.44 416.65h11.6M792.44 419.15h11.6M804.04 226.65h11.6M804.04 229.15h11.6M804.04 231.65h11.6M804.04 261.65h11.6M804.04 264.15h11.6M804.04 329.15h11.6M815.65 224.15h11.6M815.65 296.65h11.6M815.65 299.15h11.6M815.65 316.65h11.6M815.65 324.15h11.6M815.65 354.15h11.6M827.25 104.15h11.6M827.25 111.65h11.6M827.25 159.15h11.6M827.25 221.65h11.6M827.25 226.65h11.6M827.25 261.65h11.6M827.25 266.65h11.6M827.25 281.65h11.6M827.25 284.15h11.6M827.25 291.65h11.6M827.25 309.15h11.6M827.25 311.65h11.6M827.25 321.65h11.6M827.25 324.15h11.6M827.25 351.65h11.6M827.25 431.65h11.6M827.25 436.65h11.6M827.25 439.15h11.6M827.25 446.65h11.6M827.25 449.15h11.6M838.85 376.65h11.6M838.85 409.15h11.6M838.85 449.15h11.6M862.06 356.65h11.6M862.06 359.15h11.6M862.06 379.15h11.6M873.67 391.65h11.6M873.67 394.15h11.6M873.67 426.65h11.6M885.27 369.15h11.6M885.27 371.65h11.6M885.27 374.15h11.6M885.27 394.15h11.6M885.27 396.65h11.6M885.27 421.65h11.6M885.27 424.15h11.6M885.27 444.15h11.6M885.27 451.65h11.6M896.88 401.65h11.6M896.88 404.15h11.6M896.88 406.65h11.6M896.88 416.65h11.6M896.88 421.65h11.6M908.48 136.65h11.6M908.48 174.15h11.6M908.48 466.65h11.6M920.08 104.15h11.6M920.08 359.15h11.6M920.08 371.65h11.6M920.08 374.15h11.6M931.69 361.65h11.6" stroke="#f5e7f6" stroke-width="2.85" fill="none"/>
<path d="M688 409.15h11.6M688 416.65h11.6M688 494.15h11.6M688 526.65h11.6M688 529.15h11.6M722.81 109.15h11.6M722.81 239.15h11.6M722.81 241.65h11.6M722.81 311.65h11.6M722.81 379.15h11.6M722.81 416.65h11.6M722.81 436.65h11.6M722.81 444.15h11.6M734.42 86.65h11.6M734.42 124.15h11.6M734.42 126.65h11.6M734.42 134.15h11.6M734.42 141.65h11.6M734.42 146.65h11.6M734.42 161.65h11.6M734.42 164.15h11.6M734.42 181.65h11.6M734.42 184.15h11.6M734.42 194.15h11.6M734.42 196.65h11.6M734.42 229.15h11.6M734.42 231.65h11.6M734.42 246.65h11.6M734.42 259.15h11.6M734.42 269.15h11.6M734.42 276.65h11.6M734.42 279.15h11.6M734.42 281.65h11.6M734.42 284.15h11.6M734.42 286.65h11.6M734.42 291.65h11.6M734.42 296.65h11.6M734.42 314.15h11.6M734.42 316.65h11.6M734.42 319.15h11.6M734.42 321.65h11.6M734.42 349.15h11.6M734.42 351.65h11.6M734.42 354.15h11.6M734.42 356.65h11.6M734.42 369.15h11.6M734.42 371.65h11.6M734.42 374.15h11.6M734.42 381.65h11.6M734.42 384.15h11.6M734.42 394.15h11.6M734.42 416.65h11.6M734.42 419.15h11.6M734.42 426.65h11.6M734.42 444.15h11.6M734.42 464.15h11.6M734.42 466.65h11.6M734.42 469.15h11.6M734.42 484.15h11.6M734.42 491.65h11.6M734.42 511.65h11.6M734.42 521.65h11.6M734.42 524.15h11.6M746.02 91.65h11.6M746.02 269.15h11.6M746.02 276.65h11.6M746.02 309.15h11.6M746.02 331.65h11.6M746.02 334.15h11.6M746.02 344.15h11.6M746.02 346.65h11.6M746.02 394.15h11.6M746.02 439.15h11.6M746.02 444.15h11.6M746.02 524.15h11.6M757.62 86.65h11.6M757.62 129.15h11.6M757.62 131.65h11.6M757.62 134.15h11.6M757.62 136.65h11.6M757.62 161.65h11.6M757.62 179.15h11.6M757.62 181.65h11.6M757.62 194.15h11.6M757.62 224.15h11.6M757.62 269.15h11.6M757.62 286.65h11.6M757.62 294.15h11.6M757.62 296.65h11.6M757.62 299.15h11.6M757.62 316.65h11.6M757.62 319.15h11.6M757.62 321.65h11.6M757.62 329.15h11.6M757.62 334.15h11.6M757.62 339.15h11.6M757.62 341.65h11.6M757.62 344.15h11.6M757.62 346.65h11.6M757.62 364.15h11.6M757.62 366.65h11.6M757.62 374.15h11.6M757.62 376.65h11.6M757.62 391.65h11.6M757.62 394.15h11.6M757.62 421.65h11.6M757.62 429.15h11.6M757.62 431.65h11.6M757.62 506.65h11.6M757.62 524.15h11.6M757.62 526.65h11.6M769.23 201.65h11.6M769.23 204.15h11.6M769.23 209.15h11.6M769.23 216.65h11.6M769.23 221.65h11.6M769.23 246.65h11.6M769.23 251.65h11.6M769.23 254.15h11.6M769.23 266.65h11.6M769.23 269.15h11.6M769.23 271.65h11.6M769.23 284.15h11.6M769.23 294.15h11.6M769.23 296.65h11.6M769.23 314.15h11.6M769.23 316.65h11.6M769.23 326.65h11.6M769.23 359.15h11.6M769.23 361.65h11.6M769.23 364.15h11.6M769.23 366.65h11.6M769.23 379.15h11.6M769.23 409.15h11.6M769.23 416.65h11.6M769.23 419.15h11.6M769.23 424.15h11.6M769.23 426.65h11.6M769.23 429.15h11.6M769.23 431.65h11.6M769.23 434.15h11.6M769.23 449.15h11.6M769.23 451.65h11.6M769.23 454.15h11.6M769.23 459.15h11.6M769.23 461.65h11.6M769.23 464.15h11.6M769.23 479.15h11.6M769.23 506.65h11.6M769.23 509.15h11.6M780.83 216.65h11.6M780.83 219.15h11.6M780.83 231.65h11.6M780.83 344.15h11.6M780.83 416.65h11.6M792.44 156.65h11.6M792.44 224.15h11.6M792.44 229.15h11.6M792.44 259.15h11.6M792.44 264.15h11.6M792.44 319.15h11.6M792.44 421.65h11.6M792.44 436.65h11.6M792.44 439.15h11.6M792.44 441.65h11.6M804.04 324.15h11.6M815.65 281.65h11.6M815.65 284.15h11.6M827.25 231.65h11.6M827.25 234.15h11.6M827.25 236.65h11.6M827.25 241.65h11.6M827.25 441.65h11.6M862.06 381.65h11.6M885.27 389.15h11.6M896.88 389.15h11.6M920.08 369.15h11.6" stroke="#f2dff3" stroke-width="2.85" fill="none"/>
<path d="M722.81 106.65h11.6M722.81 111.65h11.6M722.81 134.15h11.6M722.81 136.65h11.6M722.81 141.65h11.6M722.81 144.15h11.6M722.81 156.65h11.6M722.81 159.15h11.6M722.81 161.65h11.6M722.81 164.15h11.6M722.81 166.65h11.6M722.81 169.15h11.6M722.81 171.65h11.6M722.81 186.65h11.6M722.81 194.15h11.6M722.81 201.65h11.6M722.81 216.65h11.6M722.81 224.15h11.6M722.81 234.15h11.6M722.81 236.65h11.6M722.81 244.15h11.6M722.81 269.15h11.6M722.81 274.15h11.6M722.81 276.65h11.6M722.81 286.65h11.6M722.81 291.65h11.6M722.81 299.15h11.6M722.81 304.15h11.6M722.81 309.15h11.6M722.81 314.15h11.6M722.81 316.65h11.6M722.81 319.15h11.6M722.81 321.65h11.6M722.81 324.15h11.6M722.81 326.65h11.6M722.81 341.65h11.6M722.81 349.15h11.6M722.81 351.65h11.6M722.81 364.15h11.6M722.81 366.65h11.6M722.81 371.65h11.6M722.81 374.15h11.6M722.81 376.65h11.6M722.81 381.65h11.6M722.81 384.15h11.6M722.81 386.65h11.6M722.81 389.15h11.6M722.81 391.65h11.6M722.81 394.15h11.6M722.81 396.65h11.6M722.81 399.15h11.6M722.81 401.65h11.6M722.81 414.15h11.6M722.81 421.65h11.6M722.81 424.15h11.6M722.81 429.15h11.6M722.81 431.65h11.6M722.81 434.15h11.6M722.81 439.15h11.6M722.81 446.65h11.6M722.81 469.15h11.6M722.81 471.65h11.6M722.81 481.65h11.6M722.81 484.15h11.6M722.81 486.65h11.6M722.81 501.65h11.6M722.81 504.15h11.6M722.81 514.15h11.6M722.81 516.65h11.6M722.81 519.15h11.6M722.81 524.15h11.6M722.81 526.65h11.6M734.42 89.15h11.6M734.42 91.65h11.6M734.42 94.15h11.6M734.42 96.65h11.6M734.42 101.65h11.6M734.42 104.15h11.6M734.42 106.65h11.6M734.42 111.65h11.6M734.42 116.65h11.6M734.42 119.15h11.6M734.42 129.15h11.6M734.42 131.65h11.6M734.42 139.15h11.6M734.42 144.15h11.6M734.42 149.15h11.6M734.42 151.65h11.6M734.42 154.15h11.6M734.42 159.15h11.6M734.42 166.65h11.6M734.42 169.15h11.6M734.42 171.65h11.6M734.42 174.15h11.6M734.42 176.65h11.6M734.42 179.15h11.6M734.42 186.65h11.6M734.42 189.15h11.6M734.42 199.15h11.6M734.42 204.15h11.6M734.42 206.65h11.6M734.42 209.15h11.6M734.42 211.65h11.6M734.42 214.15h11.6M734.42 216.65h11.6M734.42 219.15h11.6M734.42 221.65h11.6M734.42 224.15h11.6M734.42 226.65h11.6M734.42 234.15h11.6M734.42 236.65h11.6M734.42 239.15h11.6M734.42 241.65h11.6M734.42 244.15h11.6M734.42 249.15h11.6M734.42 251.65h11.6M734.42 254.15h11.6M734.42 256.65h11.6M734.42 261.65h11.6M734.42 264.15h11.6M734.42 266.65h11.6M734.42 271.65h11.6M734.42 274.15h11.6M734.42 289.15h11.6M734.42 294.15h11.6M734.42 299.15h11.6M734.42 301.65h11.6M734.42 304.15h11.6M734.42 306.65h11.6M734.42 309.15h11.6M734.42 311.65h11.6M734.42 324.15h11.6M734.42 326.65h11.6M734.42 336.65h11.6M734.42 339.15h11.6M734.42 341.65h11.6M734.42 344.15h11.6M734.42 346.65h11.6M734.42 359.15h11.6M734.42 361.65h11.6M734.42 364.15h11.6M734.42 376.65h11.6M734.42 386.65h11.6M734.42 389.15h11.6M734.42 391.65h11.6M734.42 396.65h11.6M734.42 399.15h11.6M734.42 401.65h11.6M734.42 404.15h11.6M734.42 406.65h11.6M734.42 409.15h11.6M734.42 411.65h11.6M734.42 414.15h11.6M734.42 421.65h11.6M734.42 424.15h11.6M734.42 429.15h11.6M734.42 431.65h11.6M734.42 434.15h11.6M734.42 441.65h11.6M734.42 446.65h11.6M734.42 456.65h11.6M734.42 459.15h11.6M734.42 461.65h11.6M734.42 471.65h11.6M734.42 476.65h11.6M734.42 479.15h11.6M734.42 481.65h11.6M734.42 486.65h11.6M734.42 489.15h11.6M734.42 494.15h11.6M734.42 496.65h11.6M734.42 499.15h11.6M734.42 501.65h11.6M734.42 504.15h11.6M734.42 506.65h11.6M734.42 509.15h11.6M734.42 526.65h11.6M734.42 529.15h11.6M746.02 86.65h11.6M746.02 89.15h11.6M746.02 94.15h11.6M746.02 96.65h11.6M746.02 104.15h11.6M746.02 124.15h11.6M746.02 126.65h11.6M746.02 129.15h11.6M746.02 149.15h11.6M746.02 151.65h11.6M746.02 161.65h11.6M746.02 164.15h11.6M746.02 166.65h11.6M746.02 169.15h11.6M746.02 174.15h11.6M746.02 176.65h11.6M746.02 211.65h11.6M746.02 214.15h11.6M746.02 216.65h11.6M746.02 219.15h11.6M746.02 221.65h11.6M746.02 234.15h11.6M746.02 244.15h11.6M746.02 246.65h11.6M746.02 249.15h11.6M746.02 251.65h11.6M746.02 254.15h11.6M746.02 256.65h11.6M746.02 261.65h11.6M746.02 266.65h11.6M746.02 271.65h11.6M746.02 274.15h11.6M746.02 279.15h11.6M746.02 281.65h11.6M746.02 284.15h11.6M746.02 286.65h11.6M746.02 301.65h11.6M746.02 311.65h11.6M746.02 314.15h11.6M746.02 316.65h11.6M746.02 319.15h11.6M746.02 321.65h11.6M746.02 326.65h11.6M746.02 329.15h11.6M746.02 339.15h11.6M746.02 341.65h11.6M746.02 349.15h11.6M746.02 351.65h11.6M746.02 354.15h11.6M746.02 356.65h11.6M746.02 386.65h11.6M746.02 389.15h11.6M746.02 391.65h11.6M746.02 401.65h11.6M746.02 409.15h11.6M746.02 434.15h11.6M746.02 436.65h11.6M746.02 441.65h11.6M746.02 446.65h11.6M746.02 449.15h11.6M746.02 454.15h11.6M746.02 456.65h11.6M746.02 484.15h11.6M746.02 491.65h11.6M746.02 496.65h11.6M746.02 501.65h11.6M746.02 504.15h11.6M746.02 509.15h11.6M746.02 514.15h11.6M746.02 519.15h11.6M746.02 526.65h11.6M757.62 89.15h11.6M757.62 91.65h11.6M757.62 96.65h11.6M757.62 101.65h11.6M757.62 111.65h11.6M757.62 114.15h11.6M757.62 116.65h11.6M757.62 126.65h11.6M757.62 139.15h11.6M757.62 141.65h11.6M757.62 144.15h11.6M757.62 146.65h11.6M757.62 149.15h11.6M757.62 151.65h11.6M757.62 159.15h11.6M757.62 164.15h11.6M757.62 166.65h11.6M757.62 171.65h11.6M757.62 174.15h11.6M757.62 176.65h11.6M757.62 184.15h11.6M757.62 191.65h11.6M757.62 196.65h11.6M757.62 201.65h11.6M757.62 204.15h11.6M757.62 206.65h11.6M757.62 209.15h11.6M757.62 214.15h11.6M757.62 216.65h11.6M757.62 221.65h11.6M757.62 226.65h11.6M757.62 229.15h11.6M757.62 231.65h11.6M757.62 234.15h11.6M757.62 236.65h11.6M757.62 239.15h11.6M757.62 241.65h11.6M757.62 244.15h11.6M757.62 249.15h11.6M757.62 266.65h11.6M757.62 271.65h11.6M757.62 281.65h11.6M757.62 284.15h11.6M757.62 289.15h11.6M757.62 291.65h11.6M757.62 301.65h11.6M757.62 306.65h11.6M757.62 309.15h11.6M757.62 311.65h11.6M757.62 314.15h11.6M757.62 324.15h11.6M757.62 326.65h11.6M757.62 331.65h11.6M757.62 336.65h11.6M757.62 349.15h11.6M757.62 359.15h11.6M757.62 361.65h11.6M757.62 369.15h11.6M757.62 371.65h11.6M757.62 381.65h11.6M757.62 384.15h11.6M757.62 386.65h11.6M757.62 389.15h11.6M757.62 396.65h11.6M757.62 399.15h11.6M757.62 416.65h11.6M757.62 419.15h11.6M757.62 424.15h11.6M757.62 426.65h11.6M757.62 434.15h11.6M757.62 436.65h11.6M757.62 441.65h11.6M757.62 444.15h11.6M757.62 456.65h11.6M757.62 466.65h11.6M757.62 469.15h11.6M757.62 471.65h11.6M757.62 474.15h11.6M757.62 476.65h11.6M757.62 484.15h11.6M757.62 491.65h11.6M757.62 504.15h11.6M757.62 509.15h11.6M757.62 511.65h11.6M757.62 529.15h11.6M769.23 86.65h11.6M769.23 89.15h11.6M769.23 91.65h11.6M769.23 94.15h11.6M769.23 96.65h11.6M769.23 99.15h11.6M769.23 101.65h11.6M769.23 104.15h11.6M769.23 106.65h11.6M769.23 109.15h11.6M769.23 116.65h11.6M769.23 121.65h11.6M769.23 126.65h11.6M769.23 129.15h11.6M769.23 131.65h11.6M769.23 134.15h11.6M769.23 139.15h11.6M769.23 149.15h11.6M769.23 166.65h11.6M769.23 169.15h11.6M769.23 171.65h11.6M769.23 174.15h11.6M769.23 176.65h11.6M769.23 189.15h11.6M769.23 196.65h11.6M769.23 199.15h11.6M769.23 206.65h11.6M769.23 211.65h11.6M769.23 219.15h11.6M769.23 224.15h11.6M769.23 226.65h11.6M769.23 229.15h11.6M769.23 231.65h11.6M769.23 234.15h11.6M769.23 236.65h11.6M769.23 239.15h11.6M769.23 241.65h11.6M769.23 244.15h11.6M769.23 249.15h11.6M769.23 261.65h11.6M769.23 264.15h11.6M769.23 274.15h11.6M769.23 276.65h11.6M769.23 279.15h11.6M769.23 281.65h11.6M769.23 286.65h11.6M769.23 289.15h11.6M769.23 291.65h11.6M769.23 301.65h11.6M769.23 304.15h11.6M769.23 306.65h11.6M769.23 309.15h11.6M769.23 311.65h11.6M769.23 319.15h11.6M769.23 321.65h11.6M769.23 329.15h11.6M769.23 331.65h11.6M769.23 336.65h11.6M769.23 339.15h11.6M769.23 341.65h11.6M769.23 344.15h11.6M769.23 346.65h11.6M769.23 349.15h11.6M769.23 351.65h11.6M769.23 354.15h11.6M769.23 369.15h11.6M769.23 371.65h11.6M769.23 376.65h11.6M769.23 384.15h11.6M769.23 389.15h11.6M769.23 399.15h11.6M769.23 404.15h11.6M769.23 406.65h11.6M769.23 411.65h11.6M769.23 414.15h11.6M769.23 421.65h11.6M769.23 436.65h11.6M769.23 439.15h11.6M769.23 441.65h11.6M769.23 444.15h11.6M769.23 446.65h11.6M769.23 456.65h11.6M769.23 466.65h11.6M769.23 469.15h11.6M769.23 471.65h11.6M769.23 476.65h11.6M769.23 481.65h11.6M769.23 484.15h11.6M769.23 489.15h11.6M769.23 494.15h11.6M769.23 499.15h11.6M769.23 501.65h11.6M769.23 504.15h11.6M769.23 511.65h11.6M769.23 514.15h11.6M769.23 516.65h11.6M769.23 519.15h11.6M769.23 521.65h11.6M769.23 524.15h11.6M769.23 526.65h11.6M769.23 529.15h11.6M792.44 154.15h11.6M792.44 239.15h11.6M827.25 239.15h11.6M873.67 441.65h11.6" stroke="#efd7f0" stroke-width="2.85" fill="none"/>
<path d="M722.81 86.65h11.6M722.81 89.15h11.6M722.81 91.65h11.6M722.81 96.65h11.6M722.81 99.15h11.6M722.81 101.65h11.6M722.81 104.15h11.6M722.81 114.15h11.6M722.81 116.65h11.6M722.81 121.65h11.6M722.81 124.15h11.6M722.81 126.65h11.6M722.81 129.15h11.6M722.81 146.65h11.6M722.81 151.65h11.6M722.81 154.15h11.6M722.81 174.15h11.6M722.81 176.65h11.6M722.81 179.15h11.6M722.81 181.65h11.6M722.81 184.15h11.6M722.81 189.15h11.6M722.81 191.65h11.6M722.81 196.65h11.6M722.81 199.15h11.6M722.81 204.15h11.6M722.81 206.65h11.6M722.81 209.15h11.6M722.81 211.65h11.6M722.81 214.15h11.6M722.81 219.15h11.6M722.81 221.65h11.6M722.81 226.65h11.6M722.81 229.15h11.6M722.81 231.65h11.6M722.81 246.65h11.6M722.81 249.15h11.6M722.81 251.65h11.6M722.81 254.15h11.6M722.81 256.65h11.6M722.81 259.15h11.6M722.81 264.15h11.6M722.81 266.65h11.6M722.81 271.65h11.6M722.81 279.15h11.6M722.81 284.15h11.6M722.81 289.15h11.6M722.81 294.15h11.6M722.81 296.65h11.6M722.81 301.65h11.6M722.81 306.65h11.6M722.81 331.65h11.6M722.81 334.15h11.6M722.81 336.65h11.6M722.81 339.15h11.6M722.81 354.15h11.6M722.81 356.65h11.6M722.81 359.15h11.6M722.81 361.65h11.6M722.81 369.15h11.6M722.81 404.15h11.6M722.81 406.65h11.6M722.81 411.65h11.6M722.81 419.15h11.6M722.81 426.65h11.6M722.81 441.65h11.6M722.81 449.15h11.6M722.81 451.65h11.6M722.81 454.15h11.6M722.81 456.65h11.6M722.81 459.15h11.6M722.81 461.65h11.6M722.81 464.15h11.6M722.81 466.65h11.6M722.81 474.15h11.6M722.81 476.65h11.6M722.81 479.15h11.6M722.81 489.15h11.6M722.81 491.65h11.6M722.81 494.15h11.6M722.81 496.65h11.6M722.81 499.15h11.6M722.81 506.65h11.6M722.81 509.15h11.6M722.81 511.65h11.6M722.81 521.65h11.6M722.81 529.15h11.6M734.42 99.15h11.6M734.42 109.15h11.6M734.42 114.15h11.6M734.42 121.65h11.6M734.42 136.65h11.6M734.42 156.65h11.6M734.42 191.65h11.6M734.42 201.65h11.6M734.42 329.15h11.6M734.42 331.65h11.6M734.42 334.15h11.6M734.42 366.65h11.6M734.42 379.15h11.6M734.42 436.65h11.6M734.42 439.15h11.6M734.42 449.15h11.6M734.42 451.65h11.6M734.42 454.15h11.6M734.42 474.15h11.6M746.02 99.15h11.6M746.02 101.65h11.6M746.02 106.65h11.6M746.02 109.15h11.6M746.02 111.65h11.6M746.02 114.15h11.6M746.02 116.65h11.6M746.02 121.65h11.6M746.02 131.65h11.6M746.02 136.65h11.6M746.02 139.15h11.6M746.02 144.15h11.6M746.02 154.15h11.6M746.02 156.65h11.6M746.02 159.15h11.6M746.02 171.65h11.6M746.02 184.15h11.6M746.02 186.65h11.6M746.02 189.15h11.6M746.02 194.15h11.6M746.02 199.15h11.6M746.02 201.65h11.6M746.02 204.15h11.6M746.02 206.65h11.6M746.02 209.15h11.6M746.02 224.15h11.6M746.02 231.65h11.6M746.02 236.65h11.6M746.02 239.15h11.6M746.02 241.65h11.6M746.02 259.15h11.6M746.02 264.15h11.6M746.02 289.15h11.6M746.02 291.65h11.6M746.02 294.15h11.6M746.02 296.65h11.6M746.02 299.15h11.6M746.02 304.15h11.6M746.02 306.65h11.6M746.02 359.15h11.6M746.02 366.65h11.6M746.02 369.15h11.6M746.02 376.65h11.6M746.02 379.15h11.6M746.02 381.65h11.6M746.02 384.15h11.6M746.02 396.65h11.6M746.02 399.15h11.6M746.02 404.15h11.6M746.02 406.65h11.6M746.02 411.65h11.6M746.02 414.15h11.6M746.02 419.15h11.6M746.02 421.65h11.6M746.02 424.15h11.6M746.02 426.65h11.6M746.02 429.15h11.6M746.02 431.65h11.6M746.02 451.65h11.6M746.02 459.15h11.6M746.02 461.65h11.6M746.02 464.15h11.6M746.02 466.65h11.6M746.02 469.15h11.6M746.02 471.65h11.6M746.02 474.15h11.6M746.02 476.65h11.6M746.02 479.15h11.6M746.02 481.65h11.6M746.02 486.65h11.6M746.02 489.15h11.6M746.02 494.15h11.6M746.02 499.15h11.6M746.02 506.65h11.6M746.02 511.65h11.6M746.02 516.65h11.6M746.02 521.65h11.6M746.02 529.15h11.6M757.62 94.15h11.6M757.62 99.15h11.6M757.62 106.65h11.6M757.62 109.15h11.6M757.62 119.15h11.6M757.62 121.65h11.6M757.62 124.15h11.6M757.62 154.15h11.6M757.62 156.65h11.6M757.62 169.15h11.6M757.62 186.65h11.6M757.62 189.15h11.6M757.62 199.15h11.6M757.62 211.65h11.6M757.62 219.15h11.6M757.62 246.65h11.6M757.62 254.15h11.6M757.62 256.65h11.6M757.62 259.15h11.6M757.62 264.15h11.6M757.62 274.15h11.6M757.62 276.65h11.6M757.62 279.15h11.6M757.62 304.15h11.6M757.62 351.65h11.6M757.62 354.15h11.6M757.62 356.65h11.6M757.62 401.65h11.6M757.62 404.15h11.6M757.62 406.65h11.6M757.62 409.15h11.6M757.62 411.65h11.6M757.62 414.15h11.6M757.62 439.15h11.6M757.62 446.65h11.6M757.62 451.65h11.6M757.62 454.15h11.6M757.62 459.15h11.6M757.62 461.65h11.6M757.62 464.15h11.6M757.62 479.15h11.6M757.62 481.65h11.6M757.62 486.65h11.6M757.62 489.15h11.6M757.62 494.15h11.6M757.62 496.65h11.6M757.62 499.15h11.6M757.62 501.65h11.6M757.62 514.15h11.6M757.62 516.65h11.6M757.62 519.15h11.6M757.62 521.65h11.6M769.23 111.65h11.6M769.23 114.15h11.6M769.23 119.15h11.6M769.23 124.15h11.6M769.23 136.65h11.6M769.23 141.65h11.6M769.23 144.15h11.6M769.23 146.65h11.6M769.23 151.65h11.6M769.23 156.65h11.6M769.23 159.15h11.6M769.23 164.15h11.6M769.23 179.15h11.6M769.23 181.65h11.6M769.23 184.15h11.6M769.23 186.65h11.6M769.23 191.65h11.6M769.23 194.15h11.6M769.23 214.15h11.6M769.23 256.65h11.6M769.23 259.15h11.6M769.23 299.15h11.6M769.23 324.15h11.6M769.23 334.15h11.6M769.23 374.15h11.6M769.23 381.65h11.6M769.23 386.65h11.6M769.23 391.65h11.6M769.23 394.15h11.6M769.23 396.65h11.6M769.23 401.65h11.6M769.23 474.15h11.6M769.23 486.65h11.6M769.23 491.65h11.6M769.23 496.65h11.6M792.44 231.65h11.6M792.44 234.15h11.6M792.44 261.65h11.6" stroke="#ecd0ee" stroke-width="2.85" fill="none"/>
<path d="M722.81 94.15h11.6M722.81 119.15h11.6M722.81 131.65h11.6M722.81 149.15h11.6M722.81 261.65h11.6M722.81 281.65h11.6M722.81 329.15h11.6M722.81 344.15h11.6M722.81 346.65h11.6M722.81 409.15h11.6M746.02 119.15h11.6M746.02 134.15h11.6M746.02 141.65h11.6M746.02 146.65h11.6M746.02 179.15h11.6M746.02 181.65h11.6M746.02 191.65h11.6M746.02 196.65h11.6M746.02 226.65h11.6M746.02 229.15h11.6M746.02 324.15h11.6M746.02 361.65h11.6M746.02 364.15h11.6M746.02 371.65h11.6M746.02 374.15h11.6M746.02 416.65h11.6M757.62 104.15h11.6M757.62 251.65h11.6M757.62 261.65h11.6M757.62 449.15h11.6M769.23 154.15h11.6M769.23 161.65h11.6M792.44 236.65h11.6" stroke="#e8c8eb" stroke-width="2.85" fill="none"/>
<path d="M687.7 85.4h-1.5M687.7 87.8h-3M687.7 89.4h-2M687.7 91.8h-2.5M687.7 94.2h-3M687.7 95.8h-3M687.7 97.4h-2.5M687.7 99.4h-3M687.7 101h-1.5M687.7 103.4h-2.5M687.7 105.8h-3M687.7 107.8h-2.5M687.7 110.2h-1.5M687.7 111.8h-1.5M687.7 114.2h-2.5M687.7 116.6h-1M687.7 119h-1M687.7 120.6h-3M687.7 122.2h-2M687.7 123.8h-2M687.7 125.8h-3M687.7 128.2h-2.5M687.7 130.6h-2.5M687.7 132.6h-3M687.7 134.6h-1.5M687.7 136.6h-1M687.7 138.2h-1.5M687.7 140.2h-1.5M687.7 142.2h-2.5M687.7 144.6h-2M687.7 146.6h-3M687.7 148.6h-3M687.7 150.6h-3M687.7 153h-2.5M687.7 155.4h-1.5M687.7 157.4h-1M687.7 159.4h-3M687.7 161.8h-1.5M687.7 164.2h-2M687.7 166.6h-3M687.7 169h-1M687.7 171.4h-1.5M687.7 173.8h-3M687.7 175.8h-2M687.7 177.4h-1M687.7 179.4h-2.5M687.7 181h-2M687.7 182.6h-2.5M687.7 184.2h-1M687.7 186.2h-2.5M687.7 188.2h-1M687.7 189.8h-3M687.7 192.2h-1M687.7 194.2h-3M687.7 196.2h-3M687.7 198.2h-3M687.7 199.8h-1M687.7 201.8h-1M687.7 203.4h-1M687.7 205.8h-3M687.7 207.4h-1.5M687.7 209.4h-2M687.7 211.8h-2M687.7 213.4h-1M687.7 215.4h-2M687.7 217.4h-1.5M687.7 219.4h-2.5M687.7 221.4h-3M687.7 223.4h-3M687.7 225.8h-3M687.7 227.4h-3M687.7 229.8h-2M687.7 231.8h-1.5M687.7 233.8h-2.5M687.7 235.8h-3M687.7 237.8h-3M687.7 239.8h-1M687.7 241.8h-3M687.7 243.8h-1M687.7 245.8h-3M687.7 248.2h-1.5M687.7 249.8h-2M687.7 251.8h-2M687.7 254.2h-2M687.7 256.6h-2M687.7 259h-2.5M687.7 260.6h-3M687.7 262.2h-1M687.7 264.2h-2M687.7 266.6h-2.5M687.7 268.6h-3M687.7 271h-2M687.7 272.6h-2M687.7 274.2h-2M687.7 276.2h-3M687.7 278.2h-2M687.7 280.2h-1M687.7 281.8h-3M687.7 284.2h-1.5M687.7 286.2h-3M687.7 287.8h-2M687.7 289.4h-2M687.7 291h-2.5M687.7 293.4h-1M687.7 295h-3M687.7 297h-2M687.7 299.4h-1.5M687.7 301.4h-1.5M687.7 303h-2M687.7 305.4h-1.5M687.7 307.8h-2.5M687.7 309.8h-1.5M687.7 311.4h-1M687.7 313.8h-1.5M687.7 315.8h-3M687.7 317.4h-2M687.7 319.4h-1M687.7 321.8h-2M687.7 324.2h-1.5M687.7 326.2h-2M687.7 328.6h-2M687.7 330.6h-2M687.7 333h-2.5M687.7 335h-2.5M687.7 337.4h-2.5M687.7 339h-2.5M687.7 340.6h-1.5M687.7 342.2h-2.5M687.7 344.6h-3M687.7 346.6h-3M687.7 349h-1.5M687.7 350.6h-2.5M687.7 353h-3M687.7 355h-3M687.7 357h-1.5M687.7 358.6h-3M687.7 360.6h-1M687.7 362.2h-1M687.7 363.8h-3M687.7 365.4h-2.5M687.7 367.8h-1M687.7 369.4h-2.5M687.7 371.8h-1M687.7 373.4h-3M687.7 375.4h-1.5M687.7 377.8h-1M687.7 380.2h-3M687.7 382.2h-1M687.7 384.6h-1M687.7 386.6h-1.5M687.7 388.6h-3M687.7 390.6h-1M687.7 392.6h-1.5M687.7 394.2h-1M687.7 396.6h-1M687.7 398.2h-1.5M687.7 400.2h-1.5M687.7 401.8h-2.5M687.7 404.2h-3M687.7 406.2h-1M687.7 408.2h-1.5M687.7 410.2h-3M687.7 412.6h-3M687.7 414.6h-1M687.7 416.6h-2M687.7 418.2h-1M687.7 419.8h-1M687.7 421.4h-1M687.7 423h-2.5M687.7 424.6h-1M687.7 427h-3M687.7 429h-2M687.7 430.6h-2M687.7 432.2h-2M687.7 434.2h-2.5M687.7 436.6h-2M687.7 438.6h-2M687.7 440.2h-2M687.7 442.2h-1M687.7 443.8h-3M687.7 445.4h-2.5M687.7 447h-3M687.7 448.6h-1M687.7 450.6h-2.5M687.7 453h-3M687.7 455h-1M687.7 457.4h-2.5M687.7 459h-2M687.7 461.4h-2.5M687.7 463.8h-2M687.7 465.8h-2.5M687.7 467.8h-1M687.7 469.4h-1.5M687.7 471.8h-2M687.7 474.2h-3M687.7 475.8h-2.5M687.7 477.4h-2.5M687.7 479h-1M687.7 481h-2M687.7 483.4h-2M687.7 485h-2.5M687.7 487.4h-1M687.7 489.8h-3M687.7 491.8h-1M687.7 494.2h-2M687.7 496.6h-3M687.7 498.2h-3M687.7 500.6h-1M687.7 502.6h-1.5M687.7 504.2h-2.5M687.7 505.8h-3M687.7 507.4h-3M687.7 509h-2.5M687.7 510.6h-1M687.7 512.6h-1M687.7 514.2h-1M687.7 516.6h-2.5M687.7 519h-2M687.7 521.4h-2M687.7 523h-1M687.7 525.4h-3M687.7 527.8h-1.5M687.7 529.4h-3" stroke="#000" stroke-width="0.7" fill="none"/>
<path d="M685.4 85.4L685.4 530.4" stroke="#000" stroke-width="0.6"/>
<path d="M682 95H678V212H682" stroke="#000" stroke-width="0.6" fill="none"/>
<path d="M684 118H681V205H684" stroke="#000" stroke-width="0.6" fill="none"/>
<path d="M681 228H677V300H681" stroke="#000" stroke-width="0.6" fill="none"/>
<path d="M681 300H677V380H681" stroke="#000" stroke-width="0.6" fill="none"/>
<path d="M684 250H682V330H684" stroke="#000" stroke-width="0.6" fill="none"/>
<path d="M686 455H683V520H686" stroke="#000" stroke-width="0.6" fill="none"/>
<path d="M683 420H681V520H683" stroke="#000" stroke-width="0.6" fill="none"/>
<path d="M671 153L678 153" stroke="#000" stroke-width="0.7"/>
<path d="M678 374L682 374" stroke="#000" stroke-width="0.7"/>
<path d="M671 414L678 414" stroke="#999" stroke-width="0.7"/>
<path d="M680 427L684 427" stroke="#000" stroke-width="0.7"/>
<path d="M678 454L681 454" stroke="#000" stroke-width="0.7"/>
<text x="980.5" y="63.9">Age</text>
<text x="980.5" y="93.8">Status</text>
<text x="987.2" y="126">Age</text>
<rect x="989.9" y="138.7" width="29" height="26.8" fill="#BCBD22"/>
<rect x="989.9" y="165.5" width="29" height="29.3" fill="#24C8FC"/>
<text x="1029.2" y="160.6">Aged</text>
<text x="1029.2" y="189.8">Young</text>
<text x="987.2" y="237.5">Status</text>
<rect x="989.9" y="243.2" width="28" height="26.8" fill="#FC8C84"/>
<rect x="989.9" y="270" width="28" height="26.8" fill="#FC8CFC"/>
<rect x="989.9" y="296.8" width="28" height="29.7" fill="#24D89C"/>
<text x="1029.2" y="261.5">Dying</text>
<text x="1029.2" y="287.7">Surviving</text>
<text x="1029.2" y="318">Uninfected</text>
<defs><linearGradient id="zg" x1="0" y1="0" x2="0" y2="1"><stop offset="0" stop-color="#D8A0DC"/><stop offset="0.5" stop-color="#fff"/><stop offset="1" stop-color="#EC7820"/></linearGradient></defs>
<rect x="997" y="345.8" width="16.2" height="226.9" fill="url(#zg)"/>
<text x="1029.2" y="355.3">3</text>
<text x="1029.2" y="390.3">2</text>
<text x="1029.2" y="425.2">1</text>
<text x="1029.2" y="464.3">0</text>
<text x="1029.2" y="495.8">−1</text>
<text x="1029.2" y="532.5">−2</text>
<text x="1029.2" y="571.6">−3</text>
<text x="986.4" y="595.6"><tspan font-style="italic">Z</tspan> score</text>
<text x="1148" y="24" font-size="32" font-weight="bold" stroke="#000" stroke-width="1.1">c</text>
<path d="M1237 149L1688.82 149" stroke="#808080" stroke-width="2"/>
<rect x="1237" y="106" width="15.58" height="43" fill="#EEE0E6" stroke="#808080" stroke-width="2"/>
<rect x="1252.58" y="84.5" width="15.58" height="64.5" fill="#EEE0E6" stroke="#808080" stroke-width="2"/>
<rect x="1268.16" y="106" width="15.58" height="43" fill="#EEE0E6" stroke="#808080" stroke-width="2"/>
<rect x="1283.74" y="127.5" width="15.58" height="21.5" fill="#EEE0E6" stroke="#808080" stroke-width="2"/>
<rect x="1299.32" y="116.75" width="15.58" height="32.25" fill="#EEE0E6" stroke="#808080" stroke-width="2"/>
<rect x="1314.9" y="116.75" width="15.58" height="32.25" fill="#EEE0E6" stroke="#808080" stroke-width="2"/>
<rect x="1330.48" y="138.25" width="15.58" height="10.75" fill="#EEE0E6" stroke="#808080" stroke-width="2"/>
<rect x="1408.38" y="138.25" width="15.58" height="10.75" fill="#EEE0E6" stroke="#808080" stroke-width="2"/>
<rect x="1455.12" y="138.25" width="15.58" height="10.75" fill="#EEE0E6" stroke="#808080" stroke-width="2"/>
<rect x="1470.7" y="138.25" width="15.58" height="10.75" fill="#EEE0E6" stroke="#808080" stroke-width="2"/>
<rect x="1673.24" y="138.25" width="15.58" height="10.75" fill="#EEE0E6" stroke="#808080" stroke-width="2"/>
<path d="M1716.2 168.3L1716.2 489.91" stroke="#808080" stroke-width="2"/>
<rect x="1716.2" y="168.3" width="29.9" height="11.09" fill="#EEE0E6" stroke="#808080" stroke-width="2"/>
<rect x="1716.2" y="257.02" width="29.9" height="11.09" fill="#EEE0E6" stroke="#808080" stroke-width="2"/>
<rect x="1716.2" y="290.29" width="29.9" height="11.09" fill="#EEE0E6" stroke="#808080" stroke-width="2"/>
<rect x="1716.2" y="312.47" width="29.9" height="11.09" fill="#EEE0E6" stroke="#808080" stroke-width="2"/>
<rect x="1716.2" y="323.56" width="59.8" height="11.09" fill="#EEE0E6" stroke="#808080" stroke-width="2"/>
<rect x="1716.2" y="345.74" width="29.9" height="11.09" fill="#EEE0E6" stroke="#808080" stroke-width="2"/>
<rect x="1716.2" y="356.83" width="29.9" height="11.09" fill="#EEE0E6" stroke="#808080" stroke-width="2"/>
<rect x="1716.2" y="379.01" width="29.9" height="11.09" fill="#EEE0E6" stroke="#808080" stroke-width="2"/>
<rect x="1716.2" y="390.1" width="29.9" height="11.09" fill="#EEE0E6" stroke="#808080" stroke-width="2"/>
<rect x="1716.2" y="401.19" width="59.8" height="11.09" fill="#EEE0E6" stroke="#808080" stroke-width="2"/>
<rect x="1716.2" y="412.28" width="59.8" height="11.09" fill="#EEE0E6" stroke="#808080" stroke-width="2"/>
<rect x="1716.2" y="423.37" width="89.7" height="11.09" fill="#EEE0E6" stroke="#808080" stroke-width="2"/>
<rect x="1716.2" y="434.46" width="59.8" height="11.09" fill="#EEE0E6" stroke="#808080" stroke-width="2"/>
<rect x="1716.2" y="445.55" width="29.9" height="11.09" fill="#EEE0E6" stroke="#808080" stroke-width="2"/>
<rect x="1716.2" y="456.64" width="59.8" height="11.09" fill="#EEE0E6" stroke="#808080" stroke-width="2"/>
<rect x="1716.2" y="467.73" width="89.7" height="11.09" fill="#EEE0E6" stroke="#808080" stroke-width="2"/>
<rect x="1716.2" y="478.82" width="59.8" height="11.09" fill="#EEE0E6" stroke="#808080" stroke-width="2"/>
<path d="M1215.25 153V505.5H1710.5" stroke="#333" stroke-width="1.5" fill="none"/>
<path d="M1204.5 190.5L1215.25 190.5" stroke="#333" stroke-width="1.5"/>
<text text-anchor="end" x="1191.3" y="198">10</text>
<path d="M1204.5 270.25L1215.25 270.25" stroke="#333" stroke-width="1.5"/>
<text text-anchor="end" x="1191.3" y="277.75">8</text>
<path d="M1204.5 350L1215.25 350" stroke="#333" stroke-width="1.5"/>
<text text-anchor="end" x="1191.3" y="357.5">6</text>
<path d="M1204.5 429.5L1215.25 429.5" stroke="#333" stroke-width="1.5"/>
<text text-anchor="end" x="1191.3" y="437">4</text>
<path d="M1319.5 505.5L1319.5 515.5" stroke="#333" stroke-width="1.5"/>
<text text-anchor="middle" x="1319.5" y="543.75">2</text>
<path d="M1492 505.5L1492 515.5" stroke="#333" stroke-width="1.5"/>
<text text-anchor="middle" x="1492" y="543.75">4</text>
<path d="M1664.5 505.5L1664.5 515.5" stroke="#333" stroke-width="1.5"/>
<text text-anchor="middle" x="1664.5" y="543.75">6</text>
<text text-anchor="middle" transform="translate(1165 328.5) rotate(-90)">Fold enrichment</text>
<text text-anchor="middle" x="1462.6" y="579">−log<tspan font-size="11" dy="5">10</tspan><tspan font-style="italic" dy="-5">P</tspan></text>
<circle cx="1338.5" cy="168.5" r="6.2" fill="#ECACEC"/>
<circle cx="1312.5" cy="263" r="6.2" fill="#ECACEC"/>
<circle cx="1291.5" cy="323" r="6.2" fill="#ECACEC"/>
<circle cx="1421.75" cy="329.5" r="6.2" fill="#ECACEC"/>
<circle cx="1462.5" cy="333" r="6.2" fill="#ECACEC"/>
<circle cx="1319.5" cy="355.75" r="6.2" fill="#ECACEC"/>
<circle cx="1277" cy="359.75" r="6.2" fill="#ECACEC"/>
<circle cx="1263.75" cy="388" r="6.2" fill="#ECACEC"/>
<circle cx="1474.5" cy="391.25" r="6.2" fill="#ECACEC"/>
<circle cx="1687.7" cy="296.6" r="6.2" fill="#ECACEC"/>
<circle cx="1257" cy="405" r="6.2" fill="#F4BC44"/>
<circle cx="1254.25" cy="408.25" r="6.2" fill="#F4BC44"/>
<circle cx="1279.25" cy="420.5" r="6.2" fill="#F4BC44"/>
<circle cx="1273.75" cy="427.5" r="6.2" fill="#F4BC44"/>
<circle cx="1313.25" cy="418.25" r="6.2" fill="#F4BC44"/>
<circle cx="1302" cy="428.75" r="6.2" fill="#F4BC44"/>
<circle cx="1295.25" cy="436.25" r="6.2" fill="#F4BC44"/>
<circle cx="1241.25" cy="433" r="6.2" fill="#F4BC44"/>
<circle cx="1263.5" cy="441.5" r="6.2" fill="#F4BC44"/>
<circle cx="1281" cy="451.25" r="6.2" fill="#F4BC44"/>
<circle cx="1250" cy="457.5" r="6.2" fill="#F4BC44"/>
<circle cx="1238" cy="471.75" r="6.2" fill="#F4BC44"/>
<circle cx="1256.75" cy="472" r="6.2" fill="#F4BC44"/>
<circle cx="1268.75" cy="479" r="6.2" fill="#F4BC44"/>
<circle cx="1320" cy="487" r="6.2" fill="#F4BC44"/>
<circle cx="1329" cy="489" r="6.2" fill="#F4BC44"/>
<text x="1350.5" y="173.75">Circadian rhythm</text>
<text x="1233.25" y="252.5">Aldosterone-regulated sodium reabsorption</text>
<text x="1227.5" y="309.25">Notch signalling</text>
<text x="1403.75" y="316.25">Prostate cancer</text>
<text x="1483" y="338.75">HIF-1 signalling</text>
<text x="1328.75" y="355.5">Inositol phosphate metabolism</text>
<text x="1288" y="376.25">Regulation of lipolysis in adipocytes</text>
<text x="1270.75" y="399.5">Glioma</text>
<text x="1405" y="417.5">Transcriptional misregulation</text>
<text x="1411.25" y="442.5">in cancer</text>
<text x="1554.6" y="287">FoxO signalling</text>
<text x="1817" y="24" font-size="32" font-weight="bold" stroke="#000" stroke-width="1.1">d</text>
<rect x="1927" y="355" width="24.5" height="56.5" fill="#CBA38F"/>
<rect x="1963.5" y="229.25" width="24.5" height="182.25" fill="#EADCD8"/>
<rect x="1999.75" y="377.5" width="24.5" height="34" fill="#E4CCF3"/>
<rect x="2060.25" y="388.25" width="24.5" height="23.25" fill="#E8D8E2"/>
<rect x="2096.75" y="400" width="24.5" height="11.5" fill="#DCC4DC"/>
<rect x="2133.25" y="399" width="24.5" height="12.5" fill="#FDE1D0"/>
<path d="M1915.5 175.95L1915.5 411.5" stroke="#000" stroke-width="1.3"/>
<path d="M1906 411.5L2172 411.5" stroke="#000" stroke-width="1.3"/>
<path d="M1906 176.5L1915.5 176.5" stroke="#000" stroke-width="1.3"/>
<text text-anchor="end" x="1894.5" y="184">0.10</text>
<path d="M1906 223.75L1915.5 223.75" stroke="#000" stroke-width="1.3"/>
<text text-anchor="end" x="1894.5" y="231.25">0.08</text>
<path d="M1906 270.5L1915.5 270.5" stroke="#000" stroke-width="1.3"/>
<text text-anchor="end" x="1894.5" y="278">0.06</text>
<path d="M1906 317.5L1915.5 317.5" stroke="#000" stroke-width="1.3"/>
<text text-anchor="end" x="1894.5" y="325">0.04</text>
<path d="M1906 364.5L1915.5 364.5" stroke="#000" stroke-width="1.3"/>
<text text-anchor="end" x="1894.5" y="372">0.02</text>
<text text-anchor="end" x="1894.5" y="419">0</text>
<path d="M1939.25 411.5L1939.25 421" stroke="#000" stroke-width="1.3"/>
<path d="M1975.75 411.5L1975.75 421" stroke="#000" stroke-width="1.3"/>
<path d="M2012 411.5L2012 421" stroke="#000" stroke-width="1.3"/>
<path d="M2072.5 411.5L2072.5 421" stroke="#000" stroke-width="1.3"/>
<path d="M2109 411.5L2109 421" stroke="#000" stroke-width="1.3"/>
<path d="M2145.5 411.5L2145.5 421" stroke="#000" stroke-width="1.3"/>
<path d="M1939.25 350.75L1939.25 355" stroke="#000" stroke-width="1.1"/>
<path d="M1932.75 350.75L1945.75 350.75" stroke="#000" stroke-width="1.1"/>
<path d="M1975.75 202.5L1975.75 229.25" stroke="#000" stroke-width="1.1"/>
<path d="M1969.25 202.5L1982.25 202.5" stroke="#000" stroke-width="1.1"/>
<path d="M2012 366.75L2012 387.5" stroke="#000" stroke-width="1.1"/>
<path d="M2005.5 366.75L2018.5 366.75" stroke="#000" stroke-width="1.1"/>
<path d="M2005.5 387.5L2018.5 387.5" stroke="#000" stroke-width="1.1"/>
<path d="M2072.5 378.25L2072.5 388.25" stroke="#000" stroke-width="1.1"/>
<path d="M2066 378.25L2079 378.25" stroke="#000" stroke-width="1.1"/>
<path d="M2145.5 394.5L2145.5 399" stroke="#000" stroke-width="1.1"/>
<path d="M2139 394.5L2152 394.5" stroke="#000" stroke-width="1.1"/>
<circle cx="1933.5" cy="346.25" r="5.4" fill="#9E4B28" stroke="#000" stroke-width="1.1"/>
<circle cx="1946" cy="357.5" r="5.4" fill="#9E4B28" stroke="#000" stroke-width="1.1"/>
<circle cx="1933.5" cy="362.5" r="5.4" fill="#9E4B28" stroke="#000" stroke-width="1.1"/>
<circle cx="1969.75" cy="196.25" r="5.4" fill="#D4B0AC" stroke="#000" stroke-width="1.1"/>
<circle cx="1982.25" cy="198" r="5.4" fill="#D4B0AC" stroke="#000" stroke-width="1.1"/>
<circle cx="1976" cy="208" r="5.4" fill="#D4B0AC" stroke="#000" stroke-width="1.1"/>
<circle cx="1976" cy="246.5" r="5.4" fill="#D4B0AC" stroke="#000" stroke-width="1.1"/>
<circle cx="1976" cy="297" r="5.4" fill="#D4B0AC" stroke="#000" stroke-width="1.1"/>
<circle cx="2012" cy="341.25" r="5.4" fill="#C494E8" stroke="#000" stroke-width="1.1"/>
<circle cx="2006" cy="375.5" r="5.4" fill="#C494E8" stroke="#000" stroke-width="1.1"/>
<circle cx="2018.5" cy="375.5" r="5.4" fill="#C494E8" stroke="#000" stroke-width="1.1"/>
<circle cx="2006" cy="396.25" r="5.4" fill="#C494E8" stroke="#000" stroke-width="1.1"/>
<circle cx="2018.5" cy="396.25" r="5.4" fill="#C494E8" stroke="#000" stroke-width="1.1"/>
<circle cx="2073" cy="367.5" r="5.4" fill="#D4AAC4" stroke="#000" stroke-width="1.1"/>
<circle cx="2066.5" cy="400.5" r="5.4" fill="#D4AAC4" stroke="#000" stroke-width="1.1"/>
<circle cx="2079" cy="397.5" r="5.4" fill="#D4AAC4" stroke="#000" stroke-width="1.1"/>
<circle cx="2115.5" cy="389.25" r="5.4" fill="#4A1454" stroke="#000" stroke-width="1.1"/>
<circle cx="2109.25" cy="399.5" r="5.4" fill="#4A1454" stroke="#000" stroke-width="1.1"/>
<circle cx="2103" cy="406" r="5.4" fill="#4A1454" stroke="#000" stroke-width="1.1"/>
<circle cx="2115.5" cy="406" r="5.4" fill="#4A1454" stroke="#000" stroke-width="1.1"/>
<circle cx="2152" cy="387.5" r="5.4" fill="#F8B088" stroke="#000" stroke-width="1.1"/>
<circle cx="2139.5" cy="393" r="5.4" fill="#F8B088" stroke="#000" stroke-width="1.1"/>
<circle cx="2139.5" cy="407.5" r="5.4" fill="#F8B088" stroke="#000" stroke-width="1.1"/>
<circle cx="2152" cy="407.5" r="5.4" fill="#F8B088" stroke="#000" stroke-width="1.1"/>
<text text-anchor="end" transform="translate(1952.25 441.3) rotate(-45)">Uninfected (3)</text>
<text text-anchor="end" transform="translate(1988.75 441.3) rotate(-45)">Surviving (5)</text>
<text text-anchor="end" transform="translate(2025 441.3) rotate(-45)">Dying (5)</text>
<text text-anchor="end" transform="translate(2085.5 441.3) rotate(-45)">Uninfected (3)</text>
<text text-anchor="end" transform="translate(2122 441.3) rotate(-45)">Surviving (4)</text>
<text text-anchor="end" transform="translate(2158.5 441.3) rotate(-45)">Dying (5)</text>
<text text-anchor="middle" transform="translate(1833 294) rotate(-90)"><tspan font-style="italic">Foxo1:Rps17</tspan> (a.u.)</text>
<circle cx="2042.5" cy="176.5" r="2.4" fill="#000"/>
<circle cx="2042.5" cy="189.95" r="2.4" fill="#000"/>
<circle cx="2042.5" cy="203.4" r="2.4" fill="#000"/>
<circle cx="2042.5" cy="216.85" r="2.4" fill="#000"/>
<circle cx="2042.5" cy="230.3" r="2.4" fill="#000"/>
<circle cx="2042.5" cy="243.75" r="2.4" fill="#000"/>
<circle cx="2042.5" cy="257.2" r="2.4" fill="#000"/>
<circle cx="2042.5" cy="270.65" r="2.4" fill="#000"/>
<circle cx="2042.5" cy="284.1" r="2.4" fill="#000"/>
<circle cx="2042.5" cy="297.55" r="2.4" fill="#000"/>
<circle cx="2042.5" cy="311" r="2.4" fill="#000"/>
<circle cx="2042.5" cy="324.45" r="2.4" fill="#000"/>
<circle cx="2042.5" cy="337.9" r="2.4" fill="#000"/>
<circle cx="2042.5" cy="351.35" r="2.4" fill="#000"/>
<circle cx="2042.5" cy="364.8" r="2.4" fill="#000"/>
<circle cx="2042.5" cy="378.25" r="2.4" fill="#000"/>
<circle cx="2042.5" cy="391.7" r="2.4" fill="#000"/>
<circle cx="2042.5" cy="405.15" r="2.4" fill="#000"/>
<text text-anchor="middle" x="1985.25" y="163.25">Young</text>
<text text-anchor="middle" x="2110.5" y="163.25">Aged</text>
<text transform="translate(1948.5 325) rotate(-90)">&lt;0.0001</text>
<text transform="translate(2020.5 314.5) rotate(-90)">&lt;0.0001</text>
<text transform="translate(2079 339.5) rotate(-90)">&lt;0.0001</text>
<text transform="translate(2118.5 339.5) rotate(-90)">&lt;0.0001</text>
<text transform="translate(2154.5 339.5) rotate(-90)">&lt;0.0001</text>
<text x="9.5" y="710" font-size="32" font-weight="bold" stroke="#000" stroke-width="1.1">e</text>
<path d="M174.5 714.5L174.5 949" stroke="#000" stroke-width="1.3"/>
<path d="M163 949L400.5 949" stroke="#000" stroke-width="1.3"/>
<path d="M163 714.5L174.5 714.5" stroke="#000" stroke-width="1.3"/>
<text text-anchor="end" x="149.5" y="722.1">100</text>
<path d="M163 773.12L174.5 773.12" stroke="#000" stroke-width="1.3"/>
<text text-anchor="end" x="149.5" y="780.73">75</text>
<path d="M163 831.75L174.5 831.75" stroke="#000" stroke-width="1.3"/>
<text text-anchor="end" x="149.5" y="839.35">50</text>
<path d="M163 890.38L174.5 890.38" stroke="#000" stroke-width="1.3"/>
<text text-anchor="end" x="149.5" y="897.98">25</text>
<text text-anchor="end" x="149.5" y="956.6">0</text>
<path d="M174.5 949L174.5 960" stroke="#000" stroke-width="1.3"/>
<text text-anchor="middle" x="174.5" y="988.3">0</text>
<path d="M231 949L231 960" stroke="#000" stroke-width="1.3"/>
<text text-anchor="middle" x="231" y="988.3">50</text>
<path d="M287.5 949L287.5 960" stroke="#000" stroke-width="1.3"/>
<text text-anchor="middle" x="287.5" y="988.3">100</text>
<path d="M344 949L344 960" stroke="#000" stroke-width="1.3"/>
<text text-anchor="middle" x="344" y="988.3">150</text>
<path d="M400.5 949L400.5 960" stroke="#000" stroke-width="1.3"/>
<text text-anchor="middle" x="400.5" y="988.3">200</text>
<text text-anchor="middle" transform="translate(103 831.75) rotate(-90)">Percentage survival</text>
<text text-anchor="middle" x="287.25" y="1029.6">Time postinfection (h)</text>
<path d="M174.5 714.5L185.5 714.5L185.5 871.25L201.5 871.25L201.5 909.5L364.25 909.5" stroke="#FCB8D0" stroke-width="5" fill="none" stroke-linejoin="miter"/>
<path d="M174.5 714.5L360.5 714.5" stroke="#901090" stroke-width="5" fill="none" stroke-linejoin="miter"/>
<path d="M172 714.5L188 714.5L188 740.75L364.25 740.75" stroke="#C4A49C" stroke-width="5" fill="none" stroke-linejoin="miter"/>
<path d="M190.5 714.5L365.5 714.5" stroke="#88381E" stroke-width="5" fill="none" stroke-linejoin="miter"/>
<circle cx="185.5" cy="831.75" r="6.4" fill="#FCB8D0" stroke="#000" stroke-width="1.2"/>
<circle cx="188" cy="871.25" r="6.4" fill="#FCB8D0" stroke="#000" stroke-width="1.2"/>
<circle cx="201.5" cy="909.5" r="6.4" fill="#FCB8D0" stroke="#000" stroke-width="1.2"/>
<circle cx="364.25" cy="909.5" r="6.4" fill="#FCB8D0" stroke="#000" stroke-width="1.2"/>
<circle cx="188" cy="740.75" r="6.4" fill="#C4A49C" stroke="#000" stroke-width="1.2"/>
<circle cx="364.25" cy="740.75" r="6.4" fill="#C4A49C" stroke="#000" stroke-width="1.2"/>
<circle cx="360.5" cy="714.5" r="6.4" fill="#901090" stroke="#000" stroke-width="1.2"/>
<circle cx="365.5" cy="714.5" r="6.4" fill="#88381E" stroke="#000" stroke-width="1.2"/>
<path d="M398 778.75L423 778.75" stroke="#88381E" stroke-width="5" stroke-linecap="round"/>
<circle cx="410" cy="778.75" r="6.4" fill="#88381E" stroke="#000" stroke-width="1.2"/>
<text x="438.5" y="786.3">Vehicle U (5)</text>
<path d="M398 807.5L423 807.5" stroke="#901090" stroke-width="5" stroke-linecap="round"/>
<circle cx="410" cy="807.5" r="6.4" fill="#901090" stroke="#000" stroke-width="1.2"/>
<text x="438.5" y="815">FoxO1 U (5)</text>
<path d="M398 840L423 840" stroke="#C4A49C" stroke-width="5" stroke-linecap="round"/>
<circle cx="410" cy="840" r="6.4" fill="#C4A49C" stroke="#000" stroke-width="1.2"/>
<text x="438.5" y="847.5">Vehicle I (9)</text>
<path d="M398 870L423 870" stroke="#FCB8D0" stroke-width="5" stroke-linecap="round"/>
<circle cx="410" cy="870" r="6.4" fill="#FCB8D0" stroke="#000" stroke-width="1.2"/>
<text x="438.5" y="877.5">FoxO1 I (6)</text>
<path d="M559.7 836H576.8V881.3H559.7" stroke="#333" stroke-width="1.2" fill="none"/>
<text transform="translate(583.8 809) rotate(90)"><tspan font-style="italic">P</tspan> = 0.0003</text>
<text x="670.5" y="710.5" font-size="32" font-weight="bold" stroke="#000" stroke-width="1.1">f</text>
<path d="M758.25 714L758.25 948.75" stroke="#000" stroke-width="1.3"/>
<path d="M746.75 948.75L998.5 948.75" stroke="#000" stroke-width="1.3"/>
<path d="M746.75 714L758.25 714" stroke="#000" stroke-width="1.3"/>
<text text-anchor="end" x="734.25" y="721.6">100</text>
<path d="M746.75 772.69L758.25 772.69" stroke="#000" stroke-width="1.3"/>
<text text-anchor="end" x="734.25" y="780.29">75</text>
<path d="M746.75 831.38L758.25 831.38" stroke="#000" stroke-width="1.3"/>
<text text-anchor="end" x="734.25" y="838.98">50</text>
<path d="M746.75 890.06L758.25 890.06" stroke="#000" stroke-width="1.3"/>
<text text-anchor="end" x="734.25" y="897.66">25</text>
<text text-anchor="end" x="734.25" y="956.35">0</text>
<path d="M758.25 948.75L758.25 959.75" stroke="#000" stroke-width="1.3"/>
<text text-anchor="middle" x="758.25" y="988.05">0</text>
<path d="M818.31 948.75L818.31 959.75" stroke="#000" stroke-width="1.3"/>
<text text-anchor="middle" x="818.31" y="988.05">50</text>
<path d="M878.38 948.75L878.38 959.75" stroke="#000" stroke-width="1.3"/>
<text text-anchor="middle" x="878.38" y="988.05">100</text>
<path d="M938.44 948.75L938.44 959.75" stroke="#000" stroke-width="1.3"/>
<text text-anchor="middle" x="938.44" y="988.05">150</text>
<path d="M998.5 948.75L998.5 959.75" stroke="#000" stroke-width="1.3"/>
<text text-anchor="middle" x="998.5" y="988.05">200</text>
<text text-anchor="middle" transform="translate(685.75 831.38) rotate(-90)">Percentage survival</text>
<text text-anchor="middle" x="878" y="1029.35">Time postinfection (h)</text>
<path d="M758.25 714H770V890H816V909.5H960" stroke="#FCB8D0" stroke-width="5" fill="none"/>
<path d="M756 714H770V743.5H960" stroke="#DCC8BC" stroke-width="5" fill="none"/>
<circle cx="770" cy="890" r="6.4" fill="#FCB8D0" stroke="#000" stroke-width="1.2"/>
<circle cx="816" cy="909.5" r="6.4" fill="#FCB8D0" stroke="#000" stroke-width="1.2"/>
<circle cx="960" cy="909.5" r="6.4" fill="#FCB8D0" stroke="#000" stroke-width="1.2"/>
<circle cx="770" cy="743.5" r="6.4" fill="#DCC8BC" stroke="#000" stroke-width="1.2"/>
<circle cx="960" cy="743.5" r="6.4" fill="#DCC8BC" stroke="#000" stroke-width="1.2"/>
<text x="852" y="882.5"><tspan font-style="italic">P</tspan> = 0.0018</text>
<path d="M999.5 792.5L1024.5 792.5" stroke="#DCC8BC" stroke-width="5" stroke-linecap="round"/>
<circle cx="1012" cy="792.5" r="6.4" fill="#DCC8BC" stroke="#000" stroke-width="1.2"/>
<text x="1040.75" y="801.3"><tspan font-style="italic">Foxo1 Myh6<tspan font-size="12.5" dy="-9">cre−</tspan></tspan><tspan dy="9">(8)</tspan></text>
<path d="M999.5 830L1024.5 830" stroke="#FCB8D0" stroke-width="5" stroke-linecap="round"/>
<circle cx="1012" cy="830" r="6.4" fill="#FCB8D0" stroke="#000" stroke-width="1.2"/>
<text x="1040.75" y="839.3"><tspan font-style="italic">Foxo1 Myh6<tspan font-size="12.5" dy="-9">cre+</tspan></tspan><tspan dy="9">(16)</tspan></text>
<text x="1347" y="712" font-size="32" font-weight="bold" stroke="#000" stroke-width="1.1">g</text>
<rect x="1423" y="724" width="269.6" height="263" fill="#108888"/>
<text text-anchor="middle" x="1482.3" y="716.3">Vehicle</text>
<text text-anchor="middle" x="1607.7" y="716.3">FoxO1</text>
<text text-anchor="middle" transform="translate(1414 782.3) rotate(-90)">Uninfected</text>
<text text-anchor="middle" transform="translate(1414 910.7) rotate(-90)">Infected</text>
<rect x="1641.4" y="972.5" width="41.6" height="5.5" fill="#000"/>
<defs><filter id="spk" x="-0.4" y="-0.4" width="1.8" height="1.8"><feGaussianBlur in="SourceAlpha" stdDeviation="3.5" result="b"/><feTurbulence type="fractalNoise" baseFrequency="0.24" numOctaves="2" seed="4" result="t"/><feColorMatrix in="t" type="matrix" values="0 0 0 0 1 0 0 0 0 1 0 0 0 0 1 0 0 0 8 -4.6" result="m"/><feComposite in="m" in2="b" operator="in"/></filter><filter id="grn" x="0" y="0" width="1" height="1"><feTurbulence type="fractalNoise" baseFrequency="0.35" numOctaves="2" seed="9"/><feColorMatrix type="matrix" values="0 0 0 0 0.3 0 0 0 0 0 0 0 0 0 0.05 0 0 0 3 -1.5"/></filter></defs>
<defs><radialGradient id="hg1" gradientUnits="userSpaceOnUse" cx="1490.37" cy="788.9" r="53.96" fx="1493.37" fy="780.9"><stop offset="0" stop-color="#782644"/><stop offset="0.6" stop-color="#5E1830"/><stop offset="1" stop-color="#480E26"/></radialGradient><clipPath id="chg1"><path d="M1474.9 745.68C1480.4 742.09 1487.37 741.88 1492.65 742.38C1497.93 742.89 1501.94 744.71 1506.59 748.72C1511.24 752.73 1517.49 759.28 1520.53 766.46C1523.57 773.65 1524.84 783.79 1524.84 791.81C1524.84 799.84 1523.57 807.95 1520.53 814.63C1517.49 821.3 1511.24 828.4 1506.59 831.86C1501.94 835.33 1497.93 836.59 1492.65 835.41C1487.37 834.23 1480.19 829.92 1474.9 824.77C1469.62 819.61 1464.13 811.25 1460.96 804.49C1457.79 797.73 1456.1 790.97 1455.89 784.21C1455.68 777.45 1456.53 770.35 1459.7 763.93C1462.86 757.51 1469.41 749.27 1474.9 745.68Z"/></clipPath></defs>
<path d="M1507.86 747.45C1509.55 745.34 1518.63 751.04 1523.07 753.79C1527.5 756.54 1533 760.55 1534.47 763.93C1535.95 767.31 1533.84 771.53 1531.94 774.07C1530.04 776.6 1526.24 780.41 1523.07 779.14C1519.9 777.87 1515.46 771.74 1512.93 766.46C1510.39 761.18 1506.17 749.56 1507.86 747.45Z" fill="#A04A5C"/>
<path d="M1474.9 746.19C1474.9 744.16 1482.93 742.04 1487.58 741.62C1492.23 741.2 1499.83 742.04 1502.79 743.65C1505.75 745.26 1507.86 749.56 1505.32 751.25C1502.79 752.94 1492.65 754.63 1487.58 753.79C1482.51 752.94 1474.9 748.21 1474.9 746.19Z" fill="#A04A5C"/>
<path d="M1474.9 745.68C1480.4 742.09 1487.37 741.88 1492.65 742.38C1497.93 742.89 1501.94 744.71 1506.59 748.72C1511.24 752.73 1517.49 759.28 1520.53 766.46C1523.57 773.65 1524.84 783.79 1524.84 791.81C1524.84 799.84 1523.57 807.95 1520.53 814.63C1517.49 821.3 1511.24 828.4 1506.59 831.86C1501.94 835.33 1497.93 836.59 1492.65 835.41C1487.37 834.23 1480.19 829.92 1474.9 824.77C1469.62 819.61 1464.13 811.25 1460.96 804.49C1457.79 797.73 1456.1 790.97 1455.89 784.21C1455.68 777.45 1456.53 770.35 1459.7 763.93C1462.86 757.51 1469.41 749.27 1474.9 745.68Z" fill="url(#hg1)"/>
<g clip-path="url(#chg1)" opacity="0.42"><g transform="rotate(0 1488.85 793.08)"><ellipse cx="1488.85" cy="793.08" rx="15" ry="22" filter="url(#spk)" fill="#fff"/></g></g>
<ellipse cx="1493.92" cy="791.81" rx="1.4" ry="3" fill="#fff" opacity="0.55"/>
<ellipse cx="1497.72" cy="763.93" rx="1.8" ry="0.9" fill="#fff" opacity="0.55"/>
<defs><radialGradient id="hg2" gradientUnits="userSpaceOnUse" cx="1619.39" cy="789.28" r="53.52" fx="1622.39" fy="781.28"><stop offset="0" stop-color="#782644"/><stop offset="0.6" stop-color="#5E1830"/><stop offset="1" stop-color="#480E26"/></radialGradient><clipPath id="chg2"><path d="M1594.04 747.45C1597.21 744.41 1602.07 743.35 1606.72 743.14C1611.36 742.93 1616.43 743.14 1621.93 746.19C1627.42 749.23 1634.6 755.48 1639.67 761.39C1644.74 767.31 1650.15 774.07 1652.34 781.67C1654.54 789.28 1654.54 799.42 1652.85 807.02C1651.16 814.63 1646.51 822.57 1642.21 827.3C1637.9 832.03 1632.49 835.41 1627 835.41C1621.5 835.41 1614.74 832.03 1609.25 827.3C1603.76 822.57 1597.93 814.63 1594.04 807.02C1590.16 799.42 1586.99 789.28 1585.93 781.67C1584.88 774.07 1586.35 767.1 1587.71 761.39C1589.06 755.69 1590.87 750.49 1594.04 747.45Z"/></clipPath></defs>
<path d="M1629.53 746.19C1631.01 743.99 1637.9 743.99 1640.94 745.68C1643.98 747.37 1647.57 753.28 1647.78 756.32C1647.99 759.37 1644.82 763.51 1642.21 763.93C1639.59 764.35 1634.18 761.82 1632.07 758.86C1629.95 755.9 1628.05 748.38 1629.53 746.19Z" fill="#A04A5C"/>
<path d="M1591.51 748.72C1592.35 745.85 1597.42 742.47 1601.65 741.62C1605.87 740.78 1614.74 741.62 1616.86 743.65C1618.97 745.68 1617.7 751.25 1614.32 753.79C1610.94 756.32 1600.38 759.7 1596.58 758.86C1592.78 758.01 1590.66 751.59 1591.51 748.72Z" fill="#A04A5C"/>
<path d="M1594.04 747.45C1597.21 744.41 1602.07 743.35 1606.72 743.14C1611.36 742.93 1616.43 743.14 1621.93 746.19C1627.42 749.23 1634.6 755.48 1639.67 761.39C1644.74 767.31 1650.15 774.07 1652.34 781.67C1654.54 789.28 1654.54 799.42 1652.85 807.02C1651.16 814.63 1646.51 822.57 1642.21 827.3C1637.9 832.03 1632.49 835.41 1627 835.41C1621.5 835.41 1614.74 832.03 1609.25 827.3C1603.76 822.57 1597.93 814.63 1594.04 807.02C1590.16 799.42 1586.99 789.28 1585.93 781.67C1584.88 774.07 1586.35 767.1 1587.71 761.39C1589.06 755.69 1590.87 750.49 1594.04 747.45Z" fill="url(#hg2)"/>
<g clip-path="url(#chg2)" opacity="0.38"><g transform="rotate(8 1623.19 784.21)"><ellipse cx="1623.19" cy="784.21" rx="11" ry="24" filter="url(#spk)" fill="#fff"/></g></g>
<ellipse cx="1621.93" cy="771.53" rx="2" ry="4.5" fill="#fff" opacity="0.4"/>
<defs><radialGradient id="hg3" gradientUnits="userSpaceOnUse" cx="1495.44" cy="916.91" r="49.55" fx="1498.44" fy="908.91"><stop offset="0" stop-color="#7A3450"/><stop offset="0.6" stop-color="#682640"/><stop offset="1" stop-color="#501832"/></radialGradient><clipPath id="chg3"><path d="M1477.44 878C1481.88 875.67 1487.58 874.2 1492.65 874.2C1497.72 874.2 1502.79 874.83 1507.86 878C1512.93 881.17 1519.6 887.29 1523.07 893.21C1526.53 899.12 1528.43 906.73 1528.64 913.49C1528.86 920.25 1527.17 927.22 1524.33 933.76C1521.5 940.31 1516.1 948.47 1511.66 952.78C1507.22 957.08 1502.79 960.25 1497.72 959.62C1492.65 958.99 1486.31 954.55 1481.24 948.97C1476.17 943.4 1470.47 933.76 1467.3 926.16C1464.13 918.56 1462.44 909.68 1462.23 903.35C1462.02 897.01 1463.5 892.36 1466.03 888.14C1468.57 883.91 1473 880.32 1477.44 878Z"/></clipPath></defs>
<path d="M1472.88 864.82C1474.14 861.01 1479.64 862.49 1482.51 862.79C1485.38 863.08 1488 867.01 1490.11 866.59C1492.23 866.17 1493.07 860.89 1495.18 860.25C1497.3 859.62 1500.68 860.25 1502.79 862.79C1504.9 865.32 1509.55 871.24 1507.86 875.46C1506.17 879.69 1498.14 886.45 1492.65 888.14C1487.16 889.83 1478.2 889.49 1474.9 885.6C1471.61 881.72 1471.61 868.62 1472.88 864.82Z" fill="#9C5068"/>
<path d="M1477.44 878C1481.88 875.67 1487.58 874.2 1492.65 874.2C1497.72 874.2 1502.79 874.83 1507.86 878C1512.93 881.17 1519.6 887.29 1523.07 893.21C1526.53 899.12 1528.43 906.73 1528.64 913.49C1528.86 920.25 1527.17 927.22 1524.33 933.76C1521.5 940.31 1516.1 948.47 1511.66 952.78C1507.22 957.08 1502.79 960.25 1497.72 959.62C1492.65 958.99 1486.31 954.55 1481.24 948.97C1476.17 943.4 1470.47 933.76 1467.3 926.16C1464.13 918.56 1462.44 909.68 1462.23 903.35C1462.02 897.01 1463.5 892.36 1466.03 888.14C1468.57 883.91 1473 880.32 1477.44 878Z" fill="url(#hg3)"/>
<path d="M1482.51 883.07L1481.24 913.49L1488.85 951.51" stroke="#501832" stroke-width="1.2" fill="none" opacity="0.6"/>
<g clip-path="url(#chg3)" opacity="0.42"><g transform="rotate(-5 1495.18 910.95)"><ellipse cx="1495.18" cy="910.95" rx="12" ry="22" filter="url(#spk)" fill="#fff"/></g></g>
<ellipse cx="1492.65" cy="903.35" rx="2" ry="3" fill="#fff" opacity="0.5"/>
<defs><radialGradient id="hg4" gradientUnits="userSpaceOnUse" cx="1619.52" cy="912.47" r="57.63" fx="1622.52" fy="904.47"><stop offset="0" stop-color="#782644"/><stop offset="0.6" stop-color="#5E1830"/><stop offset="1" stop-color="#480E26"/></radialGradient><clipPath id="chg4"><path d="M1599.11 870.39C1604.39 867.01 1610.94 862.58 1616.86 862.79C1622.77 863 1628.69 867.44 1634.6 871.66C1640.52 875.89 1648.29 882.01 1652.34 888.14C1656.4 894.26 1658.51 900.81 1658.94 908.42C1659.36 916.02 1657.88 925.95 1654.88 933.76C1651.88 941.58 1646.01 950.58 1640.94 955.31C1635.87 960.04 1630.59 962.79 1624.46 962.15C1618.34 961.52 1610.31 957.08 1604.18 951.51C1598.06 945.93 1591.72 936.72 1587.71 928.69C1583.69 920.67 1580.52 910.95 1580.1 903.35C1579.68 895.74 1582 888.56 1585.17 883.07C1588.34 877.57 1593.83 873.77 1599.11 870.39Z"/></clipPath></defs>
<path d="M1597.85 865.32C1597.85 861.94 1607.77 856.03 1611.79 855.18C1615.8 854.34 1619.39 858.14 1621.93 860.25C1624.46 862.37 1628.69 865.32 1627 867.86C1625.31 870.39 1616.65 875.89 1611.79 875.46C1606.93 875.04 1597.85 868.7 1597.85 865.32Z" fill="#A04A5C"/>
<path d="M1637.14 875.46C1638.83 873.56 1646.85 872.08 1649.81 874.2C1652.77 876.31 1654.88 884.97 1654.88 888.14C1654.88 891.31 1652.34 893.63 1649.81 893.21C1647.28 892.78 1641.78 888.56 1639.67 885.6C1637.56 882.64 1635.45 877.36 1637.14 875.46Z" fill="#A04A5C"/>
<path d="M1599.11 870.39C1604.39 867.01 1610.94 862.58 1616.86 862.79C1622.77 863 1628.69 867.44 1634.6 871.66C1640.52 875.89 1648.29 882.01 1652.34 888.14C1656.4 894.26 1658.51 900.81 1658.94 908.42C1659.36 916.02 1657.88 925.95 1654.88 933.76C1651.88 941.58 1646.01 950.58 1640.94 955.31C1635.87 960.04 1630.59 962.79 1624.46 962.15C1618.34 961.52 1610.31 957.08 1604.18 951.51C1598.06 945.93 1591.72 936.72 1587.71 928.69C1583.69 920.67 1580.52 910.95 1580.1 903.35C1579.68 895.74 1582 888.56 1585.17 883.07C1588.34 877.57 1593.83 873.77 1599.11 870.39Z" fill="url(#hg4)"/>
<g clip-path="url(#chg4)" opacity="0.4"><g transform="rotate(-30 1618.12 900.81)"><ellipse cx="1618.12" cy="900.81" rx="13" ry="22" filter="url(#spk)" fill="#fff"/></g></g>
<ellipse cx="1616.86" cy="889.4" rx="2.5" ry="2" fill="#fff" opacity="0.6"/>
<ellipse cx="1620.66" cy="895.74" rx="1.8" ry="1.8" fill="#fff" opacity="0.6"/>
<text x="1829" y="712" font-size="32" font-weight="bold" stroke="#000" stroke-width="1.1">h</text>
<rect x="1961.8" y="836" width="31.4" height="145.7" fill="#E4B8A8"/>
<rect x="2009.1" y="836" width="31.4" height="145.7" fill="#CC90D0"/>
<rect x="2056.5" y="833.6" width="31.4" height="148.1" fill="#F0E8E4"/>
<rect x="2104" y="823" width="31.4" height="158.7" fill="#FEE4EE"/>
<path d="M1946.4 733.95L1946.4 981.7" stroke="#000" stroke-width="1.3"/>
<path d="M1936.9 981.7L2152 981.7" stroke="#000" stroke-width="1.3"/>
<path d="M1936.9 734.5L1946.4 734.5" stroke="#000" stroke-width="1.3"/>
<text text-anchor="end" x="1926.4" y="742">0.008</text>
<path d="M1936.9 796.4L1946.4 796.4" stroke="#000" stroke-width="1.3"/>
<text text-anchor="end" x="1926.4" y="803.9">0.006</text>
<path d="M1936.9 858.2L1946.4 858.2" stroke="#000" stroke-width="1.3"/>
<text text-anchor="end" x="1926.4" y="865.7">0.004</text>
<path d="M1936.9 920L1946.4 920" stroke="#000" stroke-width="1.3"/>
<text text-anchor="end" x="1926.4" y="927.5">0.002</text>
<text text-anchor="end" x="1926.4" y="989.2">0</text>
<path d="M1977.5 981.7L1977.5 991.2" stroke="#000" stroke-width="1.3"/>
<path d="M2024.8 981.7L2024.8 991.2" stroke="#000" stroke-width="1.3"/>
<path d="M2072.2 981.7L2072.2 991.2" stroke="#000" stroke-width="1.3"/>
<path d="M2119.7 981.7L2119.7 991.2" stroke="#000" stroke-width="1.3"/>
<circle cx="1977.5" cy="816.88" r="5.4" fill="#C47050" stroke="#000" stroke-width="1.1"/>
<circle cx="1975.62" cy="825" r="5.4" fill="#C47050" stroke="#000" stroke-width="1.1"/>
<circle cx="1981.88" cy="826.88" r="5.4" fill="#C47050" stroke="#000" stroke-width="1.1"/>
<circle cx="1971.25" cy="827.5" r="5.4" fill="#C47050" stroke="#000" stroke-width="1.1"/>
<circle cx="1967.5" cy="833.12" r="5.4" fill="#C47050" stroke="#000" stroke-width="1.1"/>
<circle cx="1976.25" cy="831.25" r="5.4" fill="#C47050" stroke="#000" stroke-width="1.1"/>
<circle cx="1983.12" cy="832.5" r="5.4" fill="#C47050" stroke="#000" stroke-width="1.1"/>
<circle cx="1988.12" cy="834.38" r="5.4" fill="#C47050" stroke="#000" stroke-width="1.1"/>
<circle cx="1985" cy="838.12" r="5.4" fill="#C47050" stroke="#000" stroke-width="1.1"/>
<circle cx="1972.5" cy="841.25" r="5.4" fill="#C47050" stroke="#000" stroke-width="1.1"/>
<circle cx="1978.75" cy="843.75" r="5.4" fill="#C47050" stroke="#000" stroke-width="1.1"/>
<circle cx="1970" cy="837.5" r="5.4" fill="#C47050" stroke="#000" stroke-width="1.1"/>
<circle cx="1980" cy="848.75" r="5.4" fill="#C47050" stroke="#000" stroke-width="1.1"/>
<circle cx="1976.25" cy="853.12" r="5.4" fill="#C47050" stroke="#000" stroke-width="1.1"/>
<circle cx="2024.8" cy="821.88" r="5.4" fill="#A020A8" stroke="#000" stroke-width="1.1"/>
<circle cx="2014.8" cy="829.38" r="5.4" fill="#A020A8" stroke="#000" stroke-width="1.1"/>
<circle cx="2019.8" cy="834.38" r="5.4" fill="#A020A8" stroke="#000" stroke-width="1.1"/>
<circle cx="2029.8" cy="832.5" r="5.4" fill="#A020A8" stroke="#000" stroke-width="1.1"/>
<circle cx="2034.8" cy="833.12" r="5.4" fill="#A020A8" stroke="#000" stroke-width="1.1"/>
<circle cx="2021.05" cy="837.5" r="5.4" fill="#A020A8" stroke="#000" stroke-width="1.1"/>
<circle cx="2028.55" cy="838.75" r="5.4" fill="#A020A8" stroke="#000" stroke-width="1.1"/>
<circle cx="2024.8" cy="841.25" r="5.4" fill="#A020A8" stroke="#000" stroke-width="1.1"/>
<circle cx="2014.8" cy="846.25" r="5.4" fill="#A020A8" stroke="#000" stroke-width="1.1"/>
<circle cx="2034.8" cy="846.25" r="5.4" fill="#A020A8" stroke="#000" stroke-width="1.1"/>
<circle cx="2024.8" cy="836.25" r="5.4" fill="#A020A8" stroke="#000" stroke-width="1.1"/>
<circle cx="2065.47" cy="827.56" r="5.4" fill="#E4D4C8" stroke="#000" stroke-width="1.1"/>
<circle cx="2079.82" cy="828.72" r="5.4" fill="#E4D4C8" stroke="#000" stroke-width="1.1"/>
<circle cx="2074.43" cy="829.04" r="5.4" fill="#E4D4C8" stroke="#000" stroke-width="1.1"/>
<circle cx="2077.85" cy="829.33" r="5.4" fill="#E4D4C8" stroke="#000" stroke-width="1.1"/>
<circle cx="2077.25" cy="829.83" r="5.4" fill="#E4D4C8" stroke="#000" stroke-width="1.1"/>
<circle cx="2069.56" cy="829.98" r="5.4" fill="#E4D4C8" stroke="#000" stroke-width="1.1"/>
<circle cx="2066.68" cy="831.17" r="5.4" fill="#E4D4C8" stroke="#000" stroke-width="1.1"/>
<circle cx="2062.95" cy="831.2" r="5.4" fill="#E4D4C8" stroke="#000" stroke-width="1.1"/>
<circle cx="2071.61" cy="831.92" r="5.4" fill="#E4D4C8" stroke="#000" stroke-width="1.1"/>
<circle cx="2079.68" cy="833.17" r="5.4" fill="#E4D4C8" stroke="#000" stroke-width="1.1"/>
<circle cx="2063.25" cy="837.17" r="5.4" fill="#E4D4C8" stroke="#000" stroke-width="1.1"/>
<circle cx="2073.03" cy="839.77" r="5.4" fill="#E4D4C8" stroke="#000" stroke-width="1.1"/>
<circle cx="2068.43" cy="840.47" r="5.4" fill="#E4D4C8" stroke="#000" stroke-width="1.1"/>
<circle cx="2080.62" cy="841.58" r="5.4" fill="#E4D4C8" stroke="#000" stroke-width="1.1"/>
<circle cx="2072.95" cy="842.27" r="5.4" fill="#E4D4C8" stroke="#000" stroke-width="1.1"/>
<circle cx="2062.76" cy="842.27" r="5.4" fill="#E4D4C8" stroke="#000" stroke-width="1.1"/>
<circle cx="2074.54" cy="843.8" r="5.4" fill="#E4D4C8" stroke="#000" stroke-width="1.1"/>
<circle cx="2062.73" cy="846.91" r="5.4" fill="#E4D4C8" stroke="#000" stroke-width="1.1"/>
<circle cx="2081.37" cy="846.94" r="5.4" fill="#E4D4C8" stroke="#000" stroke-width="1.1"/>
<circle cx="2068.01" cy="847.99" r="5.4" fill="#E4D4C8" stroke="#000" stroke-width="1.1"/>
<circle cx="2076.76" cy="848.14" r="5.4" fill="#E4D4C8" stroke="#000" stroke-width="1.1"/>
<circle cx="2066.59" cy="848.58" r="5.4" fill="#E4D4C8" stroke="#000" stroke-width="1.1"/>
<circle cx="2077.81" cy="848.62" r="5.4" fill="#E4D4C8" stroke="#000" stroke-width="1.1"/>
<circle cx="2068.2" cy="849.08" r="5.4" fill="#E4D4C8" stroke="#000" stroke-width="1.1"/>
<circle cx="2075.82" cy="849.2" r="5.4" fill="#E4D4C8" stroke="#000" stroke-width="1.1"/>
<circle cx="2119.7" cy="796.51" r="5.4" fill="#FEBCD4" stroke="#000" stroke-width="1.1"/>
<circle cx="2117.81" cy="805.25" r="5.4" fill="#FEBCD4" stroke="#000" stroke-width="1.1"/>
<circle cx="2121.35" cy="811.16" r="5.4" fill="#FEBCD4" stroke="#000" stroke-width="1.1"/>
<circle cx="2111.91" cy="817.06" r="5.4" fill="#FEBCD4" stroke="#000" stroke-width="1.1"/>
<circle cx="2128.44" cy="815.88" r="5.4" fill="#FEBCD4" stroke="#000" stroke-width="1.1"/>
<circle cx="2108.36" cy="822.97" r="5.4" fill="#FEBCD4" stroke="#000" stroke-width="1.1"/>
<circle cx="2118.99" cy="819.42" r="5.4" fill="#FEBCD4" stroke="#000" stroke-width="1.1"/>
<circle cx="2126.08" cy="825.33" r="5.4" fill="#FEBCD4" stroke="#000" stroke-width="1.1"/>
<circle cx="2131.98" cy="817.06" r="5.4" fill="#FEBCD4" stroke="#000" stroke-width="1.1"/>
<circle cx="2114.27" cy="828.87" r="5.4" fill="#FEBCD4" stroke="#000" stroke-width="1.1"/>
<circle cx="2123.72" cy="830.05" r="5.4" fill="#FEBCD4" stroke="#000" stroke-width="1.1"/>
<circle cx="2111.91" cy="835.96" r="5.4" fill="#FEBCD4" stroke="#000" stroke-width="1.1"/>
<circle cx="2121.35" cy="833.59" r="5.4" fill="#FEBCD4" stroke="#000" stroke-width="1.1"/>
<path d="M1977.5 832L1977.5 836.5" stroke="#000" stroke-width="1.1"/>
<path d="M1970 832L1985 832" stroke="#000" stroke-width="1.1"/>
<path d="M1970 836.5L1985 836.5" stroke="#000" stroke-width="1.1"/>
<path d="M2024.8 833.5L2024.8 838" stroke="#000" stroke-width="1.1"/>
<path d="M2017.3 833.5L2032.3 833.5" stroke="#000" stroke-width="1.1"/>
<path d="M2017.3 838L2032.3 838" stroke="#000" stroke-width="1.1"/>
<path d="M2072.2 832.5L2072.2 835" stroke="#000" stroke-width="1.1"/>
<path d="M2064.7 832.5L2079.7 832.5" stroke="#000" stroke-width="1.1"/>
<path d="M2064.7 835L2079.7 835" stroke="#000" stroke-width="1.1"/>
<path d="M2119.7 819L2119.7 827" stroke="#000" stroke-width="1.1"/>
<path d="M2112.2 819L2127.2 819" stroke="#000" stroke-width="1.1"/>
<path d="M2112.2 827L2127.2 827" stroke="#000" stroke-width="1.1"/>
<text text-anchor="end" transform="translate(1990.5 1011.5) rotate(-45)">Vehicle U (14)</text>
<text text-anchor="end" transform="translate(2037.8 1011.5) rotate(-45)">FoxO1 U (11)</text>
<text text-anchor="end" transform="translate(2085.2 1011.5) rotate(-45)">Vehicle I (25)</text>
<text text-anchor="end" transform="translate(2132.7 1011.5) rotate(-45)">FoxO1 I (13)</text>
<text text-anchor="middle" transform="translate(1846 858.1) rotate(-90)">Heart mass/body mass</text>
<path d="M1977.5 803.6V674.6H2119.7V708.4" stroke="#000" stroke-width="1.45" fill="none"/>
<text text-anchor="middle" x="2048.6" y="664.5">0.0004</text>
<path d="M2024.8 808.3V721.9H2119.7V736" stroke="#000" stroke-width="1.45" fill="none"/>
<text text-anchor="middle" x="2071.4" y="716">0.0001</text>
<path d="M2072.2 811.2V769.1H2119.7V783.3" stroke="#000" stroke-width="1.45" fill="none"/>
<text text-anchor="middle" x="2095.7" y="761.4">0.0004</text>
<text x="10.7" y="1106.4" font-size="32" font-weight="bold" stroke="#000" stroke-width="1.1">i</text>
<rect x="191.95" y="1281.25" width="44.6" height="156.75" fill="#E8DCD8"/>
<rect x="259.1" y="1266.25" width="44.6" height="171.75" fill="#FEE4EC"/>
<path d="M169.5 1203.2L169.5 1438" stroke="#000" stroke-width="1.3"/>
<path d="M160 1438L325.5 1438" stroke="#000" stroke-width="1.3"/>
<path d="M160 1203.75L169.5 1203.75" stroke="#000" stroke-width="1.3"/>
<text text-anchor="end" x="149.5" y="1211.25">1.5</text>
<path d="M160 1282L169.5 1282" stroke="#000" stroke-width="1.3"/>
<text text-anchor="end" x="149.5" y="1289.5">1.0</text>
<path d="M160 1360L169.5 1360" stroke="#000" stroke-width="1.3"/>
<text text-anchor="end" x="149.5" y="1367.5">0.5</text>
<text text-anchor="end" x="149.5" y="1445.5">0</text>
<path d="M214.25 1438L214.25 1447.5" stroke="#000" stroke-width="1.3"/>
<path d="M281.4 1438L281.4 1447.5" stroke="#000" stroke-width="1.3"/>
<circle cx="197.5" cy="1275.75" r="5.4" fill="#CCACA4" stroke="#000" stroke-width="1.1"/>
<circle cx="205.5" cy="1273.75" r="5.4" fill="#CCACA4" stroke="#000" stroke-width="1.1"/>
<circle cx="213" cy="1272.5" r="5.4" fill="#CCACA4" stroke="#000" stroke-width="1.1"/>
<circle cx="220.5" cy="1273" r="5.4" fill="#CCACA4" stroke="#000" stroke-width="1.1"/>
<circle cx="226.75" cy="1275" r="5.4" fill="#CCACA4" stroke="#000" stroke-width="1.1"/>
<circle cx="231.75" cy="1277" r="5.4" fill="#CCACA4" stroke="#000" stroke-width="1.1"/>
<circle cx="199.25" cy="1282.5" r="5.4" fill="#CCACA4" stroke="#000" stroke-width="1.1"/>
<circle cx="206.75" cy="1281.25" r="5.4" fill="#CCACA4" stroke="#000" stroke-width="1.1"/>
<circle cx="214.25" cy="1280" r="5.4" fill="#CCACA4" stroke="#000" stroke-width="1.1"/>
<circle cx="221.75" cy="1280.75" r="5.4" fill="#CCACA4" stroke="#000" stroke-width="1.1"/>
<circle cx="228" cy="1282.5" r="5.4" fill="#CCACA4" stroke="#000" stroke-width="1.1"/>
<circle cx="200.5" cy="1287.5" r="5.4" fill="#CCACA4" stroke="#000" stroke-width="1.1"/>
<circle cx="208" cy="1287" r="5.4" fill="#CCACA4" stroke="#000" stroke-width="1.1"/>
<circle cx="215.5" cy="1286.25" r="5.4" fill="#CCACA4" stroke="#000" stroke-width="1.1"/>
<circle cx="223" cy="1287" r="5.4" fill="#CCACA4" stroke="#000" stroke-width="1.1"/>
<circle cx="229.25" cy="1288" r="5.4" fill="#CCACA4" stroke="#000" stroke-width="1.1"/>
<circle cx="201.75" cy="1292.5" r="5.4" fill="#CCACA4" stroke="#000" stroke-width="1.1"/>
<circle cx="210.5" cy="1293.75" r="5.4" fill="#CCACA4" stroke="#000" stroke-width="1.1"/>
<circle cx="218" cy="1292.5" r="5.4" fill="#CCACA4" stroke="#000" stroke-width="1.1"/>
<circle cx="224.25" cy="1295" r="5.4" fill="#CCACA4" stroke="#000" stroke-width="1.1"/>
<circle cx="213.5" cy="1297" r="5.4" fill="#CCACA4" stroke="#000" stroke-width="1.1"/>
<circle cx="211.75" cy="1273.75" r="5.4" fill="#CCACA4" stroke="#000" stroke-width="1.1"/>
<circle cx="217.5" cy="1278.75" r="5.4" fill="#CCACA4" stroke="#000" stroke-width="1.1"/>
<circle cx="204.25" cy="1284.5" r="5.4" fill="#CCACA4" stroke="#000" stroke-width="1.1"/>
<circle cx="225.5" cy="1285" r="5.4" fill="#CCACA4" stroke="#000" stroke-width="1.1"/>
<circle cx="287.4" cy="1241.75" r="5.4" fill="#FEBCD4" stroke="#000" stroke-width="1.1"/>
<circle cx="270.65" cy="1251.75" r="5.4" fill="#FEBCD4" stroke="#000" stroke-width="1.1"/>
<circle cx="286.9" cy="1258.25" r="5.4" fill="#FEBCD4" stroke="#000" stroke-width="1.1"/>
<circle cx="264.4" cy="1261.75" r="5.4" fill="#FEBCD4" stroke="#000" stroke-width="1.1"/>
<circle cx="270.65" cy="1266.25" r="5.4" fill="#FEBCD4" stroke="#000" stroke-width="1.1"/>
<circle cx="280.65" cy="1265" r="5.4" fill="#FEBCD4" stroke="#000" stroke-width="1.1"/>
<circle cx="291.9" cy="1264.5" r="5.4" fill="#FEBCD4" stroke="#000" stroke-width="1.1"/>
<circle cx="299.4" cy="1269.5" r="5.4" fill="#FEBCD4" stroke="#000" stroke-width="1.1"/>
<circle cx="278.15" cy="1272.5" r="5.4" fill="#FEBCD4" stroke="#000" stroke-width="1.1"/>
<circle cx="286.9" cy="1273.75" r="5.4" fill="#FEBCD4" stroke="#000" stroke-width="1.1"/>
<circle cx="270.65" cy="1281.25" r="5.4" fill="#FEBCD4" stroke="#000" stroke-width="1.1"/>
<circle cx="281.9" cy="1277.5" r="5.4" fill="#FEBCD4" stroke="#000" stroke-width="1.1"/>
<circle cx="291.9" cy="1283.75" r="5.4" fill="#FEBCD4" stroke="#000" stroke-width="1.1"/>
<path d="M214.25 1280L214.25 1283" stroke="#000" stroke-width="1.1"/>
<path d="M203 1280L225.5 1280" stroke="#000" stroke-width="1.1"/>
<path d="M203 1283L225.5 1283" stroke="#000" stroke-width="1.1"/>
<path d="M281.4 1262.5L281.4 1269.25" stroke="#000" stroke-width="1.1"/>
<path d="M270.15 1262.5L292.65 1262.5" stroke="#000" stroke-width="1.1"/>
<path d="M270.15 1269.25L292.65 1269.25" stroke="#000" stroke-width="1.1"/>
<text text-anchor="end" transform="translate(227.25 1467.8) rotate(-45)">Vehicle I (25)</text>
<text text-anchor="end" transform="translate(294.4 1467.8) rotate(-45)">FoxO1 I (13)</text>
<text text-anchor="middle" transform="translate(96.25 1320.88) rotate(-90)">Infected/uninfected</text>
<path d="M213.75 1258V1215H280.75V1228.25" stroke="#000" stroke-width="1.45" fill="none"/>
<text text-anchor="middle" x="243.75" y="1207.5">&lt;0.0001</text>
<text x="375" y="1106.4" font-size="32" font-weight="bold" stroke="#000" stroke-width="1.1">j</text>
<rect x="478.1" y="1413" width="31.3" height="25.25" fill="#E4B8A8"/>
<rect x="525.35" y="1418.75" width="31.3" height="19.5" fill="#CC90D0"/>
<rect x="572.6" y="1418" width="31.3" height="20.25" fill="#F0E8E4"/>
<rect x="619.85" y="1311" width="31.3" height="127.25" fill="#FEE4EE"/>
<path d="M462.5 1203.2L462.5 1438.25" stroke="#000" stroke-width="1.3"/>
<path d="M453 1438.25L667.5 1438.25" stroke="#000" stroke-width="1.3"/>
<path d="M453 1203.75L462.5 1203.75" stroke="#000" stroke-width="1.3"/>
<text text-anchor="end" x="442.5" y="1211.25">15</text>
<path d="M453 1282L462.5 1282" stroke="#000" stroke-width="1.3"/>
<text text-anchor="end" x="442.5" y="1289.5">10</text>
<path d="M453 1360L462.5 1360" stroke="#000" stroke-width="1.3"/>
<text text-anchor="end" x="442.5" y="1367.5">5</text>
<text text-anchor="end" x="442.5" y="1445.75">0</text>
<path d="M493.75 1438.25L493.75 1447.75" stroke="#000" stroke-width="1.3"/>
<path d="M541 1438.25L541 1447.75" stroke="#000" stroke-width="1.3"/>
<path d="M588.25 1438.25L588.25 1447.75" stroke="#000" stroke-width="1.3"/>
<path d="M635.5 1438.25L635.5 1447.75" stroke="#000" stroke-width="1.3"/>
<circle cx="493.75" cy="1369.25" r="5.4" fill="#C47050" stroke="#000" stroke-width="1.1"/>
<circle cx="493.25" cy="1387.5" r="5.4" fill="#C47050" stroke="#000" stroke-width="1.1"/>
<circle cx="487.5" cy="1397.5" r="5.4" fill="#C47050" stroke="#000" stroke-width="1.1"/>
<circle cx="498.75" cy="1399.5" r="5.4" fill="#C47050" stroke="#000" stroke-width="1.1"/>
<circle cx="493" cy="1408" r="5.4" fill="#C47050" stroke="#000" stroke-width="1.1"/>
<circle cx="483.75" cy="1423.75" r="5.4" fill="#C47050" stroke="#000" stroke-width="1.1"/>
<circle cx="488.75" cy="1426.25" r="5.4" fill="#C47050" stroke="#000" stroke-width="1.1"/>
<circle cx="503.75" cy="1425.5" r="5.4" fill="#C47050" stroke="#000" stroke-width="1.1"/>
<circle cx="493" cy="1432.5" r="5.4" fill="#C47050" stroke="#000" stroke-width="1.1"/>
<circle cx="487.5" cy="1438.75" r="5.4" fill="#C47050" stroke="#000" stroke-width="1.1"/>
<circle cx="498.75" cy="1436.25" r="5.4" fill="#C47050" stroke="#000" stroke-width="1.1"/>
<circle cx="543" cy="1386.25" r="5.4" fill="#A020A8" stroke="#000" stroke-width="1.1"/>
<circle cx="538.75" cy="1390" r="5.4" fill="#A020A8" stroke="#000" stroke-width="1.1"/>
<circle cx="540.75" cy="1402" r="5.4" fill="#A020A8" stroke="#000" stroke-width="1.1"/>
<circle cx="540" cy="1403.75" r="5.4" fill="#A020A8" stroke="#000" stroke-width="1.1"/>
<circle cx="540.75" cy="1422.5" r="5.4" fill="#A020A8" stroke="#000" stroke-width="1.1"/>
<circle cx="535" cy="1428.75" r="5.4" fill="#A020A8" stroke="#000" stroke-width="1.1"/>
<circle cx="543.75" cy="1430" r="5.4" fill="#A020A8" stroke="#000" stroke-width="1.1"/>
<circle cx="551.25" cy="1432" r="5.4" fill="#A020A8" stroke="#000" stroke-width="1.1"/>
<circle cx="531.25" cy="1437.5" r="5.4" fill="#A020A8" stroke="#000" stroke-width="1.1"/>
<circle cx="540" cy="1437.5" r="5.4" fill="#A020A8" stroke="#000" stroke-width="1.1"/>
<circle cx="547.5" cy="1438.25" r="5.4" fill="#A020A8" stroke="#000" stroke-width="1.1"/>
<circle cx="586.75" cy="1368.75" r="5.4" fill="#E4D4C8" stroke="#000" stroke-width="1.1"/>
<circle cx="589.5" cy="1375" r="5.4" fill="#E4D4C8" stroke="#000" stroke-width="1.1"/>
<circle cx="588" cy="1394.5" r="5.4" fill="#E4D4C8" stroke="#000" stroke-width="1.1"/>
<circle cx="589.5" cy="1405" r="5.4" fill="#E4D4C8" stroke="#000" stroke-width="1.1"/>
<circle cx="585.75" cy="1410" r="5.4" fill="#E4D4C8" stroke="#000" stroke-width="1.1"/>
<circle cx="583.75" cy="1416.25" r="5.4" fill="#E4D4C8" stroke="#000" stroke-width="1.1"/>
<circle cx="592.5" cy="1416.25" r="5.4" fill="#E4D4C8" stroke="#000" stroke-width="1.1"/>
<circle cx="591.25" cy="1421.25" r="5.4" fill="#E4D4C8" stroke="#000" stroke-width="1.1"/>
<circle cx="581.25" cy="1421.25" r="5.4" fill="#E4D4C8" stroke="#000" stroke-width="1.1"/>
<circle cx="580" cy="1426.25" r="5.4" fill="#E4D4C8" stroke="#000" stroke-width="1.1"/>
<circle cx="587.5" cy="1427.5" r="5.4" fill="#E4D4C8" stroke="#000" stroke-width="1.1"/>
<circle cx="585" cy="1425" r="5.4" fill="#E4D4C8" stroke="#000" stroke-width="1.1"/>
<circle cx="582.5" cy="1432" r="5.4" fill="#E4D4C8" stroke="#000" stroke-width="1.1"/>
<circle cx="595" cy="1431.25" r="5.4" fill="#E4D4C8" stroke="#000" stroke-width="1.1"/>
<circle cx="593.75" cy="1436.25" r="5.4" fill="#E4D4C8" stroke="#000" stroke-width="1.1"/>
<circle cx="599.5" cy="1436.25" r="5.4" fill="#E4D4C8" stroke="#000" stroke-width="1.1"/>
<circle cx="586.25" cy="1436.25" r="5.4" fill="#E4D4C8" stroke="#000" stroke-width="1.1"/>
<circle cx="590" cy="1438.75" r="5.4" fill="#E4D4C8" stroke="#000" stroke-width="1.1"/>
<circle cx="635.5" cy="1232.5" r="5.4" fill="#FEBCD4" stroke="#000" stroke-width="1.1"/>
<circle cx="645.5" cy="1247" r="5.4" fill="#FEBCD4" stroke="#000" stroke-width="1.1"/>
<circle cx="625.75" cy="1252.5" r="5.4" fill="#FEBCD4" stroke="#000" stroke-width="1.1"/>
<circle cx="635.5" cy="1266.5" r="5.4" fill="#FEBCD4" stroke="#000" stroke-width="1.1"/>
<circle cx="635.5" cy="1284.5" r="5.4" fill="#FEBCD4" stroke="#000" stroke-width="1.1"/>
<circle cx="645.5" cy="1358" r="5.4" fill="#FEBCD4" stroke="#000" stroke-width="1.1"/>
<circle cx="625.75" cy="1363" r="5.4" fill="#FEBCD4" stroke="#000" stroke-width="1.1"/>
<circle cx="645.5" cy="1375" r="5.4" fill="#FEBCD4" stroke="#000" stroke-width="1.1"/>
<circle cx="635.5" cy="1418.75" r="5.4" fill="#FEBCD4" stroke="#000" stroke-width="1.1"/>
<path d="M493.75 1406.25L493.75 1418.75" stroke="#000" stroke-width="1.1"/>
<path d="M485.75 1406.25L501.75 1406.25" stroke="#000" stroke-width="1.1"/>
<path d="M485.75 1418.75L501.75 1418.75" stroke="#000" stroke-width="1.1"/>
<path d="M541 1412.5L541 1425" stroke="#000" stroke-width="1.1"/>
<path d="M533 1412.5L549 1412.5" stroke="#000" stroke-width="1.1"/>
<path d="M533 1425L549 1425" stroke="#000" stroke-width="1.1"/>
<path d="M588.25 1412.5L588.25 1422.5" stroke="#000" stroke-width="1.1"/>
<path d="M580.25 1412.5L596.25 1412.5" stroke="#000" stroke-width="1.1"/>
<path d="M580.25 1422.5L596.25 1422.5" stroke="#000" stroke-width="1.1"/>
<path d="M635.5 1288.25L635.5 1333.5" stroke="#000" stroke-width="1.1"/>
<path d="M627.5 1288.25L643.5 1288.25" stroke="#000" stroke-width="1.1"/>
<path d="M627.5 1333.5L643.5 1333.5" stroke="#000" stroke-width="1.1"/>
<text text-anchor="end" transform="translate(506.75 1468.05) rotate(-45)">Vehicle U (11)</text>
<text text-anchor="end" transform="translate(554 1468.05) rotate(-45)">FoxO1 U (11)</text>
<text text-anchor="end" transform="translate(601.25 1468.05) rotate(-45)">Vehicle I (18)</text>
<text text-anchor="end" transform="translate(648.5 1468.05) rotate(-45)">FoxO1 I (9)</text>
<text text-anchor="middle" transform="translate(391.25 1321) rotate(-90)">Troponin I (ng ml<tspan font-size="12.5" dy="-8">−1</tspan><tspan dy="8">)</tspan></text>
<path d="M493.75 1355V1111.2H635.5V1144" stroke="#000" stroke-width="1.45" fill="none"/>
<text text-anchor="middle" x="564.7" y="1100.7">0.0203</text>
<path d="M541 1372.5V1158.1H635.5V1171.6" stroke="#000" stroke-width="1.45" fill="none"/>
<text text-anchor="middle" x="587.5" y="1149.1">0.0007</text>
<path d="M588.25 1355V1205.1H635.5V1218.75" stroke="#000" stroke-width="1.45" fill="none"/>
<text text-anchor="middle" x="610.4" y="1197">0.0037</text>
<text x="702.5" y="1106.4" font-size="32" font-weight="bold" stroke="#000" stroke-width="1.1">k</text>
<rect x="847.35" y="1437.5" width="31.3" height="0.75" fill="#E4B8A8"/>
<rect x="894.6" y="1431" width="31.3" height="7.25" fill="#CC90D0"/>
<rect x="942.1" y="1426.75" width="31.3" height="11.5" fill="#F0E8E4"/>
<rect x="989.6" y="1355.75" width="31.3" height="82.5" fill="#FEE4EE"/>
<path d="M831.75 1203.2L831.75 1438.25" stroke="#000" stroke-width="1.3"/>
<path d="M822.25 1438.25L1037 1438.25" stroke="#000" stroke-width="1.3"/>
<path d="M822.25 1203.75L831.75 1203.75" stroke="#000" stroke-width="1.3"/>
<text text-anchor="end" x="811.75" y="1211.25">1,500</text>
<path d="M822.25 1282L831.75 1282" stroke="#000" stroke-width="1.3"/>
<text text-anchor="end" x="811.75" y="1289.5">1,000</text>
<path d="M822.25 1360L831.75 1360" stroke="#000" stroke-width="1.3"/>
<text text-anchor="end" x="811.75" y="1367.5">500</text>
<text text-anchor="end" x="811.75" y="1445.75">0</text>
<path d="M863 1438.25L863 1447.75" stroke="#000" stroke-width="1.3"/>
<path d="M910.25 1438.25L910.25 1447.75" stroke="#000" stroke-width="1.3"/>
<path d="M957.75 1438.25L957.75 1447.75" stroke="#000" stroke-width="1.3"/>
<path d="M1005.25 1438.25L1005.25 1447.75" stroke="#000" stroke-width="1.3"/>
<circle cx="851.25" cy="1438" r="5.4" fill="#C47050" stroke="#000" stroke-width="1.1"/>
<circle cx="856.25" cy="1437.5" r="5.4" fill="#C47050" stroke="#000" stroke-width="1.1"/>
<circle cx="861.25" cy="1438.25" r="5.4" fill="#C47050" stroke="#000" stroke-width="1.1"/>
<circle cx="866.25" cy="1438" r="5.4" fill="#C47050" stroke="#000" stroke-width="1.1"/>
<circle cx="871.25" cy="1438.25" r="5.4" fill="#C47050" stroke="#000" stroke-width="1.1"/>
<circle cx="875" cy="1438.25" r="5.4" fill="#C47050" stroke="#000" stroke-width="1.1"/>
<circle cx="853.75" cy="1437" r="5.4" fill="#C47050" stroke="#000" stroke-width="1.1"/>
<circle cx="863.75" cy="1437.5" r="5.4" fill="#C47050" stroke="#000" stroke-width="1.1"/>
<circle cx="868.75" cy="1437.5" r="5.4" fill="#C47050" stroke="#000" stroke-width="1.1"/>
<circle cx="858.75" cy="1438" r="5.4" fill="#C47050" stroke="#000" stroke-width="1.1"/>
<circle cx="910.75" cy="1419.5" r="5.4" fill="#A020A8" stroke="#000" stroke-width="1.1"/>
<circle cx="903.75" cy="1423.75" r="5.4" fill="#A020A8" stroke="#000" stroke-width="1.1"/>
<circle cx="917.5" cy="1423.75" r="5.4" fill="#A020A8" stroke="#000" stroke-width="1.1"/>
<circle cx="898.75" cy="1431.25" r="5.4" fill="#A020A8" stroke="#000" stroke-width="1.1"/>
<circle cx="907.5" cy="1430" r="5.4" fill="#A020A8" stroke="#000" stroke-width="1.1"/>
<circle cx="915" cy="1431.25" r="5.4" fill="#A020A8" stroke="#000" stroke-width="1.1"/>
<circle cx="922.5" cy="1430.5" r="5.4" fill="#A020A8" stroke="#000" stroke-width="1.1"/>
<circle cx="903.75" cy="1436.25" r="5.4" fill="#A020A8" stroke="#000" stroke-width="1.1"/>
<circle cx="911.25" cy="1436.25" r="5.4" fill="#A020A8" stroke="#000" stroke-width="1.1"/>
<circle cx="918.75" cy="1436.25" r="5.4" fill="#A020A8" stroke="#000" stroke-width="1.1"/>
<circle cx="957.5" cy="1388.75" r="5.4" fill="#E4D4C8" stroke="#000" stroke-width="1.1"/>
<circle cx="958" cy="1411.25" r="5.4" fill="#E4D4C8" stroke="#000" stroke-width="1.1"/>
<circle cx="955.5" cy="1415" r="5.4" fill="#E4D4C8" stroke="#000" stroke-width="1.1"/>
<circle cx="960" cy="1418" r="5.4" fill="#E4D4C8" stroke="#000" stroke-width="1.1"/>
<circle cx="947.5" cy="1426.25" r="5.4" fill="#E4D4C8" stroke="#000" stroke-width="1.1"/>
<circle cx="953.75" cy="1425" r="5.4" fill="#E4D4C8" stroke="#000" stroke-width="1.1"/>
<circle cx="962.5" cy="1426.25" r="5.4" fill="#E4D4C8" stroke="#000" stroke-width="1.1"/>
<circle cx="956.25" cy="1431.25" r="5.4" fill="#E4D4C8" stroke="#000" stroke-width="1.1"/>
<circle cx="950" cy="1433.75" r="5.4" fill="#E4D4C8" stroke="#000" stroke-width="1.1"/>
<circle cx="958.75" cy="1434.5" r="5.4" fill="#E4D4C8" stroke="#000" stroke-width="1.1"/>
<circle cx="966.25" cy="1433.75" r="5.4" fill="#E4D4C8" stroke="#000" stroke-width="1.1"/>
<circle cx="947" cy="1437.5" r="5.4" fill="#E4D4C8" stroke="#000" stroke-width="1.1"/>
<circle cx="953" cy="1438" r="5.4" fill="#E4D4C8" stroke="#000" stroke-width="1.1"/>
<circle cx="960" cy="1438.25" r="5.4" fill="#E4D4C8" stroke="#000" stroke-width="1.1"/>
<circle cx="967" cy="1437.5" r="5.4" fill="#E4D4C8" stroke="#000" stroke-width="1.1"/>
<circle cx="1005" cy="1285.5" r="5.4" fill="#FEBCD4" stroke="#000" stroke-width="1.1"/>
<circle cx="1005" cy="1300" r="5.4" fill="#FEBCD4" stroke="#000" stroke-width="1.1"/>
<circle cx="1008.25" cy="1328.75" r="5.4" fill="#FEBCD4" stroke="#000" stroke-width="1.1"/>
<circle cx="1001.25" cy="1332.5" r="5.4" fill="#FEBCD4" stroke="#000" stroke-width="1.1"/>
<circle cx="1008.25" cy="1360" r="5.4" fill="#FEBCD4" stroke="#000" stroke-width="1.1"/>
<circle cx="1002" cy="1363" r="5.4" fill="#FEBCD4" stroke="#000" stroke-width="1.1"/>
<circle cx="1002" cy="1393.75" r="5.4" fill="#FEBCD4" stroke="#000" stroke-width="1.1"/>
<circle cx="995" cy="1400.5" r="5.4" fill="#FEBCD4" stroke="#000" stroke-width="1.1"/>
<circle cx="1008.25" cy="1398.25" r="5.4" fill="#FEBCD4" stroke="#000" stroke-width="1.1"/>
<circle cx="1015.5" cy="1397.5" r="5.4" fill="#FEBCD4" stroke="#000" stroke-width="1.1"/>
<path d="M910.25 1425L910.25 1429.5" stroke="#000" stroke-width="1.1"/>
<path d="M902.25 1425L918.25 1425" stroke="#000" stroke-width="1.1"/>
<path d="M902.25 1429.5L918.25 1429.5" stroke="#000" stroke-width="1.1"/>
<path d="M957.75 1423.25L957.75 1430.5" stroke="#000" stroke-width="1.1"/>
<path d="M949.75 1423.25L965.75 1423.25" stroke="#000" stroke-width="1.1"/>
<path d="M949.75 1430.5L965.75 1430.5" stroke="#000" stroke-width="1.1"/>
<path d="M1005.25 1342.5L1005.25 1369.5" stroke="#000" stroke-width="1.1"/>
<path d="M997.25 1342.5L1013.25 1342.5" stroke="#000" stroke-width="1.1"/>
<path d="M997.25 1369.5L1013.25 1369.5" stroke="#000" stroke-width="1.1"/>
<text text-anchor="end" transform="translate(876 1468.05) rotate(-45)">Vehicle U (10)</text>
<text text-anchor="end" transform="translate(923.25 1468.05) rotate(-45)">FoxO1 U (10)</text>
<text text-anchor="end" transform="translate(970.75 1468.05) rotate(-45)">Vehicle I (15)</text>
<text text-anchor="end" transform="translate(1018.25 1468.05) rotate(-45)">FoxO1 I (10)</text>
<text text-anchor="middle" transform="translate(730 1321) rotate(-90)">BNP (pg ml<tspan font-size="12.5" dy="-8">−1</tspan><tspan dy="8">)</tspan></text>
<path d="M862.8 1422.5V1163H1005.25V1196.6" stroke="#000" stroke-width="1.45" fill="none"/>
<text text-anchor="middle" x="939.2" y="1151.6">&lt;0.0001</text>
<path d="M910.25 1405.5V1210H1005.25V1224.3" stroke="#000" stroke-width="1.45" fill="none"/>
<text text-anchor="middle" x="957.6" y="1202.6">&lt;0.0001</text>
<path d="M957.75 1375V1258H1005.25V1271.5" stroke="#000" stroke-width="1.45" fill="none"/>
<text text-anchor="middle" x="978.2" y="1249.4">&lt;0.0001</text>
<text x="1066" y="1106.4" font-size="32" font-weight="bold" stroke="#000" stroke-width="1.1">l</text>
<rect x="1192.35" y="1425" width="31.3" height="13.25" fill="#E4B8A8"/>
<rect x="1239.6" y="1416.25" width="31.3" height="22" fill="#CC90D0"/>
<rect x="1286.85" y="1409.25" width="31.3" height="29" fill="#F0E8E4"/>
<rect x="1334.1" y="1338.25" width="31.3" height="100" fill="#FEE4EE"/>
<path d="M1177 1203.2L1177 1438.25" stroke="#000" stroke-width="1.3"/>
<path d="M1167.5 1438.25L1381.25 1438.25" stroke="#000" stroke-width="1.3"/>
<path d="M1167.5 1203.75L1177 1203.75" stroke="#000" stroke-width="1.3"/>
<text text-anchor="end" x="1157" y="1211.25">300</text>
<path d="M1167.5 1282L1177 1282" stroke="#000" stroke-width="1.3"/>
<text text-anchor="end" x="1157" y="1289.5">200</text>
<path d="M1167.5 1360L1177 1360" stroke="#000" stroke-width="1.3"/>
<text text-anchor="end" x="1157" y="1367.5">100</text>
<text text-anchor="end" x="1157" y="1445.75">0</text>
<path d="M1208 1438.25L1208 1447.75" stroke="#000" stroke-width="1.3"/>
<path d="M1255.25 1438.25L1255.25 1447.75" stroke="#000" stroke-width="1.3"/>
<path d="M1302.5 1438.25L1302.5 1447.75" stroke="#000" stroke-width="1.3"/>
<path d="M1349.75 1438.25L1349.75 1447.75" stroke="#000" stroke-width="1.3"/>
<circle cx="1208" cy="1382.5" r="5.4" fill="#C47050" stroke="#000" stroke-width="1.1"/>
<circle cx="1208" cy="1419.5" r="5.4" fill="#C47050" stroke="#000" stroke-width="1.1"/>
<circle cx="1206.25" cy="1426.25" r="5.4" fill="#C47050" stroke="#000" stroke-width="1.1"/>
<circle cx="1197.5" cy="1430.5" r="5.4" fill="#C47050" stroke="#000" stroke-width="1.1"/>
<circle cx="1203" cy="1428.75" r="5.4" fill="#C47050" stroke="#000" stroke-width="1.1"/>
<circle cx="1212.5" cy="1428.75" r="5.4" fill="#C47050" stroke="#000" stroke-width="1.1"/>
<circle cx="1218.75" cy="1430.5" r="5.4" fill="#C47050" stroke="#000" stroke-width="1.1"/>
<circle cx="1200" cy="1433.75" r="5.4" fill="#C47050" stroke="#000" stroke-width="1.1"/>
<circle cx="1208" cy="1434.5" r="5.4" fill="#C47050" stroke="#000" stroke-width="1.1"/>
<circle cx="1215" cy="1434.5" r="5.4" fill="#C47050" stroke="#000" stroke-width="1.1"/>
<circle cx="1248.75" cy="1410" r="5.4" fill="#A020A8" stroke="#000" stroke-width="1.1"/>
<circle cx="1255" cy="1408.75" r="5.4" fill="#A020A8" stroke="#000" stroke-width="1.1"/>
<circle cx="1261.75" cy="1408" r="5.4" fill="#A020A8" stroke="#000" stroke-width="1.1"/>
<circle cx="1245" cy="1419.5" r="5.4" fill="#A020A8" stroke="#000" stroke-width="1.1"/>
<circle cx="1252.5" cy="1417.5" r="5.4" fill="#A020A8" stroke="#000" stroke-width="1.1"/>
<circle cx="1260" cy="1418" r="5.4" fill="#A020A8" stroke="#000" stroke-width="1.1"/>
<circle cx="1266.25" cy="1418.75" r="5.4" fill="#A020A8" stroke="#000" stroke-width="1.1"/>
<circle cx="1250" cy="1425" r="5.4" fill="#A020A8" stroke="#000" stroke-width="1.1"/>
<circle cx="1257.5" cy="1425.5" r="5.4" fill="#A020A8" stroke="#000" stroke-width="1.1"/>
<circle cx="1261.25" cy="1423.75" r="5.4" fill="#A020A8" stroke="#000" stroke-width="1.1"/>
<circle cx="1302.5" cy="1371.25" r="5.4" fill="#E4D4C8" stroke="#000" stroke-width="1.1"/>
<circle cx="1302.5" cy="1396.25" r="5.4" fill="#E4D4C8" stroke="#000" stroke-width="1.1"/>
<circle cx="1306.25" cy="1405.5" r="5.4" fill="#E4D4C8" stroke="#000" stroke-width="1.1"/>
<circle cx="1299.5" cy="1407.5" r="5.4" fill="#E4D4C8" stroke="#000" stroke-width="1.1"/>
<circle cx="1295.5" cy="1412.5" r="5.4" fill="#E4D4C8" stroke="#000" stroke-width="1.1"/>
<circle cx="1304.25" cy="1416.25" r="5.4" fill="#E4D4C8" stroke="#000" stroke-width="1.1"/>
<circle cx="1313.75" cy="1418.75" r="5.4" fill="#E4D4C8" stroke="#000" stroke-width="1.1"/>
<circle cx="1291.25" cy="1422.5" r="5.4" fill="#E4D4C8" stroke="#000" stroke-width="1.1"/>
<circle cx="1300" cy="1425" r="5.4" fill="#E4D4C8" stroke="#000" stroke-width="1.1"/>
<circle cx="1308.75" cy="1425" r="5.4" fill="#E4D4C8" stroke="#000" stroke-width="1.1"/>
<circle cx="1349.75" cy="1228" r="5.4" fill="#FEBCD4" stroke="#000" stroke-width="1.1"/>
<circle cx="1340" cy="1300" r="5.4" fill="#FEBCD4" stroke="#000" stroke-width="1.1"/>
<circle cx="1360" cy="1299.5" r="5.4" fill="#FEBCD4" stroke="#000" stroke-width="1.1"/>
<circle cx="1350" cy="1328.25" r="5.4" fill="#FEBCD4" stroke="#000" stroke-width="1.1"/>
<circle cx="1360" cy="1347.5" r="5.4" fill="#FEBCD4" stroke="#000" stroke-width="1.1"/>
<circle cx="1340" cy="1356.25" r="5.4" fill="#FEBCD4" stroke="#000" stroke-width="1.1"/>
<circle cx="1360" cy="1364.25" r="5.4" fill="#FEBCD4" stroke="#000" stroke-width="1.1"/>
<circle cx="1340" cy="1376.25" r="5.4" fill="#FEBCD4" stroke="#000" stroke-width="1.1"/>
<circle cx="1360" cy="1389.25" r="5.4" fill="#FEBCD4" stroke="#000" stroke-width="1.1"/>
<circle cx="1340" cy="1395.5" r="5.4" fill="#FEBCD4" stroke="#000" stroke-width="1.1"/>
<path d="M1208 1419.5L1208 1429.25" stroke="#000" stroke-width="1.1"/>
<path d="M1200 1419.5L1216 1419.5" stroke="#000" stroke-width="1.1"/>
<path d="M1200 1429.25L1216 1429.25" stroke="#000" stroke-width="1.1"/>
<path d="M1255.25 1413.75L1255.25 1418.75" stroke="#000" stroke-width="1.1"/>
<path d="M1247.25 1413.75L1263.25 1413.75" stroke="#000" stroke-width="1.1"/>
<path d="M1247.25 1418.75L1263.25 1418.75" stroke="#000" stroke-width="1.1"/>
<path d="M1302.5 1404.5L1302.5 1413.75" stroke="#000" stroke-width="1.1"/>
<path d="M1294.5 1404.5L1310.5 1404.5" stroke="#000" stroke-width="1.1"/>
<path d="M1294.5 1413.75L1310.5 1413.75" stroke="#000" stroke-width="1.1"/>
<path d="M1349.75 1321.75L1349.75 1354.25" stroke="#000" stroke-width="1.1"/>
<path d="M1341.75 1321.75L1357.75 1321.75" stroke="#000" stroke-width="1.1"/>
<path d="M1341.75 1354.25L1357.75 1354.25" stroke="#000" stroke-width="1.1"/>
<text text-anchor="end" transform="translate(1221 1468.05) rotate(-45)">Vehicle U (10)</text>
<text text-anchor="end" transform="translate(1268.25 1468.05) rotate(-45)">FoxO1 U (10)</text>
<text text-anchor="end" transform="translate(1315.5 1468.05) rotate(-45)">Vehicle I (10)</text>
<text text-anchor="end" transform="translate(1362.75 1468.05) rotate(-45)">FoxO1 I (10)</text>
<text text-anchor="middle" transform="translate(1095 1321) rotate(-90)">Galectin-3 (ng ml<tspan font-size="12.5" dy="-8">−1</tspan><tspan dy="8">)</tspan></text>
<path d="M1208 1369.25V1105.7H1349.75V1139.2" stroke="#000" stroke-width="1.45" fill="none"/>
<text text-anchor="middle" x="1279.2" y="1096.7">&lt;0.0001</text>
<path d="M1255.25 1395.5V1153.1H1349.75V1167.1" stroke="#000" stroke-width="1.45" fill="none"/>
<text text-anchor="middle" x="1301.5" y="1141.9">&lt;0.0001</text>
<path d="M1302.5 1357V1200.3H1349.75V1213.5" stroke="#000" stroke-width="1.45" fill="none"/>
<text text-anchor="middle" x="1321.4" y="1193.6">&lt;0.0001</text>
<text x="1436.4" y="1193" font-size="32" font-weight="bold" stroke="#000" stroke-width="1.1">m</text>
<rect x="1577.1" y="1397" width="31.3" height="41.75" fill="#E4B8A8"/>
<rect x="1624.6" y="1416" width="31.3" height="22.75" fill="#CC90D0"/>
<rect x="1672.1" y="1411.25" width="31.3" height="27.5" fill="#F0E8E4"/>
<rect x="1719.6" y="1405.5" width="31.3" height="33.25" fill="#FEE4EE"/>
<path d="M1561.75 1203.2L1561.75 1438.75" stroke="#000" stroke-width="1.3"/>
<path d="M1552.25 1438.75L1767 1438.75" stroke="#000" stroke-width="1.3"/>
<path d="M1552.25 1203.75L1561.75 1203.75" stroke="#000" stroke-width="1.3"/>
<text text-anchor="end" x="1541.75" y="1211.25">2,000</text>
<path d="M1552.25 1262.5L1561.75 1262.5" stroke="#000" stroke-width="1.3"/>
<text text-anchor="end" x="1541.75" y="1270">1,500</text>
<path d="M1552.25 1320.75L1561.75 1320.75" stroke="#000" stroke-width="1.3"/>
<text text-anchor="end" x="1541.75" y="1328.25">1,000</text>
<path d="M1552.25 1380L1561.75 1380" stroke="#000" stroke-width="1.3"/>
<text text-anchor="end" x="1541.75" y="1387.5">500</text>
<text text-anchor="end" x="1541.75" y="1446.25">0</text>
<path d="M1592.75 1438.75L1592.75 1448.25" stroke="#000" stroke-width="1.3"/>
<path d="M1640.25 1438.75L1640.25 1448.25" stroke="#000" stroke-width="1.3"/>
<path d="M1687.75 1438.75L1687.75 1448.25" stroke="#000" stroke-width="1.3"/>
<path d="M1735.25 1438.75L1735.25 1448.25" stroke="#000" stroke-width="1.3"/>
<circle cx="1592.75" cy="1229.5" r="5.4" fill="#C47050" stroke="#000" stroke-width="1.1"/>
<circle cx="1587.5" cy="1405.5" r="5.4" fill="#C47050" stroke="#000" stroke-width="1.1"/>
<circle cx="1597.5" cy="1408.75" r="5.4" fill="#C47050" stroke="#000" stroke-width="1.1"/>
<circle cx="1603.25" cy="1412.5" r="5.4" fill="#C47050" stroke="#000" stroke-width="1.1"/>
<circle cx="1582.5" cy="1415" r="5.4" fill="#C47050" stroke="#000" stroke-width="1.1"/>
<circle cx="1592.5" cy="1416.25" r="5.4" fill="#C47050" stroke="#000" stroke-width="1.1"/>
<circle cx="1600" cy="1418.75" r="5.4" fill="#C47050" stroke="#000" stroke-width="1.1"/>
<circle cx="1590" cy="1420" r="5.4" fill="#C47050" stroke="#000" stroke-width="1.1"/>
<circle cx="1595" cy="1423.75" r="5.4" fill="#C47050" stroke="#000" stroke-width="1.1"/>
<circle cx="1585.75" cy="1428" r="5.4" fill="#C47050" stroke="#000" stroke-width="1.1"/>
<circle cx="1643.75" cy="1386.25" r="5.4" fill="#A020A8" stroke="#000" stroke-width="1.1"/>
<circle cx="1637" cy="1394.5" r="5.4" fill="#A020A8" stroke="#000" stroke-width="1.1"/>
<circle cx="1650" cy="1407" r="5.4" fill="#A020A8" stroke="#000" stroke-width="1.1"/>
<circle cx="1630.5" cy="1413.75" r="5.4" fill="#A020A8" stroke="#000" stroke-width="1.1"/>
<circle cx="1638.75" cy="1411.25" r="5.4" fill="#A020A8" stroke="#000" stroke-width="1.1"/>
<circle cx="1650" cy="1419.5" r="5.4" fill="#A020A8" stroke="#000" stroke-width="1.1"/>
<circle cx="1643" cy="1422.5" r="5.4" fill="#A020A8" stroke="#000" stroke-width="1.1"/>
<circle cx="1630.5" cy="1430.5" r="5.4" fill="#A020A8" stroke="#000" stroke-width="1.1"/>
<circle cx="1687.75" cy="1359.25" r="5.4" fill="#E4D4C8" stroke="#000" stroke-width="1.1"/>
<circle cx="1687.75" cy="1385" r="5.4" fill="#E4D4C8" stroke="#000" stroke-width="1.1"/>
<circle cx="1692.5" cy="1405.5" r="5.4" fill="#E4D4C8" stroke="#000" stroke-width="1.1"/>
<circle cx="1688.25" cy="1411.25" r="5.4" fill="#E4D4C8" stroke="#000" stroke-width="1.1"/>
<circle cx="1697.5" cy="1418" r="5.4" fill="#E4D4C8" stroke="#000" stroke-width="1.1"/>
<circle cx="1682.5" cy="1423.75" r="5.4" fill="#E4D4C8" stroke="#000" stroke-width="1.1"/>
<circle cx="1677.5" cy="1426.25" r="5.4" fill="#E4D4C8" stroke="#000" stroke-width="1.1"/>
<circle cx="1686.25" cy="1425" r="5.4" fill="#E4D4C8" stroke="#000" stroke-width="1.1"/>
<circle cx="1693.75" cy="1424.5" r="5.4" fill="#E4D4C8" stroke="#000" stroke-width="1.1"/>
<circle cx="1698" cy="1431.25" r="5.4" fill="#E4D4C8" stroke="#000" stroke-width="1.1"/>
<circle cx="1735.25" cy="1289.5" r="5.4" fill="#FEBCD4" stroke="#000" stroke-width="1.1"/>
<circle cx="1735.25" cy="1358" r="5.4" fill="#FEBCD4" stroke="#000" stroke-width="1.1"/>
<circle cx="1733.75" cy="1385.5" r="5.4" fill="#FEBCD4" stroke="#000" stroke-width="1.1"/>
<circle cx="1737.5" cy="1385" r="5.4" fill="#FEBCD4" stroke="#000" stroke-width="1.1"/>
<circle cx="1741.25" cy="1397.5" r="5.4" fill="#FEBCD4" stroke="#000" stroke-width="1.1"/>
<circle cx="1730" cy="1403.75" r="5.4" fill="#FEBCD4" stroke="#000" stroke-width="1.1"/>
<circle cx="1737.5" cy="1403.75" r="5.4" fill="#FEBCD4" stroke="#000" stroke-width="1.1"/>
<circle cx="1732.5" cy="1405" r="5.4" fill="#FEBCD4" stroke="#000" stroke-width="1.1"/>
<circle cx="1731.25" cy="1410" r="5.4" fill="#FEBCD4" stroke="#000" stroke-width="1.1"/>
<circle cx="1737.5" cy="1412.5" r="5.4" fill="#FEBCD4" stroke="#000" stroke-width="1.1"/>
<circle cx="1741.25" cy="1413.75" r="5.4" fill="#FEBCD4" stroke="#000" stroke-width="1.1"/>
<circle cx="1733.75" cy="1416.25" r="5.4" fill="#FEBCD4" stroke="#000" stroke-width="1.1"/>
<circle cx="1726.25" cy="1416.25" r="5.4" fill="#FEBCD4" stroke="#000" stroke-width="1.1"/>
<circle cx="1743.75" cy="1418.75" r="5.4" fill="#FEBCD4" stroke="#000" stroke-width="1.1"/>
<circle cx="1728.75" cy="1420" r="5.4" fill="#FEBCD4" stroke="#000" stroke-width="1.1"/>
<circle cx="1737.5" cy="1421.25" r="5.4" fill="#FEBCD4" stroke="#000" stroke-width="1.1"/>
<circle cx="1730" cy="1423.75" r="5.4" fill="#FEBCD4" stroke="#000" stroke-width="1.1"/>
<circle cx="1742.5" cy="1425" r="5.4" fill="#FEBCD4" stroke="#000" stroke-width="1.1"/>
<circle cx="1725" cy="1425" r="5.4" fill="#FEBCD4" stroke="#000" stroke-width="1.1"/>
<circle cx="1732.5" cy="1427.5" r="5.4" fill="#FEBCD4" stroke="#000" stroke-width="1.1"/>
<circle cx="1740" cy="1428.75" r="5.4" fill="#FEBCD4" stroke="#000" stroke-width="1.1"/>
<circle cx="1746.25" cy="1430" r="5.4" fill="#FEBCD4" stroke="#000" stroke-width="1.1"/>
<circle cx="1735.25" cy="1432" r="5.4" fill="#FEBCD4" stroke="#000" stroke-width="1.1"/>
<path d="M1592.75 1378.75L1592.75 1415" stroke="#000" stroke-width="1.1"/>
<path d="M1584.75 1378.75L1600.75 1378.75" stroke="#000" stroke-width="1.1"/>
<path d="M1584.75 1415L1600.75 1415" stroke="#000" stroke-width="1.1"/>
<path d="M1640.25 1405.5L1640.25 1426" stroke="#000" stroke-width="1.1"/>
<path d="M1632.25 1405.5L1648.25 1405.5" stroke="#000" stroke-width="1.1"/>
<path d="M1632.25 1426L1648.25 1426" stroke="#000" stroke-width="1.1"/>
<path d="M1687.75 1403.75L1687.75 1418.75" stroke="#000" stroke-width="1.1"/>
<path d="M1679.75 1403.75L1695.75 1403.75" stroke="#000" stroke-width="1.1"/>
<path d="M1679.75 1418.75L1695.75 1418.75" stroke="#000" stroke-width="1.1"/>
<path d="M1735.25 1399L1735.25 1412" stroke="#000" stroke-width="1.1"/>
<path d="M1727.25 1399L1743.25 1399" stroke="#000" stroke-width="1.1"/>
<path d="M1727.25 1412L1743.25 1412" stroke="#000" stroke-width="1.1"/>
<text text-anchor="end" transform="translate(1605.75 1468.55) rotate(-45)">Vehicle U (10)</text>
<text text-anchor="end" transform="translate(1653.25 1468.55) rotate(-45)">FoxO1 U (8)</text>
<text text-anchor="end" transform="translate(1700.75 1468.55) rotate(-45)">Vehicle I (10)</text>
<text text-anchor="end" transform="translate(1748.25 1468.55) rotate(-45)">FoxO1 I (23)</text>
<text text-anchor="middle" transform="translate(1463.75 1321.25) rotate(-90)">AST (U l<tspan font-size="12.5" dy="-8">−1</tspan><tspan dy="8">)</tspan></text>
<text x="1830.7" y="1193" font-size="32" font-weight="bold" stroke="#000" stroke-width="1.1">n</text>
<rect x="1976.1" y="1409.5" width="31.3" height="29.5" fill="#E4B8A8"/>
<rect x="2023.6" y="1430.5" width="31.3" height="8.5" fill="#CC90D0"/>
<rect x="2071.1" y="1420" width="31.3" height="19" fill="#F0E8E4"/>
<rect x="2118.6" y="1423.75" width="31.3" height="15.25" fill="#FEE4EE"/>
<path d="M1960.25 1203.95L1960.25 1439" stroke="#000" stroke-width="1.3"/>
<path d="M1950.75 1439L2166 1439" stroke="#000" stroke-width="1.3"/>
<path d="M1950.75 1204.5L1960.25 1204.5" stroke="#000" stroke-width="1.3"/>
<text text-anchor="end" x="1940.25" y="1212">1,500</text>
<path d="M1950.75 1282.5L1960.25 1282.5" stroke="#000" stroke-width="1.3"/>
<text text-anchor="end" x="1940.25" y="1290">1,000</text>
<path d="M1950.75 1361.25L1960.25 1361.25" stroke="#000" stroke-width="1.3"/>
<text text-anchor="end" x="1940.25" y="1368.75">500</text>
<text text-anchor="end" x="1940.25" y="1446.5">0</text>
<path d="M1991.75 1439L1991.75 1448.5" stroke="#000" stroke-width="1.3"/>
<path d="M2039.25 1439L2039.25 1448.5" stroke="#000" stroke-width="1.3"/>
<path d="M2086.75 1439L2086.75 1448.5" stroke="#000" stroke-width="1.3"/>
<path d="M2134.25 1439L2134.25 1448.5" stroke="#000" stroke-width="1.3"/>
<circle cx="1991.75" cy="1282.5" r="5.4" fill="#C47050" stroke="#000" stroke-width="1.1"/>
<circle cx="1991" cy="1412" r="5.4" fill="#C47050" stroke="#000" stroke-width="1.1"/>
<circle cx="1986" cy="1419.5" r="5.4" fill="#C47050" stroke="#000" stroke-width="1.1"/>
<circle cx="1996" cy="1421.25" r="5.4" fill="#C47050" stroke="#000" stroke-width="1.1"/>
<circle cx="1991.5" cy="1423" r="5.4" fill="#C47050" stroke="#000" stroke-width="1.1"/>
<circle cx="1984.75" cy="1426.25" r="5.4" fill="#C47050" stroke="#000" stroke-width="1.1"/>
<circle cx="1981" cy="1427.5" r="5.4" fill="#C47050" stroke="#000" stroke-width="1.1"/>
<circle cx="2001.5" cy="1430" r="5.4" fill="#C47050" stroke="#000" stroke-width="1.1"/>
<circle cx="1992.25" cy="1430.5" r="5.4" fill="#C47050" stroke="#000" stroke-width="1.1"/>
<circle cx="1997.25" cy="1432" r="5.4" fill="#C47050" stroke="#000" stroke-width="1.1"/>
<circle cx="2039.75" cy="1421.25" r="5.4" fill="#A020A8" stroke="#000" stroke-width="1.1"/>
<circle cx="2033.5" cy="1425.5" r="5.4" fill="#A020A8" stroke="#000" stroke-width="1.1"/>
<circle cx="2043.5" cy="1427" r="5.4" fill="#A020A8" stroke="#000" stroke-width="1.1"/>
<circle cx="2029.75" cy="1433" r="5.4" fill="#A020A8" stroke="#000" stroke-width="1.1"/>
<circle cx="2037.25" cy="1432.5" r="5.4" fill="#A020A8" stroke="#000" stroke-width="1.1"/>
<circle cx="2048.5" cy="1432.5" r="5.4" fill="#A020A8" stroke="#000" stroke-width="1.1"/>
<circle cx="2034.75" cy="1435" r="5.4" fill="#A020A8" stroke="#000" stroke-width="1.1"/>
<circle cx="2044.75" cy="1435.5" r="5.4" fill="#A020A8" stroke="#000" stroke-width="1.1"/>
<circle cx="2086.75" cy="1353.75" r="5.4" fill="#E4D4C8" stroke="#000" stroke-width="1.1"/>
<circle cx="2086.75" cy="1405.5" r="5.4" fill="#E4D4C8" stroke="#000" stroke-width="1.1"/>
<circle cx="2086.75" cy="1412.5" r="5.4" fill="#E4D4C8" stroke="#000" stroke-width="1.1"/>
<circle cx="2079.75" cy="1425" r="5.4" fill="#E4D4C8" stroke="#000" stroke-width="1.1"/>
<circle cx="2093.5" cy="1430" r="5.4" fill="#E4D4C8" stroke="#000" stroke-width="1.1"/>
<circle cx="2091" cy="1432" r="5.4" fill="#E4D4C8" stroke="#000" stroke-width="1.1"/>
<circle cx="2076.5" cy="1433.75" r="5.4" fill="#E4D4C8" stroke="#000" stroke-width="1.1"/>
<circle cx="2084.75" cy="1433" r="5.4" fill="#E4D4C8" stroke="#000" stroke-width="1.1"/>
<circle cx="2097.25" cy="1434.5" r="5.4" fill="#E4D4C8" stroke="#000" stroke-width="1.1"/>
<circle cx="2088.5" cy="1436.25" r="5.4" fill="#E4D4C8" stroke="#000" stroke-width="1.1"/>
<circle cx="2134.25" cy="1355.75" r="5.4" fill="#FEBCD4" stroke="#000" stroke-width="1.1"/>
<circle cx="2132.25" cy="1403" r="5.4" fill="#FEBCD4" stroke="#000" stroke-width="1.1"/>
<circle cx="2135.5" cy="1408.75" r="5.4" fill="#FEBCD4" stroke="#000" stroke-width="1.1"/>
<circle cx="2133.5" cy="1412.5" r="5.4" fill="#FEBCD4" stroke="#000" stroke-width="1.1"/>
<circle cx="2138" cy="1416.25" r="5.4" fill="#FEBCD4" stroke="#000" stroke-width="1.1"/>
<circle cx="2129.75" cy="1420" r="5.4" fill="#FEBCD4" stroke="#000" stroke-width="1.1"/>
<circle cx="2134.75" cy="1420" r="5.4" fill="#FEBCD4" stroke="#000" stroke-width="1.1"/>
<circle cx="2143.5" cy="1423.75" r="5.4" fill="#FEBCD4" stroke="#000" stroke-width="1.1"/>
<circle cx="2127.25" cy="1426.25" r="5.4" fill="#FEBCD4" stroke="#000" stroke-width="1.1"/>
<circle cx="2136" cy="1425" r="5.4" fill="#FEBCD4" stroke="#000" stroke-width="1.1"/>
<circle cx="2142.25" cy="1427.5" r="5.4" fill="#FEBCD4" stroke="#000" stroke-width="1.1"/>
<circle cx="2126" cy="1427.5" r="5.4" fill="#FEBCD4" stroke="#000" stroke-width="1.1"/>
<circle cx="2136" cy="1428.75" r="5.4" fill="#FEBCD4" stroke="#000" stroke-width="1.1"/>
<circle cx="2138.5" cy="1430" r="5.4" fill="#FEBCD4" stroke="#000" stroke-width="1.1"/>
<circle cx="2123.5" cy="1432" r="5.4" fill="#FEBCD4" stroke="#000" stroke-width="1.1"/>
<circle cx="2132.25" cy="1430.5" r="5.4" fill="#FEBCD4" stroke="#000" stroke-width="1.1"/>
<circle cx="2139.75" cy="1432.5" r="5.4" fill="#FEBCD4" stroke="#000" stroke-width="1.1"/>
<circle cx="2146" cy="1431.25" r="5.4" fill="#FEBCD4" stroke="#000" stroke-width="1.1"/>
<circle cx="2129.75" cy="1433.75" r="5.4" fill="#FEBCD4" stroke="#000" stroke-width="1.1"/>
<circle cx="2128.5" cy="1436.25" r="5.4" fill="#FEBCD4" stroke="#000" stroke-width="1.1"/>
<circle cx="2136" cy="1437.5" r="5.4" fill="#FEBCD4" stroke="#000" stroke-width="1.1"/>
<circle cx="2142.25" cy="1436.25" r="5.4" fill="#FEBCD4" stroke="#000" stroke-width="1.1"/>
<circle cx="2132.25" cy="1440" r="5.4" fill="#FEBCD4" stroke="#000" stroke-width="1.1"/>
<path d="M1991.75 1395.5L1991.75 1423.75" stroke="#000" stroke-width="1.1"/>
<path d="M1983.75 1395.5L1999.75 1395.5" stroke="#000" stroke-width="1.1"/>
<path d="M1983.75 1423.75L1999.75 1423.75" stroke="#000" stroke-width="1.1"/>
<path d="M2039.25 1429L2039.25 1432" stroke="#000" stroke-width="1.1"/>
<path d="M2031.25 1429L2047.25 1429" stroke="#000" stroke-width="1.1"/>
<path d="M2031.25 1432L2047.25 1432" stroke="#000" stroke-width="1.1"/>
<path d="M2086.75 1412L2086.75 1427.5" stroke="#000" stroke-width="1.1"/>
<path d="M2078.75 1412L2094.75 1412" stroke="#000" stroke-width="1.1"/>
<path d="M2078.75 1427.5L2094.75 1427.5" stroke="#000" stroke-width="1.1"/>
<path d="M2134.25 1421L2134.25 1426.5" stroke="#000" stroke-width="1.1"/>
<path d="M2126.25 1421L2142.25 1421" stroke="#000" stroke-width="1.1"/>
<path d="M2126.25 1426.5L2142.25 1426.5" stroke="#000" stroke-width="1.1"/>
<text text-anchor="end" transform="translate(2004.75 1468.8) rotate(-45)">Vehicle U (10)</text>
<text text-anchor="end" transform="translate(2052.25 1468.8) rotate(-45)">FoxO1 U (8)</text>
<text text-anchor="end" transform="translate(2099.75 1468.8) rotate(-45)">Vehicle I (10)</text>
<text text-anchor="end" transform="translate(2147.25 1468.8) rotate(-45)">FoxO1 I (23)</text>
<text text-anchor="middle" transform="translate(1858.75 1321.75) rotate(-90)">ALT (U l<tspan font-size="12.5" dy="-8">−1</tspan><tspan dy="8">)</tspan></text>
<text x="9.4" y="1636.2" font-size="32" font-weight="bold" stroke="#000" stroke-width="1.1">o</text>
<rect x="157.1" y="1918.75" width="31.3" height="32.25" fill="#E4B8A8"/>
<rect x="204.6" y="1877" width="31.3" height="74" fill="#CC90D0"/>
<rect x="252.1" y="1929.5" width="31.3" height="21.5" fill="#F0E8E4"/>
<rect x="299.6" y="1880" width="31.3" height="71" fill="#FEE4EE"/>
<path d="M141.75 1715.7L141.75 1951" stroke="#000" stroke-width="1.3"/>
<path d="M132.25 1951L347 1951" stroke="#000" stroke-width="1.3"/>
<path d="M132.25 1716.25L141.75 1716.25" stroke="#000" stroke-width="1.3"/>
<text text-anchor="end" x="121.75" y="1723.75">150</text>
<path d="M132.25 1794.5L141.75 1794.5" stroke="#000" stroke-width="1.3"/>
<text text-anchor="end" x="121.75" y="1802">100</text>
<path d="M132.25 1872.75L141.75 1872.75" stroke="#000" stroke-width="1.3"/>
<text text-anchor="end" x="121.75" y="1880.25">50</text>
<text text-anchor="end" x="121.75" y="1958.5">0</text>
<path d="M172.75 1951L172.75 1960.5" stroke="#000" stroke-width="1.3"/>
<path d="M220.25 1951L220.25 1960.5" stroke="#000" stroke-width="1.3"/>
<path d="M267.75 1951L267.75 1960.5" stroke="#000" stroke-width="1.3"/>
<path d="M315.25 1951L315.25 1960.5" stroke="#000" stroke-width="1.3"/>
<circle cx="172.75" cy="1897.5" r="5.4" fill="#C47050" stroke="#000" stroke-width="1.1"/>
<circle cx="171.25" cy="1912" r="5.4" fill="#C47050" stroke="#000" stroke-width="1.1"/>
<circle cx="166.25" cy="1917.5" r="5.4" fill="#C47050" stroke="#000" stroke-width="1.1"/>
<circle cx="176.25" cy="1918.75" r="5.4" fill="#C47050" stroke="#000" stroke-width="1.1"/>
<circle cx="161.25" cy="1923.75" r="5.4" fill="#C47050" stroke="#000" stroke-width="1.1"/>
<circle cx="170" cy="1922.5" r="5.4" fill="#C47050" stroke="#000" stroke-width="1.1"/>
<circle cx="180" cy="1921.25" r="5.4" fill="#C47050" stroke="#000" stroke-width="1.1"/>
<circle cx="185" cy="1924.5" r="5.4" fill="#C47050" stroke="#000" stroke-width="1.1"/>
<circle cx="166.25" cy="1928" r="5.4" fill="#C47050" stroke="#000" stroke-width="1.1"/>
<circle cx="176.25" cy="1929.5" r="5.4" fill="#C47050" stroke="#000" stroke-width="1.1"/>
<circle cx="220.25" cy="1808.75" r="5.4" fill="#A020A8" stroke="#000" stroke-width="1.1"/>
<circle cx="215" cy="1840" r="5.4" fill="#A020A8" stroke="#000" stroke-width="1.1"/>
<circle cx="225" cy="1843" r="5.4" fill="#A020A8" stroke="#000" stroke-width="1.1"/>
<circle cx="220.25" cy="1861.25" r="5.4" fill="#A020A8" stroke="#000" stroke-width="1.1"/>
<circle cx="220.25" cy="1885" r="5.4" fill="#A020A8" stroke="#000" stroke-width="1.1"/>
<circle cx="210" cy="1930.5" r="5.4" fill="#A020A8" stroke="#000" stroke-width="1.1"/>
<circle cx="220.25" cy="1924.5" r="5.4" fill="#A020A8" stroke="#000" stroke-width="1.1"/>
<circle cx="230" cy="1924.5" r="5.4" fill="#A020A8" stroke="#000" stroke-width="1.1"/>
<circle cx="260" cy="1922.5" r="5.4" fill="#E4D4C8" stroke="#000" stroke-width="1.1"/>
<circle cx="266.25" cy="1923.75" r="5.4" fill="#E4D4C8" stroke="#000" stroke-width="1.1"/>
<circle cx="272.5" cy="1926.25" r="5.4" fill="#E4D4C8" stroke="#000" stroke-width="1.1"/>
<circle cx="255" cy="1930.5" r="5.4" fill="#E4D4C8" stroke="#000" stroke-width="1.1"/>
<circle cx="262.5" cy="1929.5" r="5.4" fill="#E4D4C8" stroke="#000" stroke-width="1.1"/>
<circle cx="270" cy="1931.25" r="5.4" fill="#E4D4C8" stroke="#000" stroke-width="1.1"/>
<circle cx="277.5" cy="1930.5" r="5.4" fill="#E4D4C8" stroke="#000" stroke-width="1.1"/>
<circle cx="259.5" cy="1933" r="5.4" fill="#E4D4C8" stroke="#000" stroke-width="1.1"/>
<circle cx="266.25" cy="1935" r="5.4" fill="#E4D4C8" stroke="#000" stroke-width="1.1"/>
<circle cx="273.75" cy="1932.5" r="5.4" fill="#E4D4C8" stroke="#000" stroke-width="1.1"/>
<circle cx="315.25" cy="1780.5" r="5.4" fill="#FEBCD4" stroke="#000" stroke-width="1.1"/>
<circle cx="315.25" cy="1821.25" r="5.4" fill="#FEBCD4" stroke="#000" stroke-width="1.1"/>
<circle cx="315.25" cy="1830.75" r="5.4" fill="#FEBCD4" stroke="#000" stroke-width="1.1"/>
<circle cx="313" cy="1855.5" r="5.4" fill="#FEBCD4" stroke="#000" stroke-width="1.1"/>
<circle cx="317.5" cy="1860" r="5.4" fill="#FEBCD4" stroke="#000" stroke-width="1.1"/>
<circle cx="317.5" cy="1865.5" r="5.4" fill="#FEBCD4" stroke="#000" stroke-width="1.1"/>
<circle cx="305" cy="1877.5" r="5.4" fill="#FEBCD4" stroke="#000" stroke-width="1.1"/>
<circle cx="313.75" cy="1875.5" r="5.4" fill="#FEBCD4" stroke="#000" stroke-width="1.1"/>
<circle cx="325" cy="1877.5" r="5.4" fill="#FEBCD4" stroke="#000" stroke-width="1.1"/>
<circle cx="308.75" cy="1883" r="5.4" fill="#FEBCD4" stroke="#000" stroke-width="1.1"/>
<circle cx="317.5" cy="1881.25" r="5.4" fill="#FEBCD4" stroke="#000" stroke-width="1.1"/>
<circle cx="306.25" cy="1888.75" r="5.4" fill="#FEBCD4" stroke="#000" stroke-width="1.1"/>
<circle cx="315" cy="1888" r="5.4" fill="#FEBCD4" stroke="#000" stroke-width="1.1"/>
<circle cx="323.75" cy="1889.5" r="5.4" fill="#FEBCD4" stroke="#000" stroke-width="1.1"/>
<circle cx="310" cy="1893.75" r="5.4" fill="#FEBCD4" stroke="#000" stroke-width="1.1"/>
<circle cx="320" cy="1893.75" r="5.4" fill="#FEBCD4" stroke="#000" stroke-width="1.1"/>
<circle cx="317.5" cy="1897.5" r="5.4" fill="#FEBCD4" stroke="#000" stroke-width="1.1"/>
<circle cx="311.25" cy="1898.75" r="5.4" fill="#FEBCD4" stroke="#000" stroke-width="1.1"/>
<circle cx="322.5" cy="1898.75" r="5.4" fill="#FEBCD4" stroke="#000" stroke-width="1.1"/>
<circle cx="306.25" cy="1903.75" r="5.4" fill="#FEBCD4" stroke="#000" stroke-width="1.1"/>
<circle cx="315" cy="1903.75" r="5.4" fill="#FEBCD4" stroke="#000" stroke-width="1.1"/>
<circle cx="323.75" cy="1910" r="5.4" fill="#FEBCD4" stroke="#000" stroke-width="1.1"/>
<circle cx="312.5" cy="1910" r="5.4" fill="#FEBCD4" stroke="#000" stroke-width="1.1"/>
<path d="M172.75 1915.5L172.75 1921.25" stroke="#000" stroke-width="1.1"/>
<path d="M164.75 1915.5L180.75 1915.5" stroke="#000" stroke-width="1.1"/>
<path d="M164.75 1921.25L180.75 1921.25" stroke="#000" stroke-width="1.1"/>
<path d="M220.25 1860.75L220.25 1893.75" stroke="#000" stroke-width="1.1"/>
<path d="M212.25 1860.75L228.25 1860.75" stroke="#000" stroke-width="1.1"/>
<path d="M212.25 1893.75L228.25 1893.75" stroke="#000" stroke-width="1.1"/>
<path d="M267.75 1928L267.75 1930.75" stroke="#000" stroke-width="1.1"/>
<path d="M259.75 1928L275.75 1928" stroke="#000" stroke-width="1.1"/>
<path d="M259.75 1930.75L275.75 1930.75" stroke="#000" stroke-width="1.1"/>
<path d="M315.25 1877L315.25 1883.25" stroke="#000" stroke-width="1.1"/>
<path d="M307.25 1877L323.25 1877" stroke="#000" stroke-width="1.1"/>
<path d="M307.25 1883.25L323.25 1883.25" stroke="#000" stroke-width="1.1"/>
<text text-anchor="end" transform="translate(185.75 1980.8) rotate(-45)">Vehicle U (10)</text>
<text text-anchor="end" transform="translate(233.25 1980.8) rotate(-45)">FoxO1 U (8)</text>
<text text-anchor="end" transform="translate(280.75 1980.8) rotate(-45)">Vehicle I (10)</text>
<text text-anchor="end" transform="translate(328.25 1980.8) rotate(-45)">FoxO1 I (23)</text>
<text text-anchor="middle" transform="translate(61.25 1833.62) rotate(-90)">BUN (mg dl<tspan font-size="12.5" dy="-8">−1</tspan><tspan dy="8">)</tspan></text>
<path d="M172.75 1883.75V1705.75H315.25V1719.5" stroke="#000" stroke-width="1.45" fill="none"/>
<text text-anchor="middle" x="243.75" y="1697">0.0043</text>
<path d="M267.75 1908.75V1753H315.25V1766.25" stroke="#000" stroke-width="1.45" fill="none"/>
<text text-anchor="middle" x="291.5" y="1743.75">0.0003</text>
<text x="420.6" y="1634.7" font-size="32" font-weight="bold" stroke="#000" stroke-width="1.1">p</text>
<rect x="444.1" y="1697" width="276.1" height="269.7" fill="#108888"/>
<text text-anchor="middle" x="518" y="1657.6" font-style="italic">Foxo1</text>
<text text-anchor="middle" x="518" y="1682.7"><tspan font-style="italic">Myh6<tspan font-size="12.5" dy="-9">cre−</tspan></tspan></text>
<text text-anchor="middle" x="651" y="1657.6" font-style="italic">Foxo1</text>
<text text-anchor="middle" x="651" y="1682.7"><tspan font-style="italic">Myh6<tspan font-size="12.5" dy="-9">cre+</tspan></tspan></text>
<text text-anchor="middle" transform="translate(436.2 1767.2) rotate(-90)">Uninfected</text>
<text text-anchor="middle" transform="translate(436.2 1881.9) rotate(-90)">Infected</text>
<rect x="667.3" y="1951.4" width="42.7" height="5.5" fill="#000"/>
<defs><radialGradient id="hg5" gradientUnits="userSpaceOnUse" cx="518.49" cy="1774.23" r="44.87" fx="521.49" fy="1766.23"><stop offset="0" stop-color="#CC3842"/><stop offset="0.6" stop-color="#BA2434"/><stop offset="1" stop-color="#8C1626"/></radialGradient><clipPath id="chg5"><path d="M481.28 1774.72C480.95 1768.84 483.4 1761.99 486.17 1757.09C488.95 1752.2 492.7 1748.28 497.92 1745.34C503.15 1742.41 510.98 1741.1 517.51 1739.47C524.04 1737.84 531.87 1735.22 537.09 1735.55C542.32 1735.88 545.74 1737.18 548.84 1741.43C551.95 1745.67 555.05 1754.16 555.7 1761.01C556.35 1767.87 555.21 1775.7 552.76 1782.55C550.31 1789.41 545.58 1797.08 541.01 1802.14C536.44 1807.2 531.22 1811.93 525.34 1812.91C519.47 1813.89 511.96 1811.44 505.76 1808.01C499.56 1804.59 492.21 1797.9 488.13 1792.35C484.05 1786.8 481.6 1780.6 481.28 1774.72Z"/></clipPath></defs>
<path d="M500.86 1732.61C501.35 1729.19 506.57 1729.84 509.67 1730.65C512.78 1731.47 518.49 1733.76 519.47 1737.51C520.45 1741.26 517.67 1750.89 515.55 1753.18C513.43 1755.46 509.19 1754.65 506.74 1751.22C504.29 1747.79 500.37 1736.04 500.86 1732.61Z" fill="#C83444"/>
<path d="M517.51 1719.88C520.12 1715.97 530.24 1712.37 533.18 1714.01C536.11 1715.64 535.79 1725.11 535.14 1729.67C534.48 1734.24 532.2 1740.12 529.26 1741.43C526.32 1742.73 519.47 1741.1 517.51 1737.51C515.55 1733.92 514.9 1723.8 517.51 1719.88Z" fill="#C83444"/>
<path d="M481.28 1774.72C480.95 1768.84 483.4 1761.99 486.17 1757.09C488.95 1752.2 492.7 1748.28 497.92 1745.34C503.15 1742.41 510.98 1741.1 517.51 1739.47C524.04 1737.84 531.87 1735.22 537.09 1735.55C542.32 1735.88 545.74 1737.18 548.84 1741.43C551.95 1745.67 555.05 1754.16 555.7 1761.01C556.35 1767.87 555.21 1775.7 552.76 1782.55C550.31 1789.41 545.58 1797.08 541.01 1802.14C536.44 1807.2 531.22 1811.93 525.34 1812.91C519.47 1813.89 511.96 1811.44 505.76 1808.01C499.56 1804.59 492.21 1797.9 488.13 1792.35C484.05 1786.8 481.6 1780.6 481.28 1774.72Z" fill="url(#hg5)"/>
<g clip-path="url(#chg5)" opacity="0.3"><rect x="481.28" y="1735.55" width="74.42" height="77.36" filter="url(#grn)"/></g>
<g clip-path="url(#chg5)" opacity="0.45"><g transform="rotate(0 517.51 1774.72)"><ellipse cx="517.51" cy="1774.72" rx="20" ry="16" filter="url(#spk)" fill="#fff"/></g></g>
<ellipse cx="533.18" cy="1755.14" rx="2" ry="1.5" fill="#fff" opacity="0.5"/>
<defs><radialGradient id="hg6" gradientUnits="userSpaceOnUse" cx="651.18" cy="1762.97" r="53.39" fx="654.18" fy="1754.97"><stop offset="0" stop-color="#CC3842"/><stop offset="0.6" stop-color="#BA2434"/><stop offset="1" stop-color="#8C1626"/></radialGradient><clipPath id="chg6"><path d="M616.41 1747.3C617.55 1742.08 618.21 1738 621.31 1733.59C624.41 1729.19 628.49 1723.64 635.02 1720.86C641.55 1718.09 652.64 1716.13 660.48 1716.94C668.31 1717.76 677.45 1721.68 682.02 1725.76C686.59 1729.84 686.92 1736.2 687.9 1741.43C688.88 1746.65 688.88 1751.22 687.9 1757.09C686.92 1762.97 684.96 1770.15 682.02 1776.68C679.08 1783.21 675.17 1790.88 670.27 1796.26C665.37 1801.65 658.85 1807.69 652.64 1808.99C646.44 1810.3 638.61 1807.85 633.06 1804.1C627.51 1800.34 622.45 1793 619.35 1786.47C616.25 1779.94 614.94 1771.46 614.45 1764.93C613.96 1758.4 615.27 1752.52 616.41 1747.3Z"/></clipPath></defs>
<path d="M678.1 1723.8C680.23 1722.66 689.53 1729.51 690.83 1732.61C692.14 1735.71 688.06 1741.26 685.94 1742.41C683.82 1743.55 679.41 1742.57 678.1 1739.47C676.8 1736.37 675.98 1724.94 678.1 1723.8Z" fill="#C83444"/>
<path d="M616.41 1747.3C617.55 1742.08 618.21 1738 621.31 1733.59C624.41 1729.19 628.49 1723.64 635.02 1720.86C641.55 1718.09 652.64 1716.13 660.48 1716.94C668.31 1717.76 677.45 1721.68 682.02 1725.76C686.59 1729.84 686.92 1736.2 687.9 1741.43C688.88 1746.65 688.88 1751.22 687.9 1757.09C686.92 1762.97 684.96 1770.15 682.02 1776.68C679.08 1783.21 675.17 1790.88 670.27 1796.26C665.37 1801.65 658.85 1807.69 652.64 1808.99C646.44 1810.3 638.61 1807.85 633.06 1804.1C627.51 1800.34 622.45 1793 619.35 1786.47C616.25 1779.94 614.94 1771.46 614.45 1764.93C613.96 1758.4 615.27 1752.52 616.41 1747.3Z" fill="url(#hg6)"/>
<g clip-path="url(#chg6)" opacity="0.3"><rect x="614.45" y="1716.94" width="73.44" height="92.05" filter="url(#grn)"/></g>
<g clip-path="url(#chg6)" opacity="0.5"><g transform="rotate(0 656.56 1766.89)"><ellipse cx="656.56" cy="1766.89" rx="24" ry="14" filter="url(#spk)" fill="#fff"/></g></g>
<ellipse cx="672.23" cy="1761.01" rx="2" ry="4" fill="#fff" opacity="0.5"/>
<defs><radialGradient id="hg7" gradientUnits="userSpaceOnUse" cx="518.98" cy="1881.46" r="55.66" fx="521.98" fy="1873.46"><stop offset="0" stop-color="#CC3842"/><stop offset="0.6" stop-color="#BA2434"/><stop offset="1" stop-color="#8C1626"/></radialGradient><clipPath id="chg7"><path d="M484.21 1882.44C483.56 1875.91 486.5 1868.07 488.13 1862.85C489.76 1857.63 490.42 1854.04 494.01 1851.1C497.6 1848.16 504.78 1848.16 509.67 1845.23C514.57 1842.29 518.81 1835.11 523.38 1833.47C527.95 1831.84 533.67 1832.82 537.09 1835.43C540.52 1838.04 541.66 1843.92 543.95 1849.14C546.23 1854.36 549.17 1861.22 550.8 1866.77C552.44 1872.32 554.39 1876.56 553.74 1882.44C553.09 1888.31 549.99 1895.49 546.89 1902.02C543.79 1908.55 538.89 1917.04 535.14 1921.61C531.38 1926.18 528.61 1929.44 524.36 1929.44C520.12 1929.44 515.06 1926.18 509.67 1921.61C504.29 1917.04 496.29 1908.55 492.05 1902.02C487.81 1895.49 484.87 1888.96 484.21 1882.44Z"/></clipPath></defs>
<path d="M493.62 1841.31C494.92 1838.53 500.8 1837.72 503.8 1838.37C506.8 1839.02 511.31 1842.12 511.63 1845.23C511.96 1848.33 508.37 1855.34 505.76 1856.98C503.15 1858.61 497.99 1857.63 495.97 1855.02C493.94 1852.41 492.31 1844.08 493.62 1841.31Z" fill="#C83444"/>
<path d="M484.21 1882.44C483.56 1875.91 486.5 1868.07 488.13 1862.85C489.76 1857.63 490.42 1854.04 494.01 1851.1C497.6 1848.16 504.78 1848.16 509.67 1845.23C514.57 1842.29 518.81 1835.11 523.38 1833.47C527.95 1831.84 533.67 1832.82 537.09 1835.43C540.52 1838.04 541.66 1843.92 543.95 1849.14C546.23 1854.36 549.17 1861.22 550.8 1866.77C552.44 1872.32 554.39 1876.56 553.74 1882.44C553.09 1888.31 549.99 1895.49 546.89 1902.02C543.79 1908.55 538.89 1917.04 535.14 1921.61C531.38 1926.18 528.61 1929.44 524.36 1929.44C520.12 1929.44 515.06 1926.18 509.67 1921.61C504.29 1917.04 496.29 1908.55 492.05 1902.02C487.81 1895.49 484.87 1888.96 484.21 1882.44Z" fill="url(#hg7)"/>
<g clip-path="url(#chg7)" opacity="0.3"><rect x="484.21" y="1833.47" width="69.53" height="95.97" filter="url(#grn)"/></g>
<path d="M517.51 1894.19L511.63 1909.86L512.61 1921.61" stroke="#8C1626" stroke-width="1.2" fill="none" opacity="0.6"/>
<g clip-path="url(#chg7)" opacity="0.45"><g transform="rotate(0 521.43 1878.52)"><ellipse cx="521.43" cy="1878.52" rx="18" ry="14" filter="url(#spk)" fill="#fff"/></g></g>
<ellipse cx="527.3" cy="1885.37" rx="3" ry="2" fill="#fff" opacity="0.6"/>
<defs><radialGradient id="hg8" gradientUnits="userSpaceOnUse" cx="653.13" cy="1880.28" r="61.11" fx="656.13" fy="1872.28"><stop offset="0" stop-color="#CC3842"/><stop offset="0.6" stop-color="#BA2434"/><stop offset="1" stop-color="#8C1626"/></radialGradient><clipPath id="chg8"><path d="M615.43 1866.77C615.92 1860.24 618.04 1856 619.35 1851.1C620.66 1846.2 620 1840.98 623.27 1837.39C626.53 1833.8 632.41 1831.19 638.93 1829.56C645.46 1827.93 655.91 1826.62 662.44 1827.6C668.96 1828.58 674.51 1832.17 678.1 1835.43C681.69 1838.7 682.02 1841.96 683.98 1847.18C685.94 1852.41 688.71 1859.59 689.86 1866.77C691 1873.95 692.14 1883.09 690.83 1890.27C689.53 1897.45 685.77 1903.65 682.02 1909.86C678.27 1916.06 672.56 1923.63 668.31 1927.48C664.07 1931.33 661.13 1933.29 656.56 1932.97C651.99 1932.64 646.12 1929.7 640.89 1925.52C635.67 1921.34 629.31 1913.77 625.23 1907.9C621.15 1902.02 618.04 1897.12 616.41 1890.27C614.78 1883.42 614.94 1873.3 615.43 1866.77Z"/></clipPath></defs>
<path d="M615.43 1866.77C615.92 1860.24 618.04 1856 619.35 1851.1C620.66 1846.2 620 1840.98 623.27 1837.39C626.53 1833.8 632.41 1831.19 638.93 1829.56C645.46 1827.93 655.91 1826.62 662.44 1827.6C668.96 1828.58 674.51 1832.17 678.1 1835.43C681.69 1838.7 682.02 1841.96 683.98 1847.18C685.94 1852.41 688.71 1859.59 689.86 1866.77C691 1873.95 692.14 1883.09 690.83 1890.27C689.53 1897.45 685.77 1903.65 682.02 1909.86C678.27 1916.06 672.56 1923.63 668.31 1927.48C664.07 1931.33 661.13 1933.29 656.56 1932.97C651.99 1932.64 646.12 1929.7 640.89 1925.52C635.67 1921.34 629.31 1913.77 625.23 1907.9C621.15 1902.02 618.04 1897.12 616.41 1890.27C614.78 1883.42 614.94 1873.3 615.43 1866.77Z" fill="url(#hg8)"/>
<g clip-path="url(#chg8)" opacity="0.3"><rect x="615.43" y="1827.6" width="75.4" height="105.37" filter="url(#grn)"/></g>
<g clip-path="url(#chg8)" opacity="0.45"><g transform="rotate(0 652.64 1892.23)"><ellipse cx="652.64" cy="1892.23" rx="22" ry="12" filter="url(#spk)" fill="#fff"/></g></g>
<g clip-path="url(#chg8)" opacity="0.45"><g transform="rotate(0 654.6 1841.31)"><ellipse cx="654.6" cy="1841.31" rx="22" ry="10" filter="url(#spk)" fill="#fff"/></g></g>
<ellipse cx="660.48" cy="1866.77" rx="9" ry="7" fill="#fff" opacity="0.25"/>
<text x="801" y="1636.2" font-size="32" font-weight="bold" stroke="#000" stroke-width="1.1">q</text>
<rect x="932" y="1805.5" width="29" height="145.5" fill="#CCA494"/>
<rect x="975" y="1809.25" width="29" height="141.75" fill="#D090D4"/>
<rect x="1018" y="1813" width="29" height="138" fill="#E8D8D4"/>
<rect x="1061" y="1787" width="29" height="164" fill="#FEE4EC"/>
<path d="M918.25 1715.7L918.25 1951" stroke="#000" stroke-width="1.3"/>
<path d="M908.75 1951L1104.5 1951" stroke="#000" stroke-width="1.3"/>
<path d="M908.75 1716.25L918.25 1716.25" stroke="#000" stroke-width="1.3"/>
<text text-anchor="end" x="898.25" y="1723.75">0.008</text>
<path d="M908.75 1775L918.25 1775" stroke="#000" stroke-width="1.3"/>
<text text-anchor="end" x="898.25" y="1782.5">0.006</text>
<path d="M908.75 1833.75L918.25 1833.75" stroke="#000" stroke-width="1.3"/>
<text text-anchor="end" x="898.25" y="1841.25">0.004</text>
<path d="M908.75 1892.25L918.25 1892.25" stroke="#000" stroke-width="1.3"/>
<text text-anchor="end" x="898.25" y="1899.75">0.002</text>
<text text-anchor="end" x="898.25" y="1958.5">0</text>
<path d="M946.5 1951L946.5 1960.5" stroke="#000" stroke-width="1.3"/>
<path d="M989.5 1951L989.5 1960.5" stroke="#000" stroke-width="1.3"/>
<path d="M1032.5 1951L1032.5 1960.5" stroke="#000" stroke-width="1.3"/>
<path d="M1075.5 1951L1075.5 1960.5" stroke="#000" stroke-width="1.3"/>
<circle cx="938" cy="1796.25" r="5.4" fill="#984828" stroke="#000" stroke-width="1.1"/>
<circle cx="944.25" cy="1804.25" r="5.4" fill="#984828" stroke="#000" stroke-width="1.1"/>
<circle cx="956.25" cy="1805.75" r="5.4" fill="#984828" stroke="#000" stroke-width="1.1"/>
<circle cx="949.25" cy="1810" r="5.4" fill="#984828" stroke="#000" stroke-width="1.1"/>
<circle cx="938" cy="1813" r="5.4" fill="#984828" stroke="#000" stroke-width="1.1"/>
<circle cx="989.5" cy="1791.25" r="5.4" fill="#A424AC" stroke="#000" stroke-width="1.1"/>
<circle cx="987.5" cy="1800.5" r="5.4" fill="#A424AC" stroke="#000" stroke-width="1.1"/>
<circle cx="992" cy="1803.75" r="5.4" fill="#A424AC" stroke="#000" stroke-width="1.1"/>
<circle cx="983.75" cy="1808" r="5.4" fill="#A424AC" stroke="#000" stroke-width="1.1"/>
<circle cx="993.75" cy="1808.75" r="5.4" fill="#A424AC" stroke="#000" stroke-width="1.1"/>
<circle cx="987.5" cy="1812.5" r="5.4" fill="#A424AC" stroke="#000" stroke-width="1.1"/>
<circle cx="993" cy="1813.75" r="5.4" fill="#A424AC" stroke="#000" stroke-width="1.1"/>
<circle cx="981.25" cy="1817.5" r="5.4" fill="#A424AC" stroke="#000" stroke-width="1.1"/>
<circle cx="990" cy="1818.75" r="5.4" fill="#A424AC" stroke="#000" stroke-width="1.1"/>
<circle cx="998" cy="1818" r="5.4" fill="#A424AC" stroke="#000" stroke-width="1.1"/>
<circle cx="1023.75" cy="1806.25" r="5.4" fill="#D0B0A8" stroke="#000" stroke-width="1.1"/>
<circle cx="1035.75" cy="1809.5" r="5.4" fill="#D0B0A8" stroke="#000" stroke-width="1.1"/>
<circle cx="1041.25" cy="1812" r="5.4" fill="#D0B0A8" stroke="#000" stroke-width="1.1"/>
<circle cx="1030" cy="1812" r="5.4" fill="#D0B0A8" stroke="#000" stroke-width="1.1"/>
<circle cx="1039.25" cy="1817.5" r="5.4" fill="#D0B0A8" stroke="#000" stroke-width="1.1"/>
<circle cx="1032" cy="1817.5" r="5.4" fill="#D0B0A8" stroke="#000" stroke-width="1.1"/>
<circle cx="1026.25" cy="1823.75" r="5.4" fill="#D0B0A8" stroke="#000" stroke-width="1.1"/>
<circle cx="1075.5" cy="1757" r="5.4" fill="#FEBCD4" stroke="#000" stroke-width="1.1"/>
<circle cx="1078" cy="1784.5" r="5.4" fill="#FEBCD4" stroke="#000" stroke-width="1.1"/>
<circle cx="1073.75" cy="1787" r="5.4" fill="#FEBCD4" stroke="#000" stroke-width="1.1"/>
<circle cx="1072" cy="1790" r="5.4" fill="#FEBCD4" stroke="#000" stroke-width="1.1"/>
<circle cx="1083.75" cy="1793" r="5.4" fill="#FEBCD4" stroke="#000" stroke-width="1.1"/>
<circle cx="1077.5" cy="1793.75" r="5.4" fill="#FEBCD4" stroke="#000" stroke-width="1.1"/>
<circle cx="1066.75" cy="1803" r="5.4" fill="#FEBCD4" stroke="#000" stroke-width="1.1"/>
<path d="M946.5 1803L946.5 1808" stroke="#000" stroke-width="1.1"/>
<path d="M939.5 1803L953.5 1803" stroke="#000" stroke-width="1.1"/>
<path d="M939.5 1808L953.5 1808" stroke="#000" stroke-width="1.1"/>
<path d="M989.5 1807L989.5 1812" stroke="#000" stroke-width="1.1"/>
<path d="M982.5 1807L996.5 1807" stroke="#000" stroke-width="1.1"/>
<path d="M982.5 1812L996.5 1812" stroke="#000" stroke-width="1.1"/>
<path d="M1032.5 1811.25L1032.5 1815.5" stroke="#000" stroke-width="1.1"/>
<path d="M1025.5 1811.25L1039.5 1811.25" stroke="#000" stroke-width="1.1"/>
<path d="M1025.5 1815.5L1039.5 1815.5" stroke="#000" stroke-width="1.1"/>
<path d="M1075.5 1782.5L1075.5 1792.5" stroke="#000" stroke-width="1.1"/>
<path d="M1068.5 1782.5L1082.5 1782.5" stroke="#000" stroke-width="1.1"/>
<path d="M1068.5 1792.5L1082.5 1792.5" stroke="#000" stroke-width="1.1"/>
<text text-anchor="end" transform="translate(959.5 1980.8) rotate(-45)"><tspan font-style="italic">Foxo1 Myh6<tspan font-size="12.5" dy="-8">cre−</tspan></tspan><tspan dy="8"> U (5)</tspan></text>
<text text-anchor="end" transform="translate(1002.5 1980.8) rotate(-45)"><tspan font-style="italic">Foxo1 Myh6<tspan font-size="12.5" dy="-8">cre+</tspan></tspan><tspan dy="8"> U (10)</tspan></text>
<text text-anchor="end" transform="translate(1045.5 1980.8) rotate(-45)"><tspan font-style="italic">Foxo1 Myh6<tspan font-size="12.5" dy="-8">cre−</tspan></tspan><tspan dy="8"> I (7)</tspan></text>
<text text-anchor="end" transform="translate(1088.5 1980.8) rotate(-45)"><tspan font-style="italic">Foxo1 Myh6<tspan font-size="12.5" dy="-8">cre+</tspan></tspan><tspan dy="8"> I (7)</tspan></text>
<text text-anchor="middle" transform="translate(816.25 1833.62) rotate(-90)">Heart mass/body mass</text>
<path d="M946.5 1782.5V1635.5H1075.5V1668" stroke="#000" stroke-width="1.45" fill="none"/>
<text text-anchor="middle" x="1017.5" y="1625.6">0.0478</text>
<path d="M989.5 1777.5V1682H1075.5V1695.75" stroke="#000" stroke-width="1.45" fill="none"/>
<text text-anchor="middle" x="1033.75" y="1676.25">0.0106</text>
<path d="M1032.5 1792.5V1729.5H1075.5V1743" stroke="#000" stroke-width="1.45" fill="none"/>
<text text-anchor="middle" x="1050.9" y="1725">0.0011</text>
<text x="1171.25" y="1636.2" font-size="32" font-weight="bold" stroke="#000" stroke-width="1.1">r</text>
<rect x="1283.75" y="1801.25" width="40" height="148.5" fill="#E8DCD8"/>
<rect x="1344.25" y="1770" width="40" height="179.75" fill="#FEE4EC"/>
<path d="M1263.75 1713.7L1263.75 1949.75" stroke="#000" stroke-width="1.3"/>
<path d="M1254.25 1949.75L1404.5 1949.75" stroke="#000" stroke-width="1.3"/>
<path d="M1254.25 1714.25L1263.75 1714.25" stroke="#000" stroke-width="1.3"/>
<text text-anchor="end" x="1243.75" y="1721.75">1.5</text>
<path d="M1254.25 1792.75L1263.75 1792.75" stroke="#000" stroke-width="1.3"/>
<text text-anchor="end" x="1243.75" y="1800.25">1.0</text>
<path d="M1254.25 1871.25L1263.75 1871.25" stroke="#000" stroke-width="1.3"/>
<text text-anchor="end" x="1243.75" y="1878.75">0.5</text>
<text text-anchor="end" x="1243.75" y="1957.25">0</text>
<path d="M1303.75 1949.75L1303.75 1959.25" stroke="#000" stroke-width="1.3"/>
<path d="M1364.25 1949.75L1364.25 1959.25" stroke="#000" stroke-width="1.3"/>
<circle cx="1300.5" cy="1793.25" r="6.3" fill="#CCACA4" stroke="#000" stroke-width="1.1"/>
<circle cx="1296.25" cy="1798.75" r="6.3" fill="#CCACA4" stroke="#000" stroke-width="1.1"/>
<circle cx="1307" cy="1797" r="6.3" fill="#CCACA4" stroke="#000" stroke-width="1.1"/>
<circle cx="1310" cy="1800.5" r="6.3" fill="#CCACA4" stroke="#000" stroke-width="1.1"/>
<circle cx="1290.5" cy="1805.75" r="6.3" fill="#CCACA4" stroke="#000" stroke-width="1.1"/>
<circle cx="1303" cy="1804.5" r="6.3" fill="#CCACA4" stroke="#000" stroke-width="1.1"/>
<circle cx="1317" cy="1812" r="6.3" fill="#CCACA4" stroke="#000" stroke-width="1.1"/>
<circle cx="1364.5" cy="1735" r="6.3" fill="#FEBCD4" stroke="#000" stroke-width="1.1"/>
<circle cx="1377.5" cy="1765" r="6.3" fill="#FEBCD4" stroke="#000" stroke-width="1.1"/>
<circle cx="1357.5" cy="1770" r="6.3" fill="#FEBCD4" stroke="#000" stroke-width="1.1"/>
<circle cx="1370" cy="1772.5" r="6.3" fill="#FEBCD4" stroke="#000" stroke-width="1.1"/>
<circle cx="1351.25" cy="1776.25" r="6.3" fill="#FEBCD4" stroke="#000" stroke-width="1.1"/>
<circle cx="1364.5" cy="1775" r="6.3" fill="#FEBCD4" stroke="#000" stroke-width="1.1"/>
<circle cx="1377.5" cy="1785.75" r="6.3" fill="#FEBCD4" stroke="#000" stroke-width="1.1"/>
<path d="M1303.75 1798.75L1303.75 1804.25" stroke="#000" stroke-width="1.1"/>
<path d="M1294.5 1798.75L1313 1798.75" stroke="#000" stroke-width="1.1"/>
<path d="M1294.5 1804.25L1313 1804.25" stroke="#000" stroke-width="1.1"/>
<path d="M1364.25 1762.5L1364.25 1774.5" stroke="#000" stroke-width="1.1"/>
<path d="M1354.75 1762.5L1373.75 1762.5" stroke="#000" stroke-width="1.1"/>
<path d="M1354.75 1774.5L1373.75 1774.5" stroke="#000" stroke-width="1.1"/>
<text text-anchor="end" transform="translate(1316.75 1979.55) rotate(-45)"><tspan font-style="italic">Foxo1 Myh6<tspan font-size="12.5" dy="-8">cre−</tspan></tspan><tspan dy="8"> I (7)</tspan></text>
<text text-anchor="end" transform="translate(1377.25 1979.55) rotate(-45)"><tspan font-style="italic">Foxo1 Myh6<tspan font-size="12.5" dy="-8">cre+</tspan></tspan><tspan dy="8"> I (7)</tspan></text>
<text text-anchor="middle" transform="translate(1187 1832) rotate(-90)">Infected/uninfected</text>
<path d="M1303.75 1780V1707H1364.25V1721.25" stroke="#000" stroke-width="1.45" fill="none"/>
<text text-anchor="middle" x="1336.75" y="1700.75">0.0003</text>
<text x="1456.4" y="1634" font-size="32" font-weight="bold" stroke="#000" stroke-width="1.1">s</text>
<rect x="1572.25" y="1945" width="29" height="7" fill="#CCA494"/>
<rect x="1615.25" y="1945" width="29" height="7" fill="#D090D4"/>
<rect x="1658.25" y="1947.5" width="29" height="4.5" fill="#E8D8D4"/>
<rect x="1701.5" y="1915.75" width="29" height="36.25" fill="#FEE4EC"/>
<path d="M1558.75 1716.95L1558.75 1952" stroke="#000" stroke-width="1.3"/>
<path d="M1549.25 1952L1744.5 1952" stroke="#000" stroke-width="1.3"/>
<path d="M1549.25 1717.5L1558.75 1717.5" stroke="#000" stroke-width="1.3"/>
<text text-anchor="end" x="1538.75" y="1725">50</text>
<path d="M1549.25 1764.5L1558.75 1764.5" stroke="#000" stroke-width="1.3"/>
<text text-anchor="end" x="1538.75" y="1772">40</text>
<path d="M1549.25 1811.25L1558.75 1811.25" stroke="#000" stroke-width="1.3"/>
<text text-anchor="end" x="1538.75" y="1818.75">30</text>
<path d="M1549.25 1858L1558.75 1858" stroke="#000" stroke-width="1.3"/>
<text text-anchor="end" x="1538.75" y="1865.5">20</text>
<path d="M1549.25 1905L1558.75 1905" stroke="#000" stroke-width="1.3"/>
<text text-anchor="end" x="1538.75" y="1912.5">10</text>
<text text-anchor="end" x="1538.75" y="1959.5">0</text>
<path d="M1586.75 1952L1586.75 1961.5" stroke="#000" stroke-width="1.3"/>
<path d="M1629.75 1952L1629.75 1961.5" stroke="#000" stroke-width="1.3"/>
<path d="M1672.75 1952L1672.75 1961.5" stroke="#000" stroke-width="1.3"/>
<path d="M1716 1952L1716 1961.5" stroke="#000" stroke-width="1.3"/>
<circle cx="1585.75" cy="1932.5" r="5.4" fill="#984828" stroke="#000" stroke-width="1.1"/>
<circle cx="1590.5" cy="1933.75" r="5.4" fill="#984828" stroke="#000" stroke-width="1.1"/>
<circle cx="1581.25" cy="1940" r="5.4" fill="#984828" stroke="#000" stroke-width="1.1"/>
<circle cx="1587.5" cy="1941.25" r="5.4" fill="#984828" stroke="#000" stroke-width="1.1"/>
<circle cx="1577.5" cy="1945" r="5.4" fill="#984828" stroke="#000" stroke-width="1.1"/>
<circle cx="1585" cy="1946.25" r="5.4" fill="#984828" stroke="#000" stroke-width="1.1"/>
<circle cx="1593.75" cy="1946.25" r="5.4" fill="#984828" stroke="#000" stroke-width="1.1"/>
<circle cx="1582.5" cy="1947.5" r="5.4" fill="#984828" stroke="#000" stroke-width="1.1"/>
<circle cx="1596.25" cy="1947.5" r="5.4" fill="#984828" stroke="#000" stroke-width="1.1"/>
<circle cx="1590" cy="1948.75" r="5.4" fill="#984828" stroke="#000" stroke-width="1.1"/>
<circle cx="1578" cy="1950" r="5.4" fill="#984828" stroke="#000" stroke-width="1.1"/>
<circle cx="1586.25" cy="1951.25" r="5.4" fill="#984828" stroke="#000" stroke-width="1.1"/>
<circle cx="1594.5" cy="1951.25" r="5.4" fill="#984828" stroke="#000" stroke-width="1.1"/>
<circle cx="1631.25" cy="1931.25" r="5.4" fill="#A424AC" stroke="#000" stroke-width="1.1"/>
<circle cx="1626.25" cy="1935.5" r="5.4" fill="#A424AC" stroke="#000" stroke-width="1.1"/>
<circle cx="1622.5" cy="1940.5" r="5.4" fill="#A424AC" stroke="#000" stroke-width="1.1"/>
<circle cx="1630" cy="1941.25" r="5.4" fill="#A424AC" stroke="#000" stroke-width="1.1"/>
<circle cx="1637" cy="1942.5" r="5.4" fill="#A424AC" stroke="#000" stroke-width="1.1"/>
<circle cx="1623.75" cy="1943.75" r="5.4" fill="#A424AC" stroke="#000" stroke-width="1.1"/>
<circle cx="1631.25" cy="1945" r="5.4" fill="#A424AC" stroke="#000" stroke-width="1.1"/>
<circle cx="1620" cy="1946.25" r="5.4" fill="#A424AC" stroke="#000" stroke-width="1.1"/>
<circle cx="1627.5" cy="1946.25" r="5.4" fill="#A424AC" stroke="#000" stroke-width="1.1"/>
<circle cx="1635" cy="1947" r="5.4" fill="#A424AC" stroke="#000" stroke-width="1.1"/>
<circle cx="1641.25" cy="1947.5" r="5.4" fill="#A424AC" stroke="#000" stroke-width="1.1"/>
<circle cx="1637.5" cy="1948.75" r="5.4" fill="#A424AC" stroke="#000" stroke-width="1.1"/>
<circle cx="1619.5" cy="1950" r="5.4" fill="#A424AC" stroke="#000" stroke-width="1.1"/>
<circle cx="1626.25" cy="1951.25" r="5.4" fill="#A424AC" stroke="#000" stroke-width="1.1"/>
<circle cx="1633.75" cy="1952" r="5.4" fill="#A424AC" stroke="#000" stroke-width="1.1"/>
<circle cx="1640" cy="1951.25" r="5.4" fill="#A424AC" stroke="#000" stroke-width="1.1"/>
<circle cx="1673.25" cy="1933.75" r="5.4" fill="#D0B0A8" stroke="#000" stroke-width="1.1"/>
<circle cx="1667.5" cy="1940.5" r="5.4" fill="#D0B0A8" stroke="#000" stroke-width="1.1"/>
<circle cx="1663.75" cy="1945" r="5.4" fill="#D0B0A8" stroke="#000" stroke-width="1.1"/>
<circle cx="1671.25" cy="1945" r="5.4" fill="#D0B0A8" stroke="#000" stroke-width="1.1"/>
<circle cx="1678.75" cy="1946.25" r="5.4" fill="#D0B0A8" stroke="#000" stroke-width="1.1"/>
<circle cx="1665.5" cy="1947.5" r="5.4" fill="#D0B0A8" stroke="#000" stroke-width="1.1"/>
<circle cx="1675" cy="1948" r="5.4" fill="#D0B0A8" stroke="#000" stroke-width="1.1"/>
<circle cx="1660" cy="1949.5" r="5.4" fill="#D0B0A8" stroke="#000" stroke-width="1.1"/>
<circle cx="1667" cy="1950" r="5.4" fill="#D0B0A8" stroke="#000" stroke-width="1.1"/>
<circle cx="1674.25" cy="1950.5" r="5.4" fill="#D0B0A8" stroke="#000" stroke-width="1.1"/>
<circle cx="1681.25" cy="1950.5" r="5.4" fill="#D0B0A8" stroke="#000" stroke-width="1.1"/>
<circle cx="1686.25" cy="1950.5" r="5.4" fill="#D0B0A8" stroke="#000" stroke-width="1.1"/>
<circle cx="1662.5" cy="1952" r="5.4" fill="#D0B0A8" stroke="#000" stroke-width="1.1"/>
<circle cx="1670" cy="1952.5" r="5.4" fill="#D0B0A8" stroke="#000" stroke-width="1.1"/>
<circle cx="1677.5" cy="1952.5" r="5.4" fill="#D0B0A8" stroke="#000" stroke-width="1.1"/>
<circle cx="1683.75" cy="1952.5" r="5.4" fill="#D0B0A8" stroke="#000" stroke-width="1.1"/>
<circle cx="1716" cy="1760" r="5.4" fill="#FEBCD4" stroke="#000" stroke-width="1.1"/>
<circle cx="1716" cy="1882.5" r="5.4" fill="#FEBCD4" stroke="#000" stroke-width="1.1"/>
<circle cx="1716" cy="1897.5" r="5.4" fill="#FEBCD4" stroke="#000" stroke-width="1.1"/>
<circle cx="1720" cy="1904.5" r="5.4" fill="#FEBCD4" stroke="#000" stroke-width="1.1"/>
<circle cx="1712" cy="1905" r="5.4" fill="#FEBCD4" stroke="#000" stroke-width="1.1"/>
<circle cx="1715" cy="1911.25" r="5.4" fill="#FEBCD4" stroke="#000" stroke-width="1.1"/>
<circle cx="1718" cy="1917.5" r="5.4" fill="#FEBCD4" stroke="#000" stroke-width="1.1"/>
<circle cx="1713.75" cy="1918.75" r="5.4" fill="#FEBCD4" stroke="#000" stroke-width="1.1"/>
<circle cx="1716.5" cy="1923.75" r="5.4" fill="#FEBCD4" stroke="#000" stroke-width="1.1"/>
<circle cx="1715.5" cy="1931.25" r="5.4" fill="#FEBCD4" stroke="#000" stroke-width="1.1"/>
<circle cx="1710" cy="1937.5" r="5.4" fill="#FEBCD4" stroke="#000" stroke-width="1.1"/>
<circle cx="1720" cy="1940.5" r="5.4" fill="#FEBCD4" stroke="#000" stroke-width="1.1"/>
<circle cx="1726.25" cy="1942.5" r="5.4" fill="#FEBCD4" stroke="#000" stroke-width="1.1"/>
<circle cx="1706.25" cy="1945" r="5.4" fill="#FEBCD4" stroke="#000" stroke-width="1.1"/>
<circle cx="1712.5" cy="1946.25" r="5.4" fill="#FEBCD4" stroke="#000" stroke-width="1.1"/>
<circle cx="1722" cy="1945.5" r="5.4" fill="#FEBCD4" stroke="#000" stroke-width="1.1"/>
<circle cx="1716" cy="1949.5" r="5.4" fill="#FEBCD4" stroke="#000" stroke-width="1.1"/>
<path d="M1586.75 1943L1586.75 1947" stroke="#000" stroke-width="1.1"/>
<path d="M1579.75 1943L1593.75 1943" stroke="#000" stroke-width="1.1"/>
<path d="M1579.75 1947L1593.75 1947" stroke="#000" stroke-width="1.1"/>
<path d="M1629.75 1943L1629.75 1947.5" stroke="#000" stroke-width="1.1"/>
<path d="M1622.75 1943L1636.75 1943" stroke="#000" stroke-width="1.1"/>
<path d="M1622.75 1947.5L1636.75 1947.5" stroke="#000" stroke-width="1.1"/>
<path d="M1672.75 1945.5L1672.75 1949" stroke="#000" stroke-width="1.1"/>
<path d="M1665.75 1945.5L1679.75 1945.5" stroke="#000" stroke-width="1.1"/>
<path d="M1665.75 1949L1679.75 1949" stroke="#000" stroke-width="1.1"/>
<path d="M1716 1905L1716 1926.25" stroke="#000" stroke-width="1.1"/>
<path d="M1709 1905L1723 1905" stroke="#000" stroke-width="1.1"/>
<path d="M1709 1926.25L1723 1926.25" stroke="#000" stroke-width="1.1"/>
<text text-anchor="end" transform="translate(1599.75 1981.8) rotate(-45)"><tspan font-style="italic">Foxo1 Myh6<tspan font-size="12.5" dy="-8">cre−</tspan></tspan><tspan dy="8"> U (13)</tspan></text>
<text text-anchor="end" transform="translate(1642.75 1981.8) rotate(-45)"><tspan font-style="italic">Foxo1 Myh6<tspan font-size="12.5" dy="-8">cre+</tspan></tspan><tspan dy="8"> U (16)</tspan></text>
<text text-anchor="end" transform="translate(1685.75 1981.8) rotate(-45)"><tspan font-style="italic">Foxo1 Myh6<tspan font-size="12.5" dy="-8">cre−</tspan></tspan><tspan dy="8"> I (16)</tspan></text>
<text text-anchor="end" transform="translate(1729 1981.8) rotate(-45)"><tspan font-style="italic">Foxo1 Myh6<tspan font-size="12.5" dy="-8">cre+</tspan></tspan><tspan dy="8"> I (17)</tspan></text>
<text text-anchor="middle" transform="translate(1486.25 1834.75) rotate(-90)">Troponin I (ng ml<tspan font-size="12.5" dy="-8">−1</tspan><tspan dy="8">)</tspan></text>
<path d="M1586.75 1918.75V1638H1716V1671.75" stroke="#000" stroke-width="1.45" fill="none"/>
<text text-anchor="middle" x="1651.7" y="1629">0.0335</text>
<path d="M1629.75 1918.75V1685H1716V1699.5" stroke="#000" stroke-width="1.45" fill="none"/>
<text text-anchor="middle" x="1672.75" y="1676.25">0.0029</text>
<path d="M1672.75 1921.25V1732.5H1716V1746.25" stroke="#000" stroke-width="1.45" fill="none"/>
<text text-anchor="middle" x="1694.1" y="1723.75">0.0014</text>
<text x="1826.25" y="1633.75" font-size="32" font-weight="bold" stroke="#000" stroke-width="1.1">t</text>
<rect x="1969.5" y="1949.5" width="29" height="1" fill="#CCA494"/>
<rect x="2012.5" y="1948" width="29" height="2.5" fill="#D090D4"/>
<rect x="2055.5" y="1942.5" width="29" height="8" fill="#E8D8D4"/>
<rect x="2098.75" y="1856.25" width="29" height="94.25" fill="#FEE4EC"/>
<path d="M1956 1715.7L1956 1950.5" stroke="#000" stroke-width="1.3"/>
<path d="M1946.5 1950.5L2142.25 1950.5" stroke="#000" stroke-width="1.3"/>
<path d="M1946.5 1716.25L1956 1716.25" stroke="#000" stroke-width="1.3"/>
<text text-anchor="end" x="1936" y="1723.75">6,000</text>
<path d="M1946.5 1794.5L1956 1794.5" stroke="#000" stroke-width="1.3"/>
<text text-anchor="end" x="1936" y="1802">4,000</text>
<path d="M1946.5 1872.5L1956 1872.5" stroke="#000" stroke-width="1.3"/>
<text text-anchor="end" x="1936" y="1880">2,000</text>
<text text-anchor="end" x="1936" y="1958">0</text>
<path d="M1984 1950.5L1984 1960" stroke="#000" stroke-width="1.3"/>
<path d="M2027 1950.5L2027 1960" stroke="#000" stroke-width="1.3"/>
<path d="M2070 1950.5L2070 1960" stroke="#000" stroke-width="1.3"/>
<path d="M2113.25 1950.5L2113.25 1960" stroke="#000" stroke-width="1.3"/>
<circle cx="1977.27" cy="1948.53" r="5.4" fill="#984828" stroke="#000" stroke-width="1.1"/>
<circle cx="1988.39" cy="1948.58" r="5.4" fill="#984828" stroke="#000" stroke-width="1.1"/>
<circle cx="1984.96" cy="1948.62" r="5.4" fill="#984828" stroke="#000" stroke-width="1.1"/>
<circle cx="1977.95" cy="1948.98" r="5.4" fill="#984828" stroke="#000" stroke-width="1.1"/>
<circle cx="1975.95" cy="1949.11" r="5.4" fill="#984828" stroke="#000" stroke-width="1.1"/>
<circle cx="1974.62" cy="1949.43" r="5.4" fill="#984828" stroke="#000" stroke-width="1.1"/>
<circle cx="1993.18" cy="1949.43" r="5.4" fill="#984828" stroke="#000" stroke-width="1.1"/>
<circle cx="1977.83" cy="1949.52" r="5.4" fill="#984828" stroke="#000" stroke-width="1.1"/>
<circle cx="1983.39" cy="1949.62" r="5.4" fill="#984828" stroke="#000" stroke-width="1.1"/>
<circle cx="1984.54" cy="1949.67" r="5.4" fill="#984828" stroke="#000" stroke-width="1.1"/>
<circle cx="1987.57" cy="1949.73" r="5.4" fill="#984828" stroke="#000" stroke-width="1.1"/>
<circle cx="1984.77" cy="1949.78" r="5.4" fill="#984828" stroke="#000" stroke-width="1.1"/>
<circle cx="1987.07" cy="1950.09" r="5.4" fill="#984828" stroke="#000" stroke-width="1.1"/>
<circle cx="1975.88" cy="1950.12" r="5.4" fill="#984828" stroke="#000" stroke-width="1.1"/>
<circle cx="1983.14" cy="1950.18" r="5.4" fill="#984828" stroke="#000" stroke-width="1.1"/>
<circle cx="1994.38" cy="1950.43" r="5.4" fill="#984828" stroke="#000" stroke-width="1.1"/>
<circle cx="2027" cy="1938.75" r="5.4" fill="#A424AC" stroke="#000" stroke-width="1.1"/>
<circle cx="2021" cy="1943.75" r="5.4" fill="#A424AC" stroke="#000" stroke-width="1.1"/>
<circle cx="2032.25" cy="1944.5" r="5.4" fill="#A424AC" stroke="#000" stroke-width="1.1"/>
<circle cx="2017.25" cy="1948.75" r="5.4" fill="#A424AC" stroke="#000" stroke-width="1.1"/>
<circle cx="2024.75" cy="1948" r="5.4" fill="#A424AC" stroke="#000" stroke-width="1.1"/>
<circle cx="2033.5" cy="1948.75" r="5.4" fill="#A424AC" stroke="#000" stroke-width="1.1"/>
<circle cx="2037.25" cy="1949.5" r="5.4" fill="#A424AC" stroke="#000" stroke-width="1.1"/>
<circle cx="2019.75" cy="1950.5" r="5.4" fill="#A424AC" stroke="#000" stroke-width="1.1"/>
<circle cx="2027.25" cy="1951.25" r="5.4" fill="#A424AC" stroke="#000" stroke-width="1.1"/>
<circle cx="2034.75" cy="1950.5" r="5.4" fill="#A424AC" stroke="#000" stroke-width="1.1"/>
<circle cx="2031.16" cy="1949.11" r="5.4" fill="#A424AC" stroke="#000" stroke-width="1.1"/>
<circle cx="2016.74" cy="1949.69" r="5.4" fill="#A424AC" stroke="#000" stroke-width="1.1"/>
<circle cx="2019.7" cy="1949.85" r="5.4" fill="#A424AC" stroke="#000" stroke-width="1.1"/>
<circle cx="2031.69" cy="1950.25" r="5.4" fill="#A424AC" stroke="#000" stroke-width="1.1"/>
<circle cx="2026.94" cy="1950.39" r="5.4" fill="#A424AC" stroke="#000" stroke-width="1.1"/>
<circle cx="2028.78" cy="1950.4" r="5.4" fill="#A424AC" stroke="#000" stroke-width="1.1"/>
<circle cx="2022.53" cy="1950.78" r="5.4" fill="#A424AC" stroke="#000" stroke-width="1.1"/>
<circle cx="2020.07" cy="1951.01" r="5.4" fill="#A424AC" stroke="#000" stroke-width="1.1"/>
<circle cx="2070" cy="1925" r="5.4" fill="#D0B0A8" stroke="#000" stroke-width="1.1"/>
<circle cx="2063.5" cy="1936.25" r="5.4" fill="#D0B0A8" stroke="#000" stroke-width="1.1"/>
<circle cx="2072.25" cy="1937.5" r="5.4" fill="#D0B0A8" stroke="#000" stroke-width="1.1"/>
<circle cx="2079.75" cy="1938" r="5.4" fill="#D0B0A8" stroke="#000" stroke-width="1.1"/>
<circle cx="2059.75" cy="1942.5" r="5.4" fill="#D0B0A8" stroke="#000" stroke-width="1.1"/>
<circle cx="2067.25" cy="1942" r="5.4" fill="#D0B0A8" stroke="#000" stroke-width="1.1"/>
<circle cx="2076" cy="1943" r="5.4" fill="#D0B0A8" stroke="#000" stroke-width="1.1"/>
<circle cx="2061" cy="1946.25" r="5.4" fill="#D0B0A8" stroke="#000" stroke-width="1.1"/>
<circle cx="2069.75" cy="1947" r="5.4" fill="#D0B0A8" stroke="#000" stroke-width="1.1"/>
<circle cx="2077.25" cy="1945" r="5.4" fill="#D0B0A8" stroke="#000" stroke-width="1.1"/>
<circle cx="2064.75" cy="1949.5" r="5.4" fill="#D0B0A8" stroke="#000" stroke-width="1.1"/>
<circle cx="2072.25" cy="1950" r="5.4" fill="#D0B0A8" stroke="#000" stroke-width="1.1"/>
<circle cx="2081" cy="1943.75" r="5.4" fill="#D0B0A8" stroke="#000" stroke-width="1.1"/>
<circle cx="2058.5" cy="1945" r="5.4" fill="#D0B0A8" stroke="#000" stroke-width="1.1"/>
<circle cx="2074.75" cy="1948" r="5.4" fill="#D0B0A8" stroke="#000" stroke-width="1.1"/>
<circle cx="2066" cy="1945" r="5.4" fill="#D0B0A8" stroke="#000" stroke-width="1.1"/>
<circle cx="2078.5" cy="1947.5" r="5.4" fill="#D0B0A8" stroke="#000" stroke-width="1.1"/>
<circle cx="2113.25" cy="1746.75" r="5.4" fill="#FEBCD4" stroke="#000" stroke-width="1.1"/>
<circle cx="2110.25" cy="1811.25" r="5.4" fill="#FEBCD4" stroke="#000" stroke-width="1.1"/>
<circle cx="2121.75" cy="1817.5" r="5.4" fill="#FEBCD4" stroke="#000" stroke-width="1.1"/>
<circle cx="2110.25" cy="1825.75" r="5.4" fill="#FEBCD4" stroke="#000" stroke-width="1.1"/>
<circle cx="2103.5" cy="1831.25" r="5.4" fill="#FEBCD4" stroke="#000" stroke-width="1.1"/>
<circle cx="2121.75" cy="1830.75" r="5.4" fill="#FEBCD4" stroke="#000" stroke-width="1.1"/>
<circle cx="2104.75" cy="1850" r="5.4" fill="#FEBCD4" stroke="#000" stroke-width="1.1"/>
<circle cx="2116" cy="1855" r="5.4" fill="#FEBCD4" stroke="#000" stroke-width="1.1"/>
<circle cx="2104" cy="1862" r="5.4" fill="#FEBCD4" stroke="#000" stroke-width="1.1"/>
<circle cx="2113.5" cy="1860.5" r="5.4" fill="#FEBCD4" stroke="#000" stroke-width="1.1"/>
<circle cx="2111" cy="1867.5" r="5.4" fill="#FEBCD4" stroke="#000" stroke-width="1.1"/>
<circle cx="2122.25" cy="1873.75" r="5.4" fill="#FEBCD4" stroke="#000" stroke-width="1.1"/>
<circle cx="2116" cy="1874.5" r="5.4" fill="#FEBCD4" stroke="#000" stroke-width="1.1"/>
<circle cx="2104.75" cy="1878.75" r="5.4" fill="#FEBCD4" stroke="#000" stroke-width="1.1"/>
<circle cx="2116.5" cy="1903.75" r="5.4" fill="#FEBCD4" stroke="#000" stroke-width="1.1"/>
<circle cx="2110.25" cy="1906.25" r="5.4" fill="#FEBCD4" stroke="#000" stroke-width="1.1"/>
<circle cx="2113.25" cy="1923.75" r="5.4" fill="#FEBCD4" stroke="#000" stroke-width="1.1"/>
<circle cx="2113.25" cy="1942.5" r="5.4" fill="#FEBCD4" stroke="#000" stroke-width="1.1"/>
<path d="M2027 1947.5L2027 1949.5" stroke="#000" stroke-width="1.1"/>
<path d="M2020 1947.5L2034 1947.5" stroke="#000" stroke-width="1.1"/>
<path d="M2020 1949.5L2034 1949.5" stroke="#000" stroke-width="1.1"/>
<path d="M2070 1940L2070 1944" stroke="#000" stroke-width="1.1"/>
<path d="M2063 1940L2077 1940" stroke="#000" stroke-width="1.1"/>
<path d="M2063 1944L2077 1944" stroke="#000" stroke-width="1.1"/>
<path d="M2113.25 1845L2113.25 1867.5" stroke="#000" stroke-width="1.1"/>
<path d="M2106.25 1845L2120.25 1845" stroke="#000" stroke-width="1.1"/>
<path d="M2106.25 1867.5L2120.25 1867.5" stroke="#000" stroke-width="1.1"/>
<text text-anchor="end" transform="translate(1997 1980.3) rotate(-45)"><tspan font-style="italic">Foxo1 Myh6<tspan font-size="12.5" dy="-8">cre−</tspan></tspan><tspan dy="8"> U (16)</tspan></text>
<text text-anchor="end" transform="translate(2040 1980.3) rotate(-45)"><tspan font-style="italic">Foxo1 Myh6<tspan font-size="12.5" dy="-8">cre+</tspan></tspan><tspan dy="8"> U (18)</tspan></text>
<text text-anchor="end" transform="translate(2083 1980.3) rotate(-45)"><tspan font-style="italic">Foxo1 Myh6<tspan font-size="12.5" dy="-8">cre−</tspan></tspan><tspan dy="8"> I (17)</tspan></text>
<text text-anchor="end" transform="translate(2126.25 1980.3) rotate(-45)"><tspan font-style="italic">Foxo1 Myh6<tspan font-size="12.5" dy="-8">cre+</tspan></tspan><tspan dy="8"> I (18)</tspan></text>
<text text-anchor="middle" transform="translate(1855 1833.38) rotate(-90)">BNP (pg ml<tspan font-size="12.5" dy="-8">−1</tspan><tspan dy="8">)</tspan></text>
<path d="M1984 1933.75V1624.5H2113.25V1658" stroke="#000" stroke-width="1.45" fill="none"/>
<text text-anchor="middle" x="2047.2" y="1617">&lt;0.0001</text>
<path d="M2027 1925V1671.75H2113.25V1685.5" stroke="#000" stroke-width="1.45" fill="none"/>
<text text-anchor="middle" x="2069.4" y="1665.75">&lt;0.0001</text>
<path d="M2070 1911.25V1719.5H2113.25V1732.5" stroke="#000" stroke-width="1.45" fill="none"/>
<text text-anchor="middle" x="2090.6" y="1712.5">&lt;0.0001</text>
<text x="9.4" y="2206.6" font-size="32" font-weight="bold" stroke="#000" stroke-width="1.1">u</text>
<rect x="186.75" y="2463.75" width="29" height="18.25" fill="#CCA494"/>
<rect x="229.75" y="2467" width="29" height="15" fill="#D090D4"/>
<rect x="272.75" y="2470.5" width="29" height="11.5" fill="#E8D8D4"/>
<rect x="315.75" y="2395" width="29" height="87" fill="#FEE4EC"/>
<path d="M172.75 2246.95L172.75 2482" stroke="#000" stroke-width="1.3"/>
<path d="M163.25 2482L358.75 2482" stroke="#000" stroke-width="1.3"/>
<path d="M163.25 2247.5L172.75 2247.5" stroke="#000" stroke-width="1.3"/>
<text text-anchor="end" x="152.75" y="2255">250</text>
<path d="M163.25 2294.5L172.75 2294.5" stroke="#000" stroke-width="1.3"/>
<text text-anchor="end" x="152.75" y="2302">200</text>
<path d="M163.25 2341.5L172.75 2341.5" stroke="#000" stroke-width="1.3"/>
<text text-anchor="end" x="152.75" y="2349">150</text>
<path d="M163.25 2388.5L172.75 2388.5" stroke="#000" stroke-width="1.3"/>
<text text-anchor="end" x="152.75" y="2396">100</text>
<path d="M163.25 2435.25L172.75 2435.25" stroke="#000" stroke-width="1.3"/>
<text text-anchor="end" x="152.75" y="2442.75">50</text>
<text text-anchor="end" x="152.75" y="2489.5">0</text>
<path d="M201.25 2482L201.25 2491.5" stroke="#000" stroke-width="1.3"/>
<path d="M244.25 2482L244.25 2491.5" stroke="#000" stroke-width="1.3"/>
<path d="M287.25 2482L287.25 2491.5" stroke="#000" stroke-width="1.3"/>
<path d="M330.25 2482L330.25 2491.5" stroke="#000" stroke-width="1.3"/>
<circle cx="201.25" cy="2453.75" r="5.4" fill="#984828" stroke="#000" stroke-width="1.1"/>
<circle cx="196.25" cy="2457.5" r="5.4" fill="#984828" stroke="#000" stroke-width="1.1"/>
<circle cx="206.25" cy="2458" r="5.4" fill="#984828" stroke="#000" stroke-width="1.1"/>
<circle cx="203.75" cy="2458.75" r="5.4" fill="#984828" stroke="#000" stroke-width="1.1"/>
<circle cx="210" cy="2459.5" r="5.4" fill="#984828" stroke="#000" stroke-width="1.1"/>
<circle cx="192.5" cy="2462.5" r="5.4" fill="#984828" stroke="#000" stroke-width="1.1"/>
<circle cx="200" cy="2461.25" r="5.4" fill="#984828" stroke="#000" stroke-width="1.1"/>
<circle cx="207.5" cy="2462.5" r="5.4" fill="#984828" stroke="#000" stroke-width="1.1"/>
<circle cx="212" cy="2463" r="5.4" fill="#984828" stroke="#000" stroke-width="1.1"/>
<circle cx="201.25" cy="2463.75" r="5.4" fill="#984828" stroke="#000" stroke-width="1.1"/>
<circle cx="191.25" cy="2463.75" r="5.4" fill="#984828" stroke="#000" stroke-width="1.1"/>
<circle cx="195" cy="2466.25" r="5.4" fill="#984828" stroke="#000" stroke-width="1.1"/>
<circle cx="202.5" cy="2466.25" r="5.4" fill="#984828" stroke="#000" stroke-width="1.1"/>
<circle cx="208.75" cy="2467" r="5.4" fill="#984828" stroke="#000" stroke-width="1.1"/>
<circle cx="197.5" cy="2470" r="5.4" fill="#984828" stroke="#000" stroke-width="1.1"/>
<circle cx="205" cy="2470.5" r="5.4" fill="#984828" stroke="#000" stroke-width="1.1"/>
<circle cx="238.69" cy="2461.03" r="5.4" fill="#A424AC" stroke="#000" stroke-width="1.1"/>
<circle cx="246.19" cy="2461.37" r="5.4" fill="#A424AC" stroke="#000" stroke-width="1.1"/>
<circle cx="244.32" cy="2461.95" r="5.4" fill="#A424AC" stroke="#000" stroke-width="1.1"/>
<circle cx="250.62" cy="2463.4" r="5.4" fill="#A424AC" stroke="#000" stroke-width="1.1"/>
<circle cx="244.48" cy="2463.45" r="5.4" fill="#A424AC" stroke="#000" stroke-width="1.1"/>
<circle cx="234.47" cy="2464.61" r="5.4" fill="#A424AC" stroke="#000" stroke-width="1.1"/>
<circle cx="253.98" cy="2465.11" r="5.4" fill="#A424AC" stroke="#000" stroke-width="1.1"/>
<circle cx="233.82" cy="2465.14" r="5.4" fill="#A424AC" stroke="#000" stroke-width="1.1"/>
<circle cx="247.24" cy="2466.49" r="5.4" fill="#A424AC" stroke="#000" stroke-width="1.1"/>
<circle cx="241.04" cy="2466.56" r="5.4" fill="#A424AC" stroke="#000" stroke-width="1.1"/>
<circle cx="250.92" cy="2466.91" r="5.4" fill="#A424AC" stroke="#000" stroke-width="1.1"/>
<circle cx="243.38" cy="2467.4" r="5.4" fill="#A424AC" stroke="#000" stroke-width="1.1"/>
<circle cx="252.34" cy="2468.2" r="5.4" fill="#A424AC" stroke="#000" stroke-width="1.1"/>
<circle cx="237.26" cy="2469.12" r="5.4" fill="#A424AC" stroke="#000" stroke-width="1.1"/>
<circle cx="254.95" cy="2469.73" r="5.4" fill="#A424AC" stroke="#000" stroke-width="1.1"/>
<circle cx="238.34" cy="2470.41" r="5.4" fill="#A424AC" stroke="#000" stroke-width="1.1"/>
<circle cx="237.04" cy="2470.72" r="5.4" fill="#A424AC" stroke="#000" stroke-width="1.1"/>
<circle cx="236.4" cy="2472.1" r="5.4" fill="#A424AC" stroke="#000" stroke-width="1.1"/>
<circle cx="286.25" cy="2462.5" r="5.4" fill="#D0B0A8" stroke="#000" stroke-width="1.1"/>
<circle cx="280" cy="2465" r="5.4" fill="#D0B0A8" stroke="#000" stroke-width="1.1"/>
<circle cx="291.25" cy="2466.25" r="5.4" fill="#D0B0A8" stroke="#000" stroke-width="1.1"/>
<circle cx="276.25" cy="2471.25" r="5.4" fill="#D0B0A8" stroke="#000" stroke-width="1.1"/>
<circle cx="283.75" cy="2470.5" r="5.4" fill="#D0B0A8" stroke="#000" stroke-width="1.1"/>
<circle cx="291.25" cy="2472" r="5.4" fill="#D0B0A8" stroke="#000" stroke-width="1.1"/>
<circle cx="297.5" cy="2470.5" r="5.4" fill="#D0B0A8" stroke="#000" stroke-width="1.1"/>
<circle cx="280" cy="2475.5" r="5.4" fill="#D0B0A8" stroke="#000" stroke-width="1.1"/>
<circle cx="287.5" cy="2476.25" r="5.4" fill="#D0B0A8" stroke="#000" stroke-width="1.1"/>
<circle cx="295" cy="2475" r="5.4" fill="#D0B0A8" stroke="#000" stroke-width="1.1"/>
<circle cx="280.95" cy="2466.21" r="5.4" fill="#D0B0A8" stroke="#000" stroke-width="1.1"/>
<circle cx="295.47" cy="2466.4" r="5.4" fill="#D0B0A8" stroke="#000" stroke-width="1.1"/>
<circle cx="294.18" cy="2467.32" r="5.4" fill="#D0B0A8" stroke="#000" stroke-width="1.1"/>
<circle cx="295.49" cy="2468.19" r="5.4" fill="#D0B0A8" stroke="#000" stroke-width="1.1"/>
<circle cx="289.71" cy="2468.46" r="5.4" fill="#D0B0A8" stroke="#000" stroke-width="1.1"/>
<circle cx="277.94" cy="2474.99" r="5.4" fill="#D0B0A8" stroke="#000" stroke-width="1.1"/>
<circle cx="330.25" cy="2288.75" r="5.4" fill="#FEBCD4" stroke="#000" stroke-width="1.1"/>
<circle cx="330.25" cy="2321.25" r="5.4" fill="#FEBCD4" stroke="#000" stroke-width="1.1"/>
<circle cx="330.25" cy="2329.5" r="5.4" fill="#FEBCD4" stroke="#000" stroke-width="1.1"/>
<circle cx="330.25" cy="2352" r="5.4" fill="#FEBCD4" stroke="#000" stroke-width="1.1"/>
<circle cx="330.25" cy="2373" r="5.4" fill="#FEBCD4" stroke="#000" stroke-width="1.1"/>
<circle cx="320" cy="2392" r="5.4" fill="#FEBCD4" stroke="#000" stroke-width="1.1"/>
<circle cx="326.25" cy="2393" r="5.4" fill="#FEBCD4" stroke="#000" stroke-width="1.1"/>
<circle cx="333.75" cy="2392.5" r="5.4" fill="#FEBCD4" stroke="#000" stroke-width="1.1"/>
<circle cx="340" cy="2392.5" r="5.4" fill="#FEBCD4" stroke="#000" stroke-width="1.1"/>
<circle cx="336.25" cy="2397" r="5.4" fill="#FEBCD4" stroke="#000" stroke-width="1.1"/>
<circle cx="323.75" cy="2398.75" r="5.4" fill="#FEBCD4" stroke="#000" stroke-width="1.1"/>
<circle cx="332.5" cy="2401.25" r="5.4" fill="#FEBCD4" stroke="#000" stroke-width="1.1"/>
<circle cx="330.25" cy="2406.25" r="5.4" fill="#FEBCD4" stroke="#000" stroke-width="1.1"/>
<circle cx="330.25" cy="2412.5" r="5.4" fill="#FEBCD4" stroke="#000" stroke-width="1.1"/>
<circle cx="325" cy="2427.5" r="5.4" fill="#FEBCD4" stroke="#000" stroke-width="1.1"/>
<circle cx="335" cy="2427" r="5.4" fill="#FEBCD4" stroke="#000" stroke-width="1.1"/>
<circle cx="330.25" cy="2433.75" r="5.4" fill="#FEBCD4" stroke="#000" stroke-width="1.1"/>
<circle cx="330.25" cy="2455" r="5.4" fill="#FEBCD4" stroke="#000" stroke-width="1.1"/>
<path d="M201.25 2461L201.25 2466" stroke="#000" stroke-width="1.1"/>
<path d="M194.25 2461L208.25 2461" stroke="#000" stroke-width="1.1"/>
<path d="M194.25 2466L208.25 2466" stroke="#000" stroke-width="1.1"/>
<path d="M244.25 2465L244.25 2469" stroke="#000" stroke-width="1.1"/>
<path d="M237.25 2465L251.25 2465" stroke="#000" stroke-width="1.1"/>
<path d="M237.25 2469L251.25 2469" stroke="#000" stroke-width="1.1"/>
<path d="M287.25 2468.5L287.25 2472.5" stroke="#000" stroke-width="1.1"/>
<path d="M280.25 2468.5L294.25 2468.5" stroke="#000" stroke-width="1.1"/>
<path d="M280.25 2472.5L294.25 2472.5" stroke="#000" stroke-width="1.1"/>
<path d="M330.25 2379.25L330.25 2410" stroke="#000" stroke-width="1.1"/>
<path d="M323.75 2379.25L336.75 2379.25" stroke="#000" stroke-width="1.1"/>
<text text-anchor="end" transform="translate(214.25 2511.8) rotate(-45)"><tspan font-style="italic">Foxo1 Myh6<tspan font-size="12.5" dy="-8">cre−</tspan></tspan><tspan dy="8"> U (16)</tspan></text>
<text text-anchor="end" transform="translate(257.25 2511.8) rotate(-45)"><tspan font-style="italic">Foxo1 Myh6<tspan font-size="12.5" dy="-8">cre+</tspan></tspan><tspan dy="8"> U (18)</tspan></text>
<text text-anchor="end" transform="translate(300.25 2511.8) rotate(-45)"><tspan font-style="italic">Foxo1 Myh6<tspan font-size="12.5" dy="-8">cre−</tspan></tspan><tspan dy="8"> I (16)</tspan></text>
<text text-anchor="end" transform="translate(343.25 2511.8) rotate(-45)"><tspan font-style="italic">Foxo1 Myh6<tspan font-size="12.5" dy="-8">cre+</tspan></tspan><tspan dy="8"> I (18)</tspan></text>
<text text-anchor="middle" transform="translate(90.75 2364.75) rotate(-90)">Galectin-3 (ng ml<tspan font-size="12.5" dy="-8">−1</tspan><tspan dy="8">)</tspan></text>
<path d="M201.25 2440V2166.75H330.25V2200.5" stroke="#000" stroke-width="1.45" fill="none"/>
<text text-anchor="middle" x="267.5" y="2157.5">&lt;0.0001</text>
<path d="M244.25 2447.5V2214H330.25V2228" stroke="#000" stroke-width="1.45" fill="none"/>
<text text-anchor="middle" x="284.25" y="2204.25">&lt;0.0001</text>
<path d="M287.25 2449.5V2261.25H330.25V2274.5" stroke="#000" stroke-width="1.45" fill="none"/>
<text text-anchor="middle" x="307.9" y="2257">&lt;0.0001</text>
<text x="415.75" y="2207.5" font-size="32" font-weight="bold" stroke="#000" stroke-width="1.1">v</text>
<rect x="543" y="2445" width="29" height="37" fill="#CCA494"/>
<rect x="586" y="2455.75" width="29" height="26.25" fill="#D090D4"/>
<rect x="629" y="2456.25" width="29" height="25.75" fill="#E8D8D4"/>
<rect x="672" y="2391.75" width="29" height="90.25" fill="#FEE4EC"/>
<path d="M529.25 2246.95L529.25 2482" stroke="#000" stroke-width="1.3"/>
<path d="M519.75 2482L715.5 2482" stroke="#000" stroke-width="1.3"/>
<path d="M519.75 2247.5L529.25 2247.5" stroke="#000" stroke-width="1.3"/>
<text text-anchor="end" x="509.25" y="2255">6,000</text>
<path d="M519.75 2291L529.25 2291" stroke="#000" stroke-width="1.3"/>
<text text-anchor="end" x="509.25" y="2298.5">2,000</text>
<path d="M519.75 2311.25L529.25 2311.25" stroke="#000" stroke-width="1.3"/>
<text text-anchor="end" x="509.25" y="2318.75">1,000</text>
<path d="M519.75 2396.75L529.25 2396.75" stroke="#000" stroke-width="1.3"/>
<text text-anchor="end" x="509.25" y="2404.25">500</text>
<text text-anchor="end" x="509.25" y="2489.5">0</text>
<path d="M557.5 2482L557.5 2491.5" stroke="#000" stroke-width="1.3"/>
<path d="M600.5 2482L600.5 2491.5" stroke="#000" stroke-width="1.3"/>
<path d="M643.5 2482L643.5 2491.5" stroke="#000" stroke-width="1.3"/>
<path d="M686.5 2482L686.5 2491.5" stroke="#000" stroke-width="1.3"/>
<circle cx="557.5" cy="2372" r="5.4" fill="#984828" stroke="#000" stroke-width="1.1"/>
<circle cx="558.75" cy="2402" r="5.4" fill="#984828" stroke="#000" stroke-width="1.1"/>
<circle cx="555.5" cy="2409.5" r="5.4" fill="#984828" stroke="#000" stroke-width="1.1"/>
<circle cx="557.5" cy="2427.5" r="5.4" fill="#984828" stroke="#000" stroke-width="1.1"/>
<circle cx="558.75" cy="2446.25" r="5.4" fill="#984828" stroke="#000" stroke-width="1.1"/>
<circle cx="551.25" cy="2449.5" r="5.4" fill="#984828" stroke="#000" stroke-width="1.1"/>
<circle cx="562.5" cy="2449.5" r="5.4" fill="#984828" stroke="#000" stroke-width="1.1"/>
<circle cx="554.5" cy="2455" r="5.4" fill="#984828" stroke="#000" stroke-width="1.1"/>
<circle cx="550" cy="2462.5" r="5.4" fill="#984828" stroke="#000" stroke-width="1.1"/>
<circle cx="560" cy="2462.5" r="5.4" fill="#984828" stroke="#000" stroke-width="1.1"/>
<circle cx="547.5" cy="2467" r="5.4" fill="#984828" stroke="#000" stroke-width="1.1"/>
<circle cx="555" cy="2466.25" r="5.4" fill="#984828" stroke="#000" stroke-width="1.1"/>
<circle cx="563.75" cy="2467" r="5.4" fill="#984828" stroke="#000" stroke-width="1.1"/>
<circle cx="567.5" cy="2467.5" r="5.4" fill="#984828" stroke="#000" stroke-width="1.1"/>
<circle cx="551.25" cy="2467.5" r="5.4" fill="#984828" stroke="#000" stroke-width="1.1"/>
<circle cx="560" cy="2470.5" r="5.4" fill="#984828" stroke="#000" stroke-width="1.1"/>
<circle cx="600.5" cy="2424.5" r="5.4" fill="#A424AC" stroke="#000" stroke-width="1.1"/>
<circle cx="600.5" cy="2435.5" r="5.4" fill="#A424AC" stroke="#000" stroke-width="1.1"/>
<circle cx="602.5" cy="2441.25" r="5.4" fill="#A424AC" stroke="#000" stroke-width="1.1"/>
<circle cx="598.75" cy="2448.75" r="5.4" fill="#A424AC" stroke="#000" stroke-width="1.1"/>
<circle cx="606.25" cy="2449.5" r="5.4" fill="#A424AC" stroke="#000" stroke-width="1.1"/>
<circle cx="600" cy="2452.5" r="5.4" fill="#A424AC" stroke="#000" stroke-width="1.1"/>
<circle cx="595" cy="2455" r="5.4" fill="#A424AC" stroke="#000" stroke-width="1.1"/>
<circle cx="603" cy="2456.25" r="5.4" fill="#A424AC" stroke="#000" stroke-width="1.1"/>
<circle cx="603.75" cy="2460" r="5.4" fill="#A424AC" stroke="#000" stroke-width="1.1"/>
<circle cx="597.5" cy="2461.25" r="5.4" fill="#A424AC" stroke="#000" stroke-width="1.1"/>
<circle cx="607.5" cy="2462" r="5.4" fill="#A424AC" stroke="#000" stroke-width="1.1"/>
<circle cx="593.75" cy="2463.75" r="5.4" fill="#A424AC" stroke="#000" stroke-width="1.1"/>
<circle cx="591.25" cy="2465" r="5.4" fill="#A424AC" stroke="#000" stroke-width="1.1"/>
<circle cx="604.5" cy="2465" r="5.4" fill="#A424AC" stroke="#000" stroke-width="1.1"/>
<circle cx="600" cy="2466.25" r="5.4" fill="#A424AC" stroke="#000" stroke-width="1.1"/>
<circle cx="608.75" cy="2467.5" r="5.4" fill="#A424AC" stroke="#000" stroke-width="1.1"/>
<circle cx="610.5" cy="2468" r="5.4" fill="#A424AC" stroke="#000" stroke-width="1.1"/>
<circle cx="600.5" cy="2472.5" r="5.4" fill="#A424AC" stroke="#000" stroke-width="1.1"/>
<circle cx="643.75" cy="2400.75" r="5.4" fill="#D0B0A8" stroke="#000" stroke-width="1.1"/>
<circle cx="643.75" cy="2444.5" r="5.4" fill="#D0B0A8" stroke="#000" stroke-width="1.1"/>
<circle cx="646.25" cy="2450" r="5.4" fill="#D0B0A8" stroke="#000" stroke-width="1.1"/>
<circle cx="640" cy="2455" r="5.4" fill="#D0B0A8" stroke="#000" stroke-width="1.1"/>
<circle cx="635" cy="2460" r="5.4" fill="#D0B0A8" stroke="#000" stroke-width="1.1"/>
<circle cx="643.75" cy="2459.5" r="5.4" fill="#D0B0A8" stroke="#000" stroke-width="1.1"/>
<circle cx="650" cy="2461.25" r="5.4" fill="#D0B0A8" stroke="#000" stroke-width="1.1"/>
<circle cx="636.25" cy="2462.5" r="5.4" fill="#D0B0A8" stroke="#000" stroke-width="1.1"/>
<circle cx="651.25" cy="2463.75" r="5.4" fill="#D0B0A8" stroke="#000" stroke-width="1.1"/>
<circle cx="633.75" cy="2465" r="5.4" fill="#D0B0A8" stroke="#000" stroke-width="1.1"/>
<circle cx="641.25" cy="2466.25" r="5.4" fill="#D0B0A8" stroke="#000" stroke-width="1.1"/>
<circle cx="648.75" cy="2465" r="5.4" fill="#D0B0A8" stroke="#000" stroke-width="1.1"/>
<circle cx="653" cy="2463.75" r="5.4" fill="#D0B0A8" stroke="#000" stroke-width="1.1"/>
<circle cx="647.5" cy="2467.5" r="5.4" fill="#D0B0A8" stroke="#000" stroke-width="1.1"/>
<circle cx="637.5" cy="2468.75" r="5.4" fill="#D0B0A8" stroke="#000" stroke-width="1.1"/>
<circle cx="645" cy="2469.5" r="5.4" fill="#D0B0A8" stroke="#000" stroke-width="1.1"/>
<circle cx="641.25" cy="2471.25" r="5.4" fill="#D0B0A8" stroke="#000" stroke-width="1.1"/>
<circle cx="686.5" cy="2266.75" r="5.4" fill="#FEBCD4" stroke="#000" stroke-width="1.1"/>
<circle cx="686.5" cy="2290.5" r="5.4" fill="#FEBCD4" stroke="#000" stroke-width="1.1"/>
<circle cx="686.5" cy="2415.5" r="5.4" fill="#FEBCD4" stroke="#000" stroke-width="1.1"/>
<circle cx="689.5" cy="2424.5" r="5.4" fill="#FEBCD4" stroke="#000" stroke-width="1.1"/>
<circle cx="683" cy="2427.5" r="5.4" fill="#FEBCD4" stroke="#000" stroke-width="1.1"/>
<circle cx="686.5" cy="2427" r="5.4" fill="#FEBCD4" stroke="#000" stroke-width="1.1"/>
<circle cx="686.5" cy="2445.5" r="5.4" fill="#FEBCD4" stroke="#000" stroke-width="1.1"/>
<circle cx="677.5" cy="2448.75" r="5.4" fill="#FEBCD4" stroke="#000" stroke-width="1.1"/>
<circle cx="695" cy="2450.5" r="5.4" fill="#FEBCD4" stroke="#000" stroke-width="1.1"/>
<circle cx="680.5" cy="2454.5" r="5.4" fill="#FEBCD4" stroke="#000" stroke-width="1.1"/>
<circle cx="680" cy="2455" r="5.4" fill="#FEBCD4" stroke="#000" stroke-width="1.1"/>
<circle cx="691.25" cy="2455" r="5.4" fill="#FEBCD4" stroke="#000" stroke-width="1.1"/>
<circle cx="687" cy="2460" r="5.4" fill="#FEBCD4" stroke="#000" stroke-width="1.1"/>
<circle cx="690" cy="2462.5" r="5.4" fill="#FEBCD4" stroke="#000" stroke-width="1.1"/>
<circle cx="683.75" cy="2463" r="5.4" fill="#FEBCD4" stroke="#000" stroke-width="1.1"/>
<circle cx="685" cy="2466.25" r="5.4" fill="#FEBCD4" stroke="#000" stroke-width="1.1"/>
<circle cx="679.5" cy="2468.75" r="5.4" fill="#FEBCD4" stroke="#000" stroke-width="1.1"/>
<circle cx="693" cy="2470.5" r="5.4" fill="#FEBCD4" stroke="#000" stroke-width="1.1"/>
<path d="M557.5 2438.25L557.5 2452" stroke="#000" stroke-width="1.1"/>
<path d="M550.5 2438.25L564.5 2438.25" stroke="#000" stroke-width="1.1"/>
<path d="M550.5 2452L564.5 2452" stroke="#000" stroke-width="1.1"/>
<path d="M600.5 2453.75L600.5 2458" stroke="#000" stroke-width="1.1"/>
<path d="M593.5 2453.75L607.5 2453.75" stroke="#000" stroke-width="1.1"/>
<path d="M593.5 2458L607.5 2458" stroke="#000" stroke-width="1.1"/>
<path d="M643.5 2452.5L643.5 2460.5" stroke="#000" stroke-width="1.1"/>
<path d="M636.5 2452.5L650.5 2452.5" stroke="#000" stroke-width="1.1"/>
<path d="M636.5 2460.5L650.5 2460.5" stroke="#000" stroke-width="1.1"/>
<path d="M686.5 2350L686.5 2433.75" stroke="#000" stroke-width="1.1"/>
<path d="M679.5 2350L693.5 2350" stroke="#000" stroke-width="1.1"/>
<path d="M679.5 2433.75L693.5 2433.75" stroke="#000" stroke-width="1.1"/>
<text text-anchor="end" transform="translate(570.5 2511.8) rotate(-45)"><tspan font-style="italic">Foxo1 Myh6<tspan font-size="12.5" dy="-8">cre−</tspan></tspan><tspan dy="8"> U (16)</tspan></text>
<text text-anchor="end" transform="translate(613.5 2511.8) rotate(-45)"><tspan font-style="italic">Foxo1 Myh6<tspan font-size="12.5" dy="-8">cre+</tspan></tspan><tspan dy="8"> U (18)</tspan></text>
<text text-anchor="end" transform="translate(656.5 2511.8) rotate(-45)"><tspan font-style="italic">Foxo1 Myh6<tspan font-size="12.5" dy="-8">cre−</tspan></tspan><tspan dy="8"> I (17)</tspan></text>
<text text-anchor="end" transform="translate(699.5 2511.8) rotate(-45)"><tspan font-style="italic">Foxo1 Myh6<tspan font-size="12.5" dy="-8">cre+</tspan></tspan><tspan dy="8"> I (18)</tspan></text>
<text text-anchor="middle" transform="translate(431.75 2368) rotate(-90)">AST (U l<tspan font-size="12.5" dy="-8">−1</tspan><tspan dy="8">)</tspan></text>
<rect x="527.25" y="2291.7" width="4" height="18.85" fill="#fff"/>
<path d="M516.75 2291L541.75 2291" stroke="#000" stroke-width="1.3"/>
<path d="M516.75 2311.25L541.75 2311.25" stroke="#000" stroke-width="1.3"/>
<text x="761.75" y="2207.5" font-size="32" font-weight="bold" stroke="#000" stroke-width="1.1">w</text>
<rect x="890.25" y="2430" width="29" height="52.5" fill="#CCA494"/>
<rect x="933" y="2439.5" width="29" height="43" fill="#D090D4"/>
<rect x="976" y="2440" width="29" height="42.5" fill="#E8D8D4"/>
<rect x="1019" y="2399.25" width="29" height="83.25" fill="#FEE4EC"/>
<path d="M876.25 2247.45L876.25 2482.5" stroke="#000" stroke-width="1.3"/>
<path d="M866.75 2482.5L1062.5 2482.5" stroke="#000" stroke-width="1.3"/>
<path d="M866.75 2248L876.25 2248" stroke="#000" stroke-width="1.3"/>
<text text-anchor="end" x="856.25" y="2255.5">1,500</text>
<path d="M866.75 2281.25L876.25 2281.25" stroke="#000" stroke-width="1.3"/>
<text text-anchor="end" x="856.25" y="2288.75">500</text>
<path d="M866.75 2311.25L876.25 2311.25" stroke="#000" stroke-width="1.3"/>
<text text-anchor="end" x="856.25" y="2318.75">200</text>
<path d="M866.75 2354.25L876.25 2354.25" stroke="#000" stroke-width="1.3"/>
<text text-anchor="end" x="856.25" y="2361.75">150</text>
<path d="M866.75 2397L876.25 2397" stroke="#000" stroke-width="1.3"/>
<text text-anchor="end" x="856.25" y="2404.5">100</text>
<path d="M866.75 2439.75L876.25 2439.75" stroke="#000" stroke-width="1.3"/>
<text text-anchor="end" x="856.25" y="2447.25">50</text>
<text text-anchor="end" x="856.25" y="2490">0</text>
<path d="M904.75 2482.5L904.75 2492" stroke="#000" stroke-width="1.3"/>
<path d="M947.5 2482.5L947.5 2492" stroke="#000" stroke-width="1.3"/>
<path d="M990.5 2482.5L990.5 2492" stroke="#000" stroke-width="1.3"/>
<path d="M1033.5 2482.5L1033.5 2492" stroke="#000" stroke-width="1.3"/>
<circle cx="904.75" cy="2287" r="5.4" fill="#984828" stroke="#000" stroke-width="1.1"/>
<circle cx="905.5" cy="2417.5" r="5.4" fill="#984828" stroke="#000" stroke-width="1.1"/>
<circle cx="902.5" cy="2421.25" r="5.4" fill="#984828" stroke="#000" stroke-width="1.1"/>
<circle cx="903.75" cy="2423.75" r="5.4" fill="#984828" stroke="#000" stroke-width="1.1"/>
<circle cx="906.25" cy="2425.5" r="5.4" fill="#984828" stroke="#000" stroke-width="1.1"/>
<circle cx="904.5" cy="2442.5" r="5.4" fill="#984828" stroke="#000" stroke-width="1.1"/>
<circle cx="905" cy="2451.25" r="5.4" fill="#984828" stroke="#000" stroke-width="1.1"/>
<circle cx="907.5" cy="2452.5" r="5.4" fill="#984828" stroke="#000" stroke-width="1.1"/>
<circle cx="896.25" cy="2452.5" r="5.4" fill="#984828" stroke="#000" stroke-width="1.1"/>
<circle cx="913.75" cy="2453" r="5.4" fill="#984828" stroke="#000" stroke-width="1.1"/>
<circle cx="910" cy="2455" r="5.4" fill="#984828" stroke="#000" stroke-width="1.1"/>
<circle cx="900" cy="2455" r="5.4" fill="#984828" stroke="#000" stroke-width="1.1"/>
<circle cx="897.5" cy="2456.25" r="5.4" fill="#984828" stroke="#000" stroke-width="1.1"/>
<circle cx="907" cy="2460" r="5.4" fill="#984828" stroke="#000" stroke-width="1.1"/>
<circle cx="902.5" cy="2467.5" r="5.4" fill="#984828" stroke="#000" stroke-width="1.1"/>
<circle cx="901.25" cy="2468.75" r="5.4" fill="#984828" stroke="#000" stroke-width="1.1"/>
<circle cx="947.5" cy="2288" r="5.4" fill="#A424AC" stroke="#000" stroke-width="1.1"/>
<circle cx="947.5" cy="2433.75" r="5.4" fill="#A424AC" stroke="#000" stroke-width="1.1"/>
<circle cx="943.75" cy="2440" r="5.4" fill="#A424AC" stroke="#000" stroke-width="1.1"/>
<circle cx="952.5" cy="2441.25" r="5.4" fill="#A424AC" stroke="#000" stroke-width="1.1"/>
<circle cx="947.5" cy="2446.25" r="5.4" fill="#A424AC" stroke="#000" stroke-width="1.1"/>
<circle cx="940" cy="2451.25" r="5.4" fill="#A424AC" stroke="#000" stroke-width="1.1"/>
<circle cx="953.75" cy="2452.5" r="5.4" fill="#A424AC" stroke="#000" stroke-width="1.1"/>
<circle cx="948.75" cy="2452.5" r="5.4" fill="#A424AC" stroke="#000" stroke-width="1.1"/>
<circle cx="943.75" cy="2453.75" r="5.4" fill="#A424AC" stroke="#000" stroke-width="1.1"/>
<circle cx="956.25" cy="2455" r="5.4" fill="#A424AC" stroke="#000" stroke-width="1.1"/>
<circle cx="937.5" cy="2455" r="5.4" fill="#A424AC" stroke="#000" stroke-width="1.1"/>
<circle cx="950" cy="2455" r="5.4" fill="#A424AC" stroke="#000" stroke-width="1.1"/>
<circle cx="945" cy="2457.5" r="5.4" fill="#A424AC" stroke="#000" stroke-width="1.1"/>
<circle cx="938.75" cy="2457.5" r="5.4" fill="#A424AC" stroke="#000" stroke-width="1.1"/>
<circle cx="952.5" cy="2460" r="5.4" fill="#A424AC" stroke="#000" stroke-width="1.1"/>
<circle cx="941.25" cy="2461.25" r="5.4" fill="#A424AC" stroke="#000" stroke-width="1.1"/>
<circle cx="956.25" cy="2463" r="5.4" fill="#A424AC" stroke="#000" stroke-width="1.1"/>
<circle cx="947.5" cy="2465" r="5.4" fill="#A424AC" stroke="#000" stroke-width="1.1"/>
<circle cx="990.5" cy="2288" r="5.4" fill="#D0B0A8" stroke="#000" stroke-width="1.1"/>
<circle cx="992.5" cy="2421.25" r="5.4" fill="#D0B0A8" stroke="#000" stroke-width="1.1"/>
<circle cx="988.75" cy="2426.25" r="5.4" fill="#D0B0A8" stroke="#000" stroke-width="1.1"/>
<circle cx="995" cy="2432.5" r="5.4" fill="#D0B0A8" stroke="#000" stroke-width="1.1"/>
<circle cx="986.25" cy="2437.5" r="5.4" fill="#D0B0A8" stroke="#000" stroke-width="1.1"/>
<circle cx="988.75" cy="2452.5" r="5.4" fill="#D0B0A8" stroke="#000" stroke-width="1.1"/>
<circle cx="981.25" cy="2455" r="5.4" fill="#D0B0A8" stroke="#000" stroke-width="1.1"/>
<circle cx="1000" cy="2455" r="5.4" fill="#D0B0A8" stroke="#000" stroke-width="1.1"/>
<circle cx="990" cy="2460" r="5.4" fill="#D0B0A8" stroke="#000" stroke-width="1.1"/>
<circle cx="991.25" cy="2466.25" r="5.4" fill="#D0B0A8" stroke="#000" stroke-width="1.1"/>
<circle cx="983.75" cy="2468.75" r="5.4" fill="#D0B0A8" stroke="#000" stroke-width="1.1"/>
<circle cx="993.75" cy="2468.75" r="5.4" fill="#D0B0A8" stroke="#000" stroke-width="1.1"/>
<circle cx="997.5" cy="2476.25" r="5.4" fill="#D0B0A8" stroke="#000" stroke-width="1.1"/>
<circle cx="985" cy="2447.5" r="5.4" fill="#D0B0A8" stroke="#000" stroke-width="1.1"/>
<circle cx="996.25" cy="2445" r="5.4" fill="#D0B0A8" stroke="#000" stroke-width="1.1"/>
<circle cx="987.5" cy="2442.5" r="5.4" fill="#D0B0A8" stroke="#000" stroke-width="1.1"/>
<circle cx="992.5" cy="2455" r="5.4" fill="#D0B0A8" stroke="#000" stroke-width="1.1"/>
<circle cx="1033.5" cy="2255.75" r="5.4" fill="#FEBCD4" stroke="#000" stroke-width="1.1"/>
<circle cx="1031.25" cy="2442.5" r="5.4" fill="#FEBCD4" stroke="#000" stroke-width="1.1"/>
<circle cx="1036.25" cy="2443.75" r="5.4" fill="#FEBCD4" stroke="#000" stroke-width="1.1"/>
<circle cx="1035" cy="2447.5" r="5.4" fill="#FEBCD4" stroke="#000" stroke-width="1.1"/>
<circle cx="1030" cy="2447.5" r="5.4" fill="#FEBCD4" stroke="#000" stroke-width="1.1"/>
<circle cx="1038.75" cy="2448.75" r="5.4" fill="#FEBCD4" stroke="#000" stroke-width="1.1"/>
<circle cx="1031.25" cy="2452.5" r="5.4" fill="#FEBCD4" stroke="#000" stroke-width="1.1"/>
<circle cx="1033.75" cy="2457.5" r="5.4" fill="#FEBCD4" stroke="#000" stroke-width="1.1"/>
<circle cx="1025" cy="2462.5" r="5.4" fill="#FEBCD4" stroke="#000" stroke-width="1.1"/>
<circle cx="1032.5" cy="2463.75" r="5.4" fill="#FEBCD4" stroke="#000" stroke-width="1.1"/>
<circle cx="1040" cy="2463.75" r="5.4" fill="#FEBCD4" stroke="#000" stroke-width="1.1"/>
<circle cx="1027.5" cy="2465" r="5.4" fill="#FEBCD4" stroke="#000" stroke-width="1.1"/>
<circle cx="1037.5" cy="2466.25" r="5.4" fill="#FEBCD4" stroke="#000" stroke-width="1.1"/>
<circle cx="1023.75" cy="2468" r="5.4" fill="#FEBCD4" stroke="#000" stroke-width="1.1"/>
<circle cx="1030" cy="2468.75" r="5.4" fill="#FEBCD4" stroke="#000" stroke-width="1.1"/>
<circle cx="1036.25" cy="2470" r="5.4" fill="#FEBCD4" stroke="#000" stroke-width="1.1"/>
<circle cx="1041.25" cy="2472.5" r="5.4" fill="#FEBCD4" stroke="#000" stroke-width="1.1"/>
<circle cx="1033" cy="2474.5" r="5.4" fill="#FEBCD4" stroke="#000" stroke-width="1.1"/>
<path d="M904.75 2413.75L904.75 2446" stroke="#000" stroke-width="1.1"/>
<path d="M897.75 2413.75L911.75 2413.75" stroke="#000" stroke-width="1.1"/>
<path d="M947.5 2427.5L947.5 2452" stroke="#000" stroke-width="1.1"/>
<path d="M940.5 2427.5L954.5 2427.5" stroke="#000" stroke-width="1.1"/>
<path d="M990.5 2425.5L990.5 2454.5" stroke="#000" stroke-width="1.1"/>
<path d="M983.5 2425.5L997.5 2425.5" stroke="#000" stroke-width="1.1"/>
<path d="M983.5 2454.5L997.5 2454.5" stroke="#000" stroke-width="1.1"/>
<path d="M1033.5 2340L1033.5 2457" stroke="#000" stroke-width="1.1"/>
<path d="M1026.5 2340L1040.5 2340" stroke="#000" stroke-width="1.1"/>
<text text-anchor="end" transform="translate(917.75 2512.3) rotate(-45)"><tspan font-style="italic">Foxo1 Myh6<tspan font-size="12.5" dy="-8">cre−</tspan></tspan><tspan dy="8"> U (16)</tspan></text>
<text text-anchor="end" transform="translate(960.5 2512.3) rotate(-45)"><tspan font-style="italic">Foxo1 Myh6<tspan font-size="12.5" dy="-8">cre+</tspan></tspan><tspan dy="8"> U (18)</tspan></text>
<text text-anchor="end" transform="translate(1003.5 2512.3) rotate(-45)"><tspan font-style="italic">Foxo1 Myh6<tspan font-size="12.5" dy="-8">cre−</tspan></tspan><tspan dy="8"> I (17)</tspan></text>
<text text-anchor="end" transform="translate(1046.5 2512.3) rotate(-45)"><tspan font-style="italic">Foxo1 Myh6<tspan font-size="12.5" dy="-8">cre+</tspan></tspan><tspan dy="8"> I (18)</tspan></text>
<text text-anchor="middle" transform="translate(789.25 2365.6) rotate(-90)">ALT (U l<tspan font-size="12.5" dy="-8">−1</tspan><tspan dy="8">)</tspan></text>
<rect x="874.25" y="2291.95" width="4" height="18.6" fill="#fff"/>
<path d="M863.75 2291.25L888.75 2291.25" stroke="#000" stroke-width="1.3"/>
<path d="M863.75 2311.25L888.75 2311.25" stroke="#000" stroke-width="1.3"/>
<text x="1104.5" y="2207.5" font-size="32" font-weight="bold" stroke="#000" stroke-width="1.1">x</text>
<rect x="1227.75" y="2441.25" width="29" height="41.25" fill="#CCA494"/>
<rect x="1270.5" y="2442" width="29" height="40.5" fill="#D090D4"/>
<rect x="1313.5" y="2438" width="29" height="44.5" fill="#E8D8D4"/>
<rect x="1356.5" y="2366.75" width="29" height="115.75" fill="#FEE4EC"/>
<path d="M1213.75 2247.45L1213.75 2482.5" stroke="#000" stroke-width="1.3"/>
<path d="M1204.25 2482.5L1400 2482.5" stroke="#000" stroke-width="1.3"/>
<path d="M1204.25 2248L1213.75 2248" stroke="#000" stroke-width="1.3"/>
<text text-anchor="end" x="1193.75" y="2255.5">150</text>
<path d="M1204.25 2326.25L1213.75 2326.25" stroke="#000" stroke-width="1.3"/>
<text text-anchor="end" x="1193.75" y="2333.75">100</text>
<path d="M1204.25 2404.25L1213.75 2404.25" stroke="#000" stroke-width="1.3"/>
<text text-anchor="end" x="1193.75" y="2411.75">50</text>
<text text-anchor="end" x="1193.75" y="2490">0</text>
<path d="M1242.25 2482.5L1242.25 2492" stroke="#000" stroke-width="1.3"/>
<path d="M1285 2482.5L1285 2492" stroke="#000" stroke-width="1.3"/>
<path d="M1328 2482.5L1328 2492" stroke="#000" stroke-width="1.3"/>
<path d="M1371 2482.5L1371 2492" stroke="#000" stroke-width="1.3"/>
<circle cx="1245.5" cy="2429.5" r="5.4" fill="#984828" stroke="#000" stroke-width="1.1"/>
<circle cx="1240" cy="2433.75" r="5.4" fill="#984828" stroke="#000" stroke-width="1.1"/>
<circle cx="1235" cy="2438" r="5.4" fill="#984828" stroke="#000" stroke-width="1.1"/>
<circle cx="1243.75" cy="2437.5" r="5.4" fill="#984828" stroke="#000" stroke-width="1.1"/>
<circle cx="1251.25" cy="2439.5" r="5.4" fill="#984828" stroke="#000" stroke-width="1.1"/>
<circle cx="1242.5" cy="2441.25" r="5.4" fill="#984828" stroke="#000" stroke-width="1.1"/>
<circle cx="1238.75" cy="2442.5" r="5.4" fill="#984828" stroke="#000" stroke-width="1.1"/>
<circle cx="1253.75" cy="2442.5" r="5.4" fill="#984828" stroke="#000" stroke-width="1.1"/>
<circle cx="1247.5" cy="2443.75" r="5.4" fill="#984828" stroke="#000" stroke-width="1.1"/>
<circle cx="1237.5" cy="2446.25" r="5.4" fill="#984828" stroke="#000" stroke-width="1.1"/>
<circle cx="1248.75" cy="2447" r="5.4" fill="#984828" stroke="#000" stroke-width="1.1"/>
<circle cx="1233" cy="2447.5" r="5.4" fill="#984828" stroke="#000" stroke-width="1.1"/>
<circle cx="1241.25" cy="2448" r="5.4" fill="#984828" stroke="#000" stroke-width="1.1"/>
<circle cx="1250" cy="2448.75" r="5.4" fill="#984828" stroke="#000" stroke-width="1.1"/>
<circle cx="1245" cy="2451.25" r="5.4" fill="#984828" stroke="#000" stroke-width="1.1"/>
<circle cx="1236.25" cy="2451.25" r="5.4" fill="#984828" stroke="#000" stroke-width="1.1"/>
<circle cx="1285" cy="2427.5" r="5.4" fill="#A424AC" stroke="#000" stroke-width="1.1"/>
<circle cx="1281.25" cy="2433.75" r="5.4" fill="#A424AC" stroke="#000" stroke-width="1.1"/>
<circle cx="1288.75" cy="2435" r="5.4" fill="#A424AC" stroke="#000" stroke-width="1.1"/>
<circle cx="1277.5" cy="2440" r="5.4" fill="#A424AC" stroke="#000" stroke-width="1.1"/>
<circle cx="1286.25" cy="2440" r="5.4" fill="#A424AC" stroke="#000" stroke-width="1.1"/>
<circle cx="1293.75" cy="2441.25" r="5.4" fill="#A424AC" stroke="#000" stroke-width="1.1"/>
<circle cx="1280" cy="2443.75" r="5.4" fill="#A424AC" stroke="#000" stroke-width="1.1"/>
<circle cx="1292.5" cy="2443.75" r="5.4" fill="#A424AC" stroke="#000" stroke-width="1.1"/>
<circle cx="1275" cy="2444.5" r="5.4" fill="#A424AC" stroke="#000" stroke-width="1.1"/>
<circle cx="1282.5" cy="2445.5" r="5.4" fill="#A424AC" stroke="#000" stroke-width="1.1"/>
<circle cx="1291.25" cy="2446.25" r="5.4" fill="#A424AC" stroke="#000" stroke-width="1.1"/>
<circle cx="1297.5" cy="2444.5" r="5.4" fill="#A424AC" stroke="#000" stroke-width="1.1"/>
<circle cx="1285.5" cy="2447" r="5.4" fill="#A424AC" stroke="#000" stroke-width="1.1"/>
<circle cx="1278.75" cy="2449.5" r="5.4" fill="#A424AC" stroke="#000" stroke-width="1.1"/>
<circle cx="1287.5" cy="2450.5" r="5.4" fill="#A424AC" stroke="#000" stroke-width="1.1"/>
<circle cx="1295" cy="2448.75" r="5.4" fill="#A424AC" stroke="#000" stroke-width="1.1"/>
<circle cx="1282.5" cy="2453.75" r="5.4" fill="#A424AC" stroke="#000" stroke-width="1.1"/>
<circle cx="1290" cy="2452.5" r="5.4" fill="#A424AC" stroke="#000" stroke-width="1.1"/>
<circle cx="1328" cy="2372.5" r="5.4" fill="#D0B0A8" stroke="#000" stroke-width="1.1"/>
<circle cx="1328" cy="2398" r="5.4" fill="#D0B0A8" stroke="#000" stroke-width="1.1"/>
<circle cx="1330" cy="2420" r="5.4" fill="#D0B0A8" stroke="#000" stroke-width="1.1"/>
<circle cx="1325" cy="2423.75" r="5.4" fill="#D0B0A8" stroke="#000" stroke-width="1.1"/>
<circle cx="1321.25" cy="2431.25" r="5.4" fill="#D0B0A8" stroke="#000" stroke-width="1.1"/>
<circle cx="1333.75" cy="2433.75" r="5.4" fill="#D0B0A8" stroke="#000" stroke-width="1.1"/>
<circle cx="1326.25" cy="2438.75" r="5.4" fill="#D0B0A8" stroke="#000" stroke-width="1.1"/>
<circle cx="1332.5" cy="2442.5" r="5.4" fill="#D0B0A8" stroke="#000" stroke-width="1.1"/>
<circle cx="1325" cy="2443.75" r="5.4" fill="#D0B0A8" stroke="#000" stroke-width="1.1"/>
<circle cx="1322.5" cy="2447.5" r="5.4" fill="#D0B0A8" stroke="#000" stroke-width="1.1"/>
<circle cx="1335" cy="2450" r="5.4" fill="#D0B0A8" stroke="#000" stroke-width="1.1"/>
<circle cx="1328.75" cy="2452.5" r="5.4" fill="#D0B0A8" stroke="#000" stroke-width="1.1"/>
<circle cx="1320" cy="2455" r="5.4" fill="#D0B0A8" stroke="#000" stroke-width="1.1"/>
<circle cx="1331.25" cy="2457.5" r="5.4" fill="#D0B0A8" stroke="#000" stroke-width="1.1"/>
<circle cx="1318.75" cy="2461.25" r="5.4" fill="#D0B0A8" stroke="#000" stroke-width="1.1"/>
<circle cx="1327.5" cy="2462.5" r="5.4" fill="#D0B0A8" stroke="#000" stroke-width="1.1"/>
<circle cx="1336.25" cy="2463.75" r="5.4" fill="#D0B0A8" stroke="#000" stroke-width="1.1"/>
<circle cx="1371" cy="2329.5" r="5.4" fill="#FEBCD4" stroke="#000" stroke-width="1.1"/>
<circle cx="1371" cy="2342" r="5.4" fill="#FEBCD4" stroke="#000" stroke-width="1.1"/>
<circle cx="1373.75" cy="2344.5" r="5.4" fill="#FEBCD4" stroke="#000" stroke-width="1.1"/>
<circle cx="1362.5" cy="2358" r="5.4" fill="#FEBCD4" stroke="#000" stroke-width="1.1"/>
<circle cx="1370" cy="2356.25" r="5.4" fill="#FEBCD4" stroke="#000" stroke-width="1.1"/>
<circle cx="1377.5" cy="2356.25" r="5.4" fill="#FEBCD4" stroke="#000" stroke-width="1.1"/>
<circle cx="1380" cy="2359.5" r="5.4" fill="#FEBCD4" stroke="#000" stroke-width="1.1"/>
<circle cx="1365" cy="2362.5" r="5.4" fill="#FEBCD4" stroke="#000" stroke-width="1.1"/>
<circle cx="1373.75" cy="2363.75" r="5.4" fill="#FEBCD4" stroke="#000" stroke-width="1.1"/>
<circle cx="1376.25" cy="2366.25" r="5.4" fill="#FEBCD4" stroke="#000" stroke-width="1.1"/>
<circle cx="1368.75" cy="2366.25" r="5.4" fill="#FEBCD4" stroke="#000" stroke-width="1.1"/>
<circle cx="1367.5" cy="2371.25" r="5.4" fill="#FEBCD4" stroke="#000" stroke-width="1.1"/>
<circle cx="1375" cy="2370" r="5.4" fill="#FEBCD4" stroke="#000" stroke-width="1.1"/>
<circle cx="1365" cy="2372.5" r="5.4" fill="#FEBCD4" stroke="#000" stroke-width="1.1"/>
<circle cx="1371.25" cy="2380" r="5.4" fill="#FEBCD4" stroke="#000" stroke-width="1.1"/>
<circle cx="1367.5" cy="2385" r="5.4" fill="#FEBCD4" stroke="#000" stroke-width="1.1"/>
<circle cx="1371" cy="2402.5" r="5.4" fill="#FEBCD4" stroke="#000" stroke-width="1.1"/>
<circle cx="1371" cy="2448" r="5.4" fill="#FEBCD4" stroke="#000" stroke-width="1.1"/>
<path d="M1242.25 2439.5L1242.25 2442.5" stroke="#000" stroke-width="1.1"/>
<path d="M1235.25 2439.5L1249.25 2439.5" stroke="#000" stroke-width="1.1"/>
<path d="M1235.25 2442.5L1249.25 2442.5" stroke="#000" stroke-width="1.1"/>
<path d="M1285 2440.5L1285 2443.5" stroke="#000" stroke-width="1.1"/>
<path d="M1278 2440.5L1292 2440.5" stroke="#000" stroke-width="1.1"/>
<path d="M1278 2443.5L1292 2443.5" stroke="#000" stroke-width="1.1"/>
<path d="M1328 2432.5L1328 2443.75" stroke="#000" stroke-width="1.1"/>
<path d="M1321 2432.5L1335 2432.5" stroke="#000" stroke-width="1.1"/>
<path d="M1321 2443.75L1335 2443.75" stroke="#000" stroke-width="1.1"/>
<path d="M1371 2362.5L1371 2371.25" stroke="#000" stroke-width="1.1"/>
<path d="M1364 2362.5L1378 2362.5" stroke="#000" stroke-width="1.1"/>
<path d="M1364 2371.25L1378 2371.25" stroke="#000" stroke-width="1.1"/>
<text text-anchor="end" transform="translate(1255.25 2512.3) rotate(-45)"><tspan font-style="italic">Foxo1 Myh6<tspan font-size="12.5" dy="-8">cre−</tspan></tspan><tspan dy="8"> U (16)</tspan></text>
<text text-anchor="end" transform="translate(1298 2512.3) rotate(-45)"><tspan font-style="italic">Foxo1 Myh6<tspan font-size="12.5" dy="-8">cre+</tspan></tspan><tspan dy="8"> U (18)</tspan></text>
<text text-anchor="end" transform="translate(1341 2512.3) rotate(-45)"><tspan font-style="italic">Foxo1 Myh6<tspan font-size="12.5" dy="-8">cre−</tspan></tspan><tspan dy="8"> I (17)</tspan></text>
<text text-anchor="end" transform="translate(1384 2512.3) rotate(-45)"><tspan font-style="italic">Foxo1 Myh6<tspan font-size="12.5" dy="-8">cre+</tspan></tspan><tspan dy="8"> I (18)</tspan></text>
<text text-anchor="middle" transform="translate(1132.5 2365.25) rotate(-90)">BUN (mg dl<tspan font-size="12.5" dy="-8">−1</tspan><tspan dy="8">)</tspan></text>
<path d="M1242.25 2415V2208H1371V2240.75" stroke="#000" stroke-width="1.45" fill="none"/>
<text text-anchor="middle" x="1306.75" y="2200.5">&lt;0.0001</text>
<path d="M1285 2413.75V2254.75H1371V2268.25" stroke="#000" stroke-width="1.45" fill="none"/>
<text text-anchor="middle" x="1319.6" y="2249.5">&lt;0.0001</text>
<path d="M1328 2358.75V2301.75H1371V2315.5" stroke="#000" stroke-width="1.45" fill="none"/>
<text text-anchor="middle" x="1350.9" y="2293">&lt;0.0001</text>
</svg></body></html>
